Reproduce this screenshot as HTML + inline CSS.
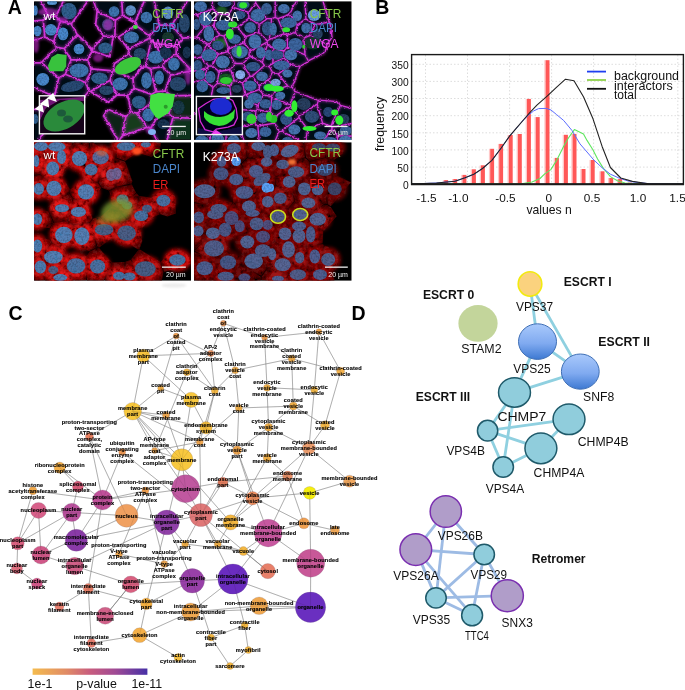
<!DOCTYPE html>
<html><head><meta charset="utf-8"><style>
html,body{margin:0;padding:0;background:#fff;}
body{width:685px;height:690px;position:relative;overflow:hidden;font-family:"Liberation Sans",sans-serif;}
.abs{position:absolute;will-change:transform;}
.lab{position:absolute;font-weight:bold;font-size:20px;line-height:1;color:#000;}
</style></head><body>
<svg class="abs" style="left:0;top:0" width="685" height="690" viewBox="0 0 685 690" font-family="Liberation Sans, sans-serif">
<defs>
<filter id="blur05" x="-20%" y="-20%" width="140%" height="140%"><feGaussianBlur stdDeviation="0.5"/></filter>
<filter id="blur1" x="-30%" y="-30%" width="160%" height="160%"><feGaussianBlur stdDeviation="1"/></filter>
<filter id="blur2" x="-30%" y="-30%" width="160%" height="160%"><feGaussianBlur stdDeviation="2"/></filter>
<filter id="blur3" x="-30%" y="-30%" width="160%" height="160%"><feGaussianBlur stdDeviation="3"/></filter>
<filter id="wig" x="-5%" y="-5%" width="110%" height="110%">
 <feTurbulence type="fractalNoise" baseFrequency="0.25" numOctaves="2" seed="3" result="t"/>
 <feDisplacementMap in="SourceGraphic" in2="t" scale="3.0" xChannelSelector="R" yChannelSelector="G" result="d"/>
 <feGaussianBlur in="d" stdDeviation="0.3"/>
</filter>
<filter id="nuctex" x="-10%" y="-10%" width="120%" height="120%">
 <feTurbulence type="fractalNoise" baseFrequency="0.55" numOctaves="2" seed="7" result="t"/>
 <feColorMatrix in="t" type="matrix" values="0 0 0 0 0  0 0 0 0 0  0 0 0 0 0  0 0 0 -1.0 0.62" result="m"/>
 <feComposite in="m" in2="SourceGraphic" operator="in" result="mm"/>
 <feGaussianBlur in="SourceGraphic" stdDeviation="0.5" result="b"/>
 <feMerge><feMergeNode in="b"/><feMergeNode in="mm"/></feMerge>
</filter>
<filter id="redtex" x="0" y="0" width="100%" height="100%">
 <feTurbulence type="fractalNoise" baseFrequency="0.22" numOctaves="3" seed="11" result="t"/>
 <feColorMatrix in="t" type="matrix" values="0 0 0 0 0  0 0 0 0 0  0 0 0 0 0  0 0 0 -2.2 1.3" result="m"/>
 <feComposite in="m" in2="SourceGraphic" operator="in" result="mm"/>
 <feMerge><feMergeNode in="SourceGraphic"/><feMergeNode in="mm"/></feMerge>
</filter>
</defs>
<clipPath id="cTL"><rect x="34" y="1.2" width="157" height="138.7"/></clipPath>
<g clip-path="url(#cTL)">
<rect x="34" y="1.2" width="157" height="138.7" fill="#000"/>
<g filter="url(#blur05)">
<path d="M85.8,2.8 L85.8,2.1 L85.3,1.8 L63.8,1.8 L56.6,16.3 L60.9,20.5 L71.0,23.0 L85.8,2.8Z" fill="#050a14"/>
<path d="M59.8,21.6 L59.6,21.0 L55.3,16.9 L48.4,16.7 L44.1,20.1 L45.5,36.7 L52.7,40.6 L53.3,40.5 L59.8,21.6Z" fill="#050a14"/>
<path d="M63.7,47.9 L64.2,47.7 L76.5,34.5 L70.8,24.4 L61.4,21.9 L60.8,22.3 L54.3,41.7 L57.2,46.7 L63.7,47.9Z" fill="#050a14"/>
<path d="M43.7,36.7 L44.1,36.1 L42.7,21.0 L42.1,20.7 L34.9,21.6 L34.6,22.1 L34.7,38.9 L35.3,39.2 L43.7,36.7Z" fill="#050a14"/>
<path d="M78.0,35.8 L77.1,35.8 L65.3,48.4 L65.2,49.0 L71.6,59.1 L86.9,59.1 L91.5,50.9 L91.5,49.5 L78.0,35.8Z" fill="#050a14"/>
<path d="M92.8,50.1 L93.2,50.6 L109.1,55.5 L112.3,37.6 L104.2,36.7 L92.9,49.2 L92.8,50.1Z" fill="#050a14"/>
<path d="M104.2,35.2 L113.0,36.3 L114.2,35.8 L114.8,20.9 L97.9,12.5 L97.5,13.0 L96.3,24.4 L104.2,35.2Z" fill="#050a14"/>
<path d="M121.7,15.4 L122.0,14.9 L121.2,2.4 L120.9,1.9 L95.2,1.8 L94.7,2.1 L97.6,10.8 L115.1,19.4 L115.7,19.4 L121.7,15.4Z" fill="#050a14"/>
<path d="M90.6,69.0 L86.8,60.4 L71.8,60.4 L71.4,60.7 L66.3,73.6 L66.6,74.1 L85.5,81.7 L85.9,81.3 L90.6,69.0Z" fill="#050a14"/>
<path d="M42.8,19.4 L47.1,16.1 L47.2,15.4 L40.8,2.0 L35.0,1.8 L34.6,2.4 L34.6,19.9 L35.2,20.3 L42.8,19.4Z" fill="#050a14"/>
<path d="M48.4,15.1 L48.9,15.4 L55.4,15.5 L61.9,2.7 L61.8,2.0 L42.6,2.0 L42.4,2.7 L48.4,15.1Z" fill="#050a14"/>
<path d="M134.2,21.0 L135.0,20.7 L143.0,2.6 L142.9,2.1 L142.4,1.8 L122.7,1.9 L122.4,2.4 L123.3,15.1 L134.2,21.0Z" fill="#050a14"/>
<path d="M149.1,34.5 L150.0,34.5 L158.7,24.7 L153.8,2.1 L153.2,1.8 L145.0,1.8 L144.5,2.2 L135.7,22.2 L136.6,25.0 L149.1,34.5Z" fill="#050a14"/>
<path d="M159.8,24.0 L160.4,24.5 L171.4,24.4 L185.4,2.7 L185.4,2.0 L155.3,1.9 L155.1,2.5 L159.8,24.0Z" fill="#050a14"/>
<path d="M172.7,24.7 L172.7,25.4 L183.1,37.5 L190.3,36.8 L190.2,1.9 L187.3,2.0 L172.7,24.7Z" fill="#050a14"/>
<path d="M149.1,36.3 L136.0,26.1 L119.8,36.8 L119.5,37.3 L129.2,48.2 L148.8,37.9 L149.1,36.3Z" fill="#050a14"/>
<path d="M141.7,66.6 L144.6,66.2 L145.0,65.8 L150.5,41.0 L149.4,39.1 L129.4,49.8 L128.9,54.0 L141.7,66.6Z" fill="#050a14"/>
<path d="M150.4,67.9 L161.9,66.0 L163.5,62.4 L154.9,43.8 L152.0,42.0 L151.4,42.5 L146.2,65.8 L146.6,66.4 L150.4,67.9Z" fill="#050a14"/>
<path d="M175.6,47.4 L175.1,46.9 L157.5,44.2 L156.8,44.7 L164.1,60.8 L164.6,61.1 L175.5,53.6 L175.6,47.4Z" fill="#050a14"/>
<path d="M176.5,55.1 L175.7,55.0 L164.8,62.7 L163.4,66.1 L163.5,66.7 L170.9,74.5 L189.7,70.6 L189.7,69.7 L176.5,55.1Z" fill="#050a14"/>
<path d="M183.4,38.8 L176.8,46.6 L176.8,53.5 L189.4,67.5 L189.9,67.7 L190.4,67.1 L190.4,38.8 L189.8,38.3 L183.4,38.8Z" fill="#050a14"/>
<path d="M41.3,63.4 L35.2,63.4 L34.6,63.9 L34.6,87.2 L53.8,95.4 L54.1,94.9 L58.0,78.2 L41.3,63.4Z" fill="#050a14"/>
<path d="M85.7,83.4 L65.5,74.9 L59.4,78.4 L55.0,96.4 L59.0,107.6 L59.5,108.2 L71.4,111.4 L72.0,111.2 L87.9,91.3 L85.7,83.4Z" fill="#050a14"/>
<path d="M109.3,79.9 L111.7,72.0 L111.5,71.3 L91.8,69.5 L86.7,82.6 L89.1,90.4 L90.5,90.7 L109.3,79.9Z" fill="#050a14"/>
<path d="M108.1,101.3 L108.8,101.3 L116.0,94.7 L110.1,81.6 L109.6,81.3 L92.5,90.9 L92.2,91.4 L92.5,92.0 L108.1,101.3Z" fill="#050a14"/>
<path d="M35.2,110.1 L34.6,110.7 L34.6,138.8 L35.1,139.3 L38.7,139.3 L58.2,109.2 L57.6,108.6 L35.2,110.1Z" fill="#050a14"/>
<path d="M113.9,71.2 L113.1,71.6 L110.7,80.2 L117.2,94.1 L117.7,94.4 L127.4,94.4 L133.5,88.0 L132.3,79.3 L113.9,71.2Z" fill="#050a14"/>
<path d="M134.7,87.5 L135.0,88.0 L151.3,93.7 L154.9,91.6 L149.9,69.0 L145.4,67.2 L142.0,68.2 L133.6,78.9 L134.7,87.5Z" fill="#050a14"/>
<path d="M151.9,69.0 L151.4,69.7 L156.2,90.8 L156.8,91.1 L164.7,90.2 L169.7,75.2 L162.3,67.3 L151.9,69.0Z" fill="#050a14"/>
<path d="M171.4,75.7 L170.9,76.1 L166.1,90.2 L166.2,90.9 L172.1,95.2 L190.2,94.6 L190.2,72.0 L189.7,71.9 L171.4,75.7Z" fill="#050a14"/>
<path d="M131.5,111.2 L132.0,111.6 L137.2,112.4 L149.7,103.4 L150.7,94.8 L134.7,89.1 L134.1,89.2 L128.3,95.4 L131.5,111.2Z" fill="#050a14"/>
<path d="M138.6,112.9 L138.5,113.7 L147.5,126.5 L149.9,127.5 L150.5,127.2 L157.8,115.1 L150.3,104.7 L138.6,112.9Z" fill="#050a14"/>
<path d="M159.3,115.5 L151.3,128.6 L157.1,139.2 L166.5,139.3 L166.9,138.8 L172.1,117.8 L168.8,114.8 L159.3,115.5Z" fill="#050a14"/>
<path d="M172.8,96.4 L172.2,97.0 L170.0,114.1 L173.3,117.0 L190.2,117.3 L190.3,96.2 L172.8,96.4Z" fill="#0e2616"/>
<path d="M42.7,62.2 L42.7,63.1 L59.0,77.2 L64.8,73.7 L70.4,59.8 L63.9,49.3 L57.1,48.0 L42.7,62.2Z" fill="#050a14"/>
<path d="M140.7,67.9 L140.6,67.1 L127.9,55.1 L115.2,63.8 L114.0,69.6 L114.4,70.1 L132.6,77.9 L140.7,67.9Z" fill="#050a14"/>
<path d="M158.8,114.0 L159.3,114.3 L168.1,113.7 L168.7,113.2 L171.1,96.3 L165.0,91.5 L156.0,92.4 L152.1,95.0 L151.1,103.5 L158.8,114.0Z" fill="#050a14"/>
<path d="M151.5,40.1 L155.6,42.7 L175.7,45.7 L181.9,38.2 L171.4,25.8 L159.9,25.7 L150.3,35.8 L150.3,37.9 L151.5,40.1Z" fill="#050a14"/>
<path d="M123.2,134.0 L123.4,134.6 L124.0,134.7 L145.8,126.9 L145.8,126.2 L136.9,113.7 L131.3,112.8 L126.5,116.9 L123.2,134.0Z" fill="#123a1e"/>
<path d="M173.8,118.2 L173.2,118.6 L168.3,139.1 L190.2,139.2 L190.3,118.9 L173.8,118.2Z" fill="#10301e"/>
<path d="M121.6,135.9 L125.0,117.0 L108.6,110.4 L104.6,115.3 L104.5,115.9 L117.7,139.1 L119.3,139.2 L121.6,135.9Z" fill="#0c2414"/>
</g>
<path d="M191.0,37.6 L182.9,38.2 M187.1,1.2 L171.7,25.1 M182.9,38.2 L171.7,25.1 M171.7,25.1 L159.4,25.1 M159.4,25.1 L154.2,1.2 M41.1,1.2 L48.1,16.0 M34.0,21.0 L43.3,20.0 M48.1,16.0 L43.3,20.0 M155.3,43.3 L164.2,62.4 M176.2,46.4 L155.3,43.3 M176.2,46.4 L176.2,53.9 M164.2,62.4 L176.2,53.9 M182.9,38.2 L176.2,46.4 M191.0,70.2 L176.2,53.9 M155.8,91.8 L165.2,90.9 M155.8,91.8 L150.5,68.6 M165.2,90.9 L170.6,75.2 M170.6,75.2 L162.6,66.5 M150.5,68.6 L162.6,66.5 M191.0,95.4 L171.8,95.9 M171.8,95.9 L165.2,90.9 M191.0,71.0 L170.6,75.2 M164.2,62.4 L162.6,66.5 M158.7,114.9 L169.1,114.2 M158.7,114.9 L150.5,128.4 M156.7,139.9 L150.5,128.4 M167.2,139.9 L172.9,117.5 M172.9,117.5 L169.1,114.2 M191.0,118.1 L172.9,117.5 M171.8,95.9 L169.1,114.2 M147.2,127.1 L150.5,128.4 M147.2,127.1 L137.3,113.1 M158.7,114.9 L150.4,103.6 M137.3,113.1 L150.4,103.6 M155.8,91.8 L151.6,94.4 M151.6,94.4 L150.4,103.6 M159.4,25.1 L149.7,35.7 M144.3,1.2 L135.0,22.1 M149.7,35.7 L136.0,25.3 M135.0,22.1 L136.0,25.3 M147.2,127.1 L122.2,136.0 M122.2,136.0 L119.6,139.9 M39.3,139.9 L59.3,108.9 M34.0,109.5 L58.5,108.0 M59.3,108.9 L58.5,108.0 M135.0,22.1 L122.6,15.5 M121.8,1.2 L122.6,15.5 M48.1,16.0 L55.7,16.3 M55.7,16.3 L63.3,1.2 M117.5,139.9 L103.6,115.5 M59.3,108.9 L72.0,112.2 M43.3,20.0 L44.8,37.0 M44.8,37.0 L34.0,40.2 M149.7,35.7 L149.7,38.1 M118.3,37.1 L128.9,49.1 M136.0,25.3 L118.3,37.1 M128.9,49.1 L149.7,38.1 M155.3,43.3 L151.2,40.7 M150.5,68.6 L145.4,66.6 M151.2,40.7 L145.4,66.6 M151.2,40.7 L149.7,38.1 M34.0,62.9 L41.3,62.7 M34.0,87.8 L54.4,96.5 M41.3,62.7 L58.8,78.0 M54.4,96.5 L58.8,78.0 M58.5,108.0 L54.4,96.5 M122.6,15.5 L115.4,20.3 M93.6,1.2 L97.1,11.2 M97.1,11.2 L115.4,20.3 M115.4,20.3 L114.9,36.3 M77.3,34.7 L71.2,23.9 M77.3,34.7 L64.2,48.6 M64.2,48.6 L56.7,47.3 M60.6,21.1 L71.2,23.9 M60.6,21.1 L53.6,41.8 M53.6,41.8 L56.7,47.3 M71.1,59.8 L64.2,48.6 M65.3,74.2 L71.1,59.8 M65.3,74.2 L58.8,78.0 M41.3,62.7 L56.7,47.3 M55.7,16.3 L60.6,21.1 M87.7,1.2 L71.2,23.9 M44.8,37.0 L53.6,41.8 M128.9,49.1 L128.1,54.1 M145.4,66.6 L141.8,67.5 M141.8,67.5 L128.1,54.1 M114.9,36.3 L113.2,36.9 M109.7,56.6 L113.2,36.9 M128.1,54.1 L114.5,63.5 M104.0,36.0 L95.7,24.6 M104.0,36.0 L92.1,49.1 M92.1,49.1 L77.8,34.8 M113.2,36.9 L104.0,36.0 M97.1,11.2 L95.7,24.6 M109.7,56.6 L92.2,51.0 M92.2,51.0 L92.1,49.1 M77.3,34.7 L77.8,34.8 M71.1,59.8 L87.4,59.8 M87.4,59.8 L92.2,51.0 M103.6,115.5 L108.5,109.5 M122.2,136.0 L125.9,116.6 M108.5,109.5 L125.9,116.6 M137.3,113.1 L131.1,112.1 M131.1,112.1 L125.9,116.6 M141.8,67.5 L132.9,78.8 M114.5,63.5 L113.2,70.3 M113.2,70.3 L132.9,78.8 M151.6,94.4 L134.2,88.3 M131.1,112.1 L127.6,95.1 M134.2,88.3 L127.6,95.1 M134.2,88.3 L132.9,78.8 M108.5,102.3 L116.9,95.0 M127.6,95.1 L116.9,95.0 M112.7,70.8 L110.1,80.2 M112.7,70.8 L91.3,68.8 M110.1,80.2 L90.5,91.4 M91.3,68.8 L86.1,82.7 M86.1,82.7 L88.7,91.3 M88.7,91.3 L90.5,91.4 M113.2,70.3 L112.7,70.8 M116.9,95.0 L110.1,80.2 M87.4,59.8 L91.3,68.8 M108.5,102.3 L90.5,91.4 M65.3,74.2 L86.1,82.7 M72.0,112.2 L88.7,91.3" fill="none" stroke="#d034d6" stroke-width="4.42" stroke-opacity="0.35" filter="url(#blur1)"/>
<path d="M191.0,37.6 L182.9,38.2 M187.1,1.2 L171.7,25.1 M182.9,38.2 L171.7,25.1 M171.7,25.1 L159.4,25.1 M159.4,25.1 L154.2,1.2 M41.1,1.2 L48.1,16.0 M34.0,21.0 L43.3,20.0 M48.1,16.0 L43.3,20.0 M155.3,43.3 L164.2,62.4 M176.2,46.4 L155.3,43.3 M176.2,46.4 L176.2,53.9 M164.2,62.4 L176.2,53.9 M182.9,38.2 L176.2,46.4 M191.0,70.2 L176.2,53.9 M155.8,91.8 L165.2,90.9 M155.8,91.8 L150.5,68.6 M165.2,90.9 L170.6,75.2 M170.6,75.2 L162.6,66.5 M150.5,68.6 L162.6,66.5 M191.0,95.4 L171.8,95.9 M171.8,95.9 L165.2,90.9 M191.0,71.0 L170.6,75.2 M164.2,62.4 L162.6,66.5 M158.7,114.9 L169.1,114.2 M158.7,114.9 L150.5,128.4 M156.7,139.9 L150.5,128.4 M167.2,139.9 L172.9,117.5 M172.9,117.5 L169.1,114.2 M191.0,118.1 L172.9,117.5 M171.8,95.9 L169.1,114.2 M147.2,127.1 L150.5,128.4 M147.2,127.1 L137.3,113.1 M158.7,114.9 L150.4,103.6 M137.3,113.1 L150.4,103.6 M155.8,91.8 L151.6,94.4 M151.6,94.4 L150.4,103.6 M159.4,25.1 L149.7,35.7 M144.3,1.2 L135.0,22.1 M149.7,35.7 L136.0,25.3 M135.0,22.1 L136.0,25.3 M147.2,127.1 L122.2,136.0 M122.2,136.0 L119.6,139.9 M39.3,139.9 L59.3,108.9 M34.0,109.5 L58.5,108.0 M59.3,108.9 L58.5,108.0 M135.0,22.1 L122.6,15.5 M121.8,1.2 L122.6,15.5 M48.1,16.0 L55.7,16.3 M55.7,16.3 L63.3,1.2 M117.5,139.9 L103.6,115.5 M59.3,108.9 L72.0,112.2 M43.3,20.0 L44.8,37.0 M44.8,37.0 L34.0,40.2 M149.7,35.7 L149.7,38.1 M118.3,37.1 L128.9,49.1 M136.0,25.3 L118.3,37.1 M128.9,49.1 L149.7,38.1 M155.3,43.3 L151.2,40.7 M150.5,68.6 L145.4,66.6 M151.2,40.7 L145.4,66.6 M151.2,40.7 L149.7,38.1 M34.0,62.9 L41.3,62.7 M34.0,87.8 L54.4,96.5 M41.3,62.7 L58.8,78.0 M54.4,96.5 L58.8,78.0 M58.5,108.0 L54.4,96.5 M122.6,15.5 L115.4,20.3 M93.6,1.2 L97.1,11.2 M97.1,11.2 L115.4,20.3 M115.4,20.3 L114.9,36.3 M77.3,34.7 L71.2,23.9 M77.3,34.7 L64.2,48.6 M64.2,48.6 L56.7,47.3 M60.6,21.1 L71.2,23.9 M60.6,21.1 L53.6,41.8 M53.6,41.8 L56.7,47.3 M71.1,59.8 L64.2,48.6 M65.3,74.2 L71.1,59.8 M65.3,74.2 L58.8,78.0 M41.3,62.7 L56.7,47.3 M55.7,16.3 L60.6,21.1 M87.7,1.2 L71.2,23.9 M44.8,37.0 L53.6,41.8 M128.9,49.1 L128.1,54.1 M145.4,66.6 L141.8,67.5 M141.8,67.5 L128.1,54.1 M114.9,36.3 L113.2,36.9 M109.7,56.6 L113.2,36.9 M128.1,54.1 L114.5,63.5 M104.0,36.0 L95.7,24.6 M104.0,36.0 L92.1,49.1 M92.1,49.1 L77.8,34.8 M113.2,36.9 L104.0,36.0 M97.1,11.2 L95.7,24.6 M109.7,56.6 L92.2,51.0 M92.2,51.0 L92.1,49.1 M77.3,34.7 L77.8,34.8 M71.1,59.8 L87.4,59.8 M87.4,59.8 L92.2,51.0 M103.6,115.5 L108.5,109.5 M122.2,136.0 L125.9,116.6 M108.5,109.5 L125.9,116.6 M137.3,113.1 L131.1,112.1 M131.1,112.1 L125.9,116.6 M141.8,67.5 L132.9,78.8 M114.5,63.5 L113.2,70.3 M113.2,70.3 L132.9,78.8 M151.6,94.4 L134.2,88.3 M131.1,112.1 L127.6,95.1 M134.2,88.3 L127.6,95.1 M134.2,88.3 L132.9,78.8 M108.5,102.3 L116.9,95.0 M127.6,95.1 L116.9,95.0 M112.7,70.8 L110.1,80.2 M112.7,70.8 L91.3,68.8 M110.1,80.2 L90.5,91.4 M91.3,68.8 L86.1,82.7 M86.1,82.7 L88.7,91.3 M88.7,91.3 L90.5,91.4 M113.2,70.3 L112.7,70.8 M116.9,95.0 L110.1,80.2 M87.4,59.8 L91.3,68.8 M108.5,102.3 L90.5,91.4 M65.3,74.2 L86.1,82.7 M72.0,112.2 L88.7,91.3" fill="none" stroke="#d034d6" stroke-width="1.7" stroke-linecap="round" filter="url(#wig)"/>
<path d="M187.1,37.8h0.01M183.3,38.4h0.01M179.6,11.9h0.01M187.7,1.4h0.01M173.5,21.0h0.01M174.4,24.9h0.01M183.9,8.1h0.01M179.0,15.0h0.01M182.3,12.2h0.01M176.4,14.7h0.01M177.2,32.0h0.01M182.4,37.9h0.01M179.8,38.6h0.01M179.8,34.8h0.01M160.0,23.8h0.01M170.3,26.0h0.01M169.6,25.7h0.01M156.6,24.0h0.01M159.1,20.7h0.01M154.5,7.9h0.01M157.1,5.4h0.01M157.1,20.9h0.01M159.0,17.4h0.01M43.1,0.5h0.01M47.4,14.5h0.01M41.2,4.6h0.01M40.5,1.6h0.01M35.4,21.8h0.01M35.0,20.9h0.01M43.4,17.4h0.01M162.6,57.9h0.01M154.8,44.2h0.01M160.5,57.5h0.01M157.1,43.6h0.01M158.4,48.4h0.01M157.6,51.4h0.01M168.5,43.4h0.01M162.6,46.2h0.01M168.2,46.1h0.01M157.5,44.0h0.01M166.0,45.8h0.01M168.5,46.1h0.01M178.2,48.3h0.01M177.0,50.0h0.01M175.1,56.2h0.01M177.6,56.3h0.01M168.1,61.9h0.01M174.3,55.1h0.01M177.1,46.2h0.01M178.4,42.8h0.01M179.7,42.5h0.01M191.0,67.0h0.01M188.5,67.1h0.01M180.8,60.0h0.01M180.4,57.8h0.01M178.9,59.0h0.01M190.9,66.7h0.01M163.1,92.9h0.01M162.1,92.7h0.01M153.9,80.9h0.01M153.1,82.3h0.01M149.2,69.0h0.01M153.8,76.0h0.01M149.9,70.1h0.01M154.9,78.9h0.01M168.7,78.3h0.01M166.0,84.8h0.01M169.9,80.4h0.01M167.1,82.3h0.01M163.1,68.4h0.01M164.4,68.4h0.01M164.0,70.7h0.01M153.1,68.6h0.01M153.0,69.2h0.01M158.9,68.0h0.01M178.7,96.0h0.01M186.9,96.5h0.01M177.3,93.7h0.01M170.8,95.5h0.01M190.7,97.4h0.01M165.4,94.1h0.01M166.6,93.4h0.01M188.2,72.4h0.01M191.9,70.3h0.01M189.8,73.3h0.01M176.6,73.9h0.01M171.9,74.0h0.01M163.7,66.0h0.01M159.8,115.7h0.01M163.5,114.6h0.01M148.7,129.7h0.01M151.3,124.8h0.01M154.7,121.3h0.01M156.9,118.8h0.01M157.7,138.2h0.01M150.7,130.1h0.01M158.5,139.9h0.01M168.3,135.8h0.01M169.1,137.6h0.01M170.3,134.1h0.01M174.0,120.4h0.01M171.0,123.3h0.01M169.7,130.8h0.01M169.5,115.1h0.01M187.1,117.4h0.01M180.7,115.8h0.01M186.9,116.2h0.01M190.7,115.9h0.01M185.4,118.2h0.01M169.7,98.8h0.01M171.4,107.4h0.01M171.3,97.7h0.01M171.3,97.7h0.01M170.8,98.8h0.01M148.9,126.8h0.01M138.3,117.4h0.01M143.8,123.5h0.01M142.4,116.5h0.01M143.1,125.6h0.01M155.4,109.0h0.01M158.3,114.6h0.01M155.1,107.3h0.01M152.7,107.8h0.01M138.6,113.0h0.01M148.6,106.9h0.01M144.5,110.6h0.01M146.6,108.5h0.01M150.2,93.8h0.01M151.7,104.9h0.01M149.9,96.3h0.01M153.9,34.9h0.01M151.2,30.7h0.01M153.8,30.6h0.01M156.8,31.2h0.01M141.0,9.3h0.01M137.7,17.5h0.01M145.6,2.1h0.01M140.7,8.3h0.01M139.0,11.1h0.01M137.9,18.5h0.01M147.7,36.6h0.01M137.8,25.7h0.01M136.3,25.4h0.01M142.1,29.5h0.01M128.5,135.9h0.01M148.2,128.1h0.01M133.6,132.7h0.01M122.7,137.5h0.01M144.0,129.1h0.01M124.0,134.4h0.01M129.0,135.6h0.01M118.8,138.1h0.01M49.5,123.0h0.01M53.9,116.2h0.01M42.1,134.0h0.01M44.3,131.1h0.01M51.7,121.5h0.01M56.9,114.1h0.01M54.8,113.1h0.01M37.8,138.4h0.01M58.9,110.6h0.01M42.7,133.9h0.01M49.8,110.0h0.01M48.1,110.3h0.01M44.3,107.7h0.01M37.3,108.3h0.01M54.0,107.5h0.01M37.5,108.0h0.01M43.7,108.6h0.01M132.3,18.2h0.01M125.1,17.0h0.01M124.0,15.6h0.01M136.3,20.0h0.01M120.9,6.6h0.01M123.9,12.3h0.01M121.5,1.5h0.01M120.9,2.8h0.01M50.3,16.1h0.01M52.7,16.7h0.01M62.4,5.5h0.01M58.3,12.4h0.01M58.4,10.5h0.01M64.8,2.1h0.01M103.9,117.1h0.01M111.0,129.4h0.01M116.0,137.3h0.01M114.5,139.0h0.01M112.2,128.5h0.01M115.4,133.7h0.01M106.6,117.3h0.01M107.0,122.9h0.01M71.3,111.0h0.01M64.0,109.5h0.01M68.5,111.7h0.01M45.9,25.8h0.01M44.8,36.4h0.01M42.8,19.6h0.01M45.0,34.3h0.01M37.1,40.9h0.01M34.8,37.8h0.01M44.0,38.1h0.01M125.2,47.0h0.01M116.9,36.5h0.01M118.6,37.4h0.01M120.4,40.5h0.01M126.0,33.6h0.01M128.7,32.6h0.01M133.9,25.8h0.01M130.8,27.8h0.01M118.6,38.6h0.01M133.2,29.1h0.01M139.2,43.1h0.01M147.0,40.5h0.01M137.6,46.1h0.01M140.7,41.8h0.01M132.1,46.5h0.01M136.4,46.1h0.01M151.6,40.8h0.01M148.9,68.0h0.01M144.7,58.8h0.01M146.3,53.9h0.01M148.8,42.7h0.01M147.4,59.0h0.01M146.6,61.5h0.01M153.2,42.2h0.01M148.6,55.0h0.01M40.7,61.1h0.01M34.6,64.9h0.01M44.0,90.6h0.01M44.4,90.2h0.01M47.2,95.8h0.01M37.6,87.4h0.01M50.6,93.1h0.01M49.5,94.9h0.01M48.0,68.7h0.01M49.8,69.1h0.01M53.5,75.3h0.01M48.3,68.0h0.01M42.8,62.0h0.01M53.9,75.2h0.01M57.4,87.6h0.01M54.7,95.3h0.01M56.9,92.4h0.01M55.1,88.9h0.01M59.2,83.4h0.01M58.8,102.0h0.01M58.1,103.5h0.01M53.8,100.9h0.01M120.2,17.8h0.01M121.8,16.1h0.01M93.1,7.6h0.01M94.2,9.8h0.01M95.1,2.8h0.01M101.0,10.3h0.01M100.4,13.6h0.01M100.7,14.5h0.01M102.2,15.0h0.01M109.6,18.7h0.01M115.9,33.9h0.01M115.1,31.4h0.01M113.3,26.7h0.01M117.0,34.9h0.01M75.9,30.6h0.01M70.3,22.1h0.01M73.6,28.9h0.01M75.9,38.2h0.01M75.9,37.1h0.01M70.2,43.4h0.01M65.9,44.5h0.01M75.0,36.6h0.01M60.1,49.5h0.01M57.0,47.9h0.01M63.0,22.9h0.01M72.5,25.2h0.01M69.8,21.4h0.01M58.9,31.5h0.01M54.9,36.0h0.01M52.5,40.2h0.01M60.1,27.5h0.01M58.6,23.7h0.01M61.0,25.2h0.01M52.9,43.6h0.01M69.3,55.4h0.01M69.3,58.3h0.01M66.0,47.1h0.01M65.6,70.1h0.01M71.1,65.2h0.01M69.9,69.1h0.01M71.6,62.7h0.01M64.5,75.5h0.01M60.0,77.9h0.01M53.8,49.5h0.01M56.6,50.2h0.01M55.7,51.2h0.01M50.2,53.9h0.01M48.2,53.0h0.01M57.1,48.4h0.01M60.5,21.6h0.01M73.9,20.8h0.01M77.3,16.3h0.01M73.8,20.7h0.01M85.5,1.4h0.01M79.2,11.7h0.01M80.2,11.0h0.01M85.5,3.3h0.01M87.3,1.3h0.01M50.6,40.7h0.01M44.0,34.9h0.01M129.2,51.3h0.01M141.6,65.5h0.01M134.5,59.6h0.01M135.7,62.2h0.01M137.8,61.7h0.01M140.0,64.4h0.01M140.7,66.3h0.01M111.6,45.5h0.01M113.7,39.1h0.01M111.7,48.4h0.01M112.5,36.3h0.01M112.1,39.8h0.01M123.6,55.7h0.01M125.2,55.7h0.01M119.4,59.1h0.01M117.0,59.5h0.01M100.7,28.9h0.01M104.6,32.6h0.01M100.4,33.6h0.01M105.1,36.3h0.01M105.7,36.6h0.01M96.0,43.3h0.01M100.6,40.6h0.01M94.3,44.0h0.01M93.8,47.1h0.01M82.1,40.8h0.01M83.5,37.1h0.01M83.3,38.3h0.01M80.2,39.6h0.01M81.0,40.8h0.01M111.5,35.3h0.01M109.0,35.7h0.01M95.5,22.4h0.01M94.4,23.4h0.01M97.3,18.0h0.01M91.4,51.2h0.01M95.6,53.2h0.01M93.9,49.4h0.01M102.2,53.3h0.01M106.2,56.8h0.01M85.3,58.7h0.01M74.0,57.7h0.01M77.7,58.1h0.01M82.0,58.3h0.01M87.6,55.3h0.01M91.3,53.2h0.01M105.8,112.8h0.01M104.9,113.1h0.01M124.4,131.3h0.01M123.7,123.5h0.01M126.2,123.4h0.01M125.4,130.1h0.01M122.4,133.2h0.01M123.0,116.2h0.01M116.6,110.1h0.01M120.7,115.4h0.01M122.7,118.0h0.01M107.5,109.9h0.01M133.5,113.4h0.01M128.7,112.9h0.01M133.5,77.1h0.01M136.3,74.1h0.01M136.1,75.1h0.01M133.4,76.3h0.01M113.0,66.2h0.01M119.3,71.8h0.01M115.6,69.9h0.01M132.4,76.3h0.01M116.6,72.6h0.01M116.6,70.9h0.01M133.2,80.1h0.01M147.7,93.6h0.01M139.7,90.7h0.01M144.4,89.7h0.01M149.8,93.4h0.01M136.3,89.2h0.01M129.4,98.4h0.01M128.4,96.9h0.01M131.5,104.8h0.01M127.3,98.6h0.01M129.1,92.0h0.01M130.1,93.7h0.01M132.2,82.0h0.01M133.4,82.3h0.01M115.2,96.8h0.01M115.6,96.3h0.01M108.8,98.8h0.01M116.0,95.4h0.01M124.3,93.8h0.01M124.3,96.3h0.01M112.2,80.1h0.01M114.0,72.1h0.01M91.4,67.3h0.01M92.9,68.2h0.01M96.1,69.7h0.01M108.8,72.2h0.01M97.6,70.7h0.01M107.4,72.0h0.01M97.5,85.4h0.01M102.0,84.7h0.01M101.3,82.8h0.01M104.0,84.2h0.01M96.4,87.0h0.01M112.0,81.5h0.01M92.1,72.2h0.01M88.4,76.3h0.01M88.2,78.9h0.01M87.5,72.8h0.01M87.8,89.5h0.01M87.5,89.4h0.01M112.2,89.5h0.01M116.5,94.7h0.01M113.5,91.0h0.01M115.0,89.9h0.01M89.5,62.5h0.01M90.5,67.0h0.01M99.8,94.9h0.01M101.2,100.9h0.01M97.9,95.6h0.01M99.1,96.7h0.01M104.5,100.3h0.01M92.1,93.5h0.01M74.9,77.3h0.01M72.4,75.5h0.01M79.8,81.6h0.01M79.1,79.0h0.01M75.8,80.9h0.01M83.7,83.2h0.01M89.5,93.5h0.01M87.9,95.1h0.01M79.8,104.9h0.01M75.4,109.6h0.01M82.1,102.6h0.01M88.7,95.2h0.01M78.8,103.1h0.01" stroke="#d034d6" stroke-width="1.1" stroke-linecap="round" stroke-opacity="0.75"/>
<g filter="url(#nuctex)">
<ellipse cx="69.0" cy="11.1" rx="7.6" ry="8.2" fill="#33608f"/>
<ellipse cx="50.9" cy="29.8" rx="5.8" ry="5.8" fill="#4a88cc"/>
<ellipse cx="63.0" cy="33.9" rx="5.3" ry="6.4" fill="#4a88cc"/>
<ellipse cx="37.5" cy="31.0" rx="4.0" ry="5.3" fill="#4a88cc"/>
<ellipse cx="79.0" cy="49.0" rx="5.3" ry="5.3" fill="#4a88cc"/>
<ellipse cx="105.2" cy="47.9" rx="7.0" ry="5.3" fill="#33608f"/>
<ellipse cx="107.6" cy="24.5" rx="5.5" ry="5.5" fill="#294a6e"/>
<ellipse cx="114.0" cy="11.5" rx="5.3" ry="5.3" fill="#3f74b0"/>
<ellipse cx="79.0" cy="70.5" rx="9.5" ry="7.0" fill="#3f74b0"/>
<ellipse cx="35.2" cy="10.5" rx="2.5" ry="5.0" fill="#4a88cc"/>
<ellipse cx="52.0" cy="2.5" rx="5.0" ry="2.5" fill="#5a9ad8"/>
<ellipse cx="130.7" cy="10.5" rx="5.3" ry="5.3" fill="#6090c8"/>
<ellipse cx="146.5" cy="17.5" rx="5.8" ry="5.8" fill="#3f74b0"/>
<ellipse cx="168.0" cy="12.8" rx="5.3" ry="6.4" fill="#6090c8"/>
<ellipse cx="184.4" cy="23.4" rx="5.3" ry="9.3" fill="#294a6e"/>
<ellipse cx="131.3" cy="37.4" rx="7.6" ry="5.8" fill="#3f74b0"/>
<ellipse cx="140.0" cy="53.7" rx="6.4" ry="5.8" fill="#294a6e"/>
<ellipse cx="155.8" cy="57.2" rx="7.6" ry="6.4" fill="#3f74b0"/>
<ellipse cx="165.7" cy="52.6" rx="5.8" ry="5.8" fill="#1e3652"/>
<ellipse cx="173.9" cy="64.2" rx="5.8" ry="6.4" fill="#3f74b0"/>
<ellipse cx="186.7" cy="52.6" rx="4.0" ry="6.0" fill="#1e3652"/>
<ellipse cx="42.8" cy="79.3" rx="6.4" ry="6.4" fill="#4a88cc"/>
<ellipse cx="72.5" cy="86.4" rx="11.7" ry="5.3" fill="#2a4c74" transform="rotate(-10 72.5 86.4)"/>
<ellipse cx="99.4" cy="78.2" rx="8.2" ry="5.8" fill="#33608f"/>
<ellipse cx="106.4" cy="90.4" rx="7.0" ry="4.7" fill="#294a6e"/>
<ellipse cx="35.2" cy="119.0" rx="3.0" ry="5.0" fill="#33608f"/>
<ellipse cx="120.2" cy="84.0" rx="7.6" ry="6.4" fill="#3f74b0"/>
<ellipse cx="146.5" cy="80.5" rx="5.3" ry="8.2" fill="#3f74b0"/>
<ellipse cx="159.3" cy="77.6" rx="4.7" ry="7.0" fill="#3f74b0"/>
<ellipse cx="178.0" cy="84.0" rx="8.2" ry="7.0" fill="#294a6e"/>
<ellipse cx="138.9" cy="102.1" rx="7.0" ry="6.4" fill="#33608f"/>
<ellipse cx="148.2" cy="115.0" rx="5.8" ry="6.4" fill="#3f74b0"/>
<ellipse cx="163.4" cy="124.3" rx="6.0" ry="5.0" fill="#1e3652"/>
<ellipse cx="178.6" cy="107.4" rx="6.0" ry="7.0" fill="#1c3a48"/>
<ellipse cx="168.0" cy="37.4" rx="6.0" ry="5.5" fill="#1e3a30"/>
</g>
<g filter="url(#blur05)">
<polygon points="51.5,57.2 57.4,53.7 66.7,54.9 66.1,66.6 63.2,71.2 49.2,71.2 48.0,65.4" fill="#38c23c"/>
<ellipse cx="128.0" cy="65.8" rx="14.0" ry="7.2" fill="#3ac63a" transform="rotate(-25 128.0 65.8)"/>
<polygon points="150.5,95.1 158.7,92.8 175.0,93.9 172.7,106.2 168.0,113.2 158.7,119.0 155.2,116.7 149.4,107.4" fill="#42e042"/>
<ellipse cx="165.7" cy="106.8" rx="2.0" ry="2.0" fill="#2a9a2a"/>
<ellipse cx="135.4" cy="26.9" rx="2.5" ry="2.0" fill="#40e040"/>
</g>
<g fill="#c028c8" opacity="0.6" filter="url(#blur1)">
<ellipse cx="48.0" cy="12.0" rx="10.0" ry="4.0" fill="#c028c8"/>
<ellipse cx="62.0" cy="20.0" rx="6.0" ry="3.0" fill="#c028c8"/>
<ellipse cx="108.0" cy="25.0" rx="5.0" ry="6.0" fill="#c028c8"/>
<ellipse cx="36.0" cy="45.0" rx="3.0" ry="8.0" fill="#c028c8"/>
<ellipse cx="98.0" cy="58.0" rx="5.0" ry="4.0" fill="#c028c8"/>
<ellipse cx="188.0" cy="75.0" rx="3.0" ry="10.0" fill="#c028c8"/>
<ellipse cx="150.0" cy="130.0" rx="4.0" ry="4.0" fill="#c028c8"/>
</g>
<ellipse cx="152.0" cy="132.0" rx="4.0" ry="3.0" fill="#80b0f0" filter="url(#blur05)"/>
<rect x="39.4" y="95.8" width="45.3" height="38" fill="#16041a"/>
<g filter="url(#blur05)">
<path d="M40,100 L84,97 L84,101 L60,100 L46,108 L40,120Z" fill="#7a1a80" opacity="0.9"/>
<ellipse cx="64.0" cy="115.5" rx="22.5" ry="13.2" fill="#2c8a3a" transform="rotate(-30 64.0 115.5)"/>
<ellipse cx="61.5" cy="113.0" rx="4.5" ry="3.5" fill="#1f5a3a"/>
<ellipse cx="68.0" cy="119.0" rx="5.0" ry="3.5" fill="#1f5a3a"/>
</g>
<rect x="39.4" y="95.8" width="45.3" height="38" fill="none" stroke="#f4f4f4" stroke-width="1.4"/>
<g fill="#fff">
<polygon points="34.6,109.1 42.2,103.3 43.9,112.6" fill="#fff"/>
<polygon points="39.8,103.9 48.0,97.4 49.2,107.4" fill="#fff"/>
<polygon points="46.8,98.6 53.3,92.8 56.8,102.1" fill="#fff"/>
</g>
<rect x="162.2" y="125.8" width="23.6" height="1.3" fill="#eee"/>
<text x="166.6" y="135.4" font-size="7" fill="#eee">20 µm</text>
<text x="43.6" y="20" font-size="11.6" fill="#fff">wt</text>
<text x="152.3" y="17.8" font-size="13" fill="#88c84a" textLength="31.6" lengthAdjust="spacingAndGlyphs">CFTR</text>
<text x="152.3" y="31.9" font-size="13" fill="#4a86cc" textLength="27.3" lengthAdjust="spacingAndGlyphs">DAPI</text>
<text x="152.3" y="47.8" font-size="13" fill="#f048f0" textLength="28.7" lengthAdjust="spacingAndGlyphs">WGA</text>
</g>
<clipPath id="cTR"><rect x="194" y="1.2" width="157.7" height="138.7"/></clipPath>
<g clip-path="url(#cTR)">
<rect x="194" y="1.2" width="157.7" height="138.7" fill="#000"/>
<g filter="url(#blur05)">
<path d="M196.9,14.5 L212.1,8.5 L212.3,8.0 L211.5,2.0 L194.8,1.9 L194.6,13.6 L195.0,14.0 L196.9,14.5Z" fill="#050a14"/>
<path d="M227.5,13.9 L233.0,7.2 L233.1,1.9 L213.0,2.0 L213.6,8.6 L217.5,13.3 L227.5,13.9Z" fill="#050a14"/>
<path d="M234.3,6.5 L234.7,7.1 L248.4,11.6 L255.0,2.3 L254.4,1.8 L235.0,1.8 L234.6,2.3 L234.3,6.5Z" fill="#050a14"/>
<path d="M258.8,23.6 L259.5,23.6 L265.8,18.9 L266.0,18.4 L256.1,4.6 L255.5,4.3 L249.4,12.5 L249.4,17.5 L258.8,23.6Z" fill="#050a14"/>
<path d="M256.3,2.5 L267.3,17.9 L271.5,17.9 L274.5,16.8 L274.4,1.9 L256.9,1.8 L256.3,2.5Z" fill="#050a14"/>
<path d="M196.0,36.5 L203.4,27.0 L196.8,15.8 L195.2,15.3 L194.6,15.9 L194.6,35.9 L195.0,36.5 L196.0,36.5Z" fill="#050a14"/>
<path d="M204.8,27.6 L197.8,36.9 L207.4,43.7 L218.2,35.1 L218.4,34.6 L213.2,26.0 L204.8,27.6Z" fill="#050a14"/>
<path d="M219.6,34.2 L223.9,35.3 L234.6,26.8 L234.5,26.2 L227.7,15.1 L218.1,14.6 L217.6,15.0 L214.2,25.1 L219.6,34.2Z" fill="#050a14"/>
<path d="M248.2,13.2 L247.7,12.7 L234.0,8.2 L229.0,14.6 L235.9,26.1 L237.7,26.6 L248.0,17.9 L248.2,13.2Z" fill="#050a14"/>
<path d="M239.2,27.1 L239.1,27.9 L245.4,36.1 L257.7,32.1 L258.1,31.7 L258.4,24.8 L249.0,18.9 L248.5,19.1 L239.2,27.1Z" fill="#050a14"/>
<path d="M267.5,19.3 L259.8,24.9 L259.3,32.0 L267.4,40.0 L268.8,38.9 L270.9,19.7 L270.4,19.1 L267.5,19.3Z" fill="#050a14"/>
<path d="M244.4,37.3 L237.7,28.0 L235.9,27.5 L224.7,36.5 L229.0,47.5 L229.5,47.9 L243.6,42.3 L244.4,37.3Z" fill="#050a14"/>
<path d="M258.7,33.4 L258.1,33.2 L245.7,37.5 L245.1,42.5 L250.3,50.0 L250.9,50.0 L266.5,41.7 L266.4,41.0 L258.7,33.4Z" fill="#050a14"/>
<path d="M196.6,37.8 L195.1,37.8 L194.6,38.3 L194.6,56.4 L195.1,56.9 L200.2,56.9 L206.2,44.8 L196.6,37.8Z" fill="#050a14"/>
<path d="M228.2,49.1 L223.5,36.8 L219.8,35.7 L208.7,44.5 L208.9,45.0 L218.1,53.7 L227.3,51.1 L228.2,49.1Z" fill="#050a14"/>
<path d="M229.6,49.2 L228.8,51.6 L235.6,62.8 L241.8,62.7 L249.5,55.6 L249.6,51.1 L244.2,43.5 L229.6,49.2Z" fill="#050a14"/>
<path d="M251.1,51.2 L250.8,51.7 L250.9,55.6 L261.8,61.3 L266.9,43.7 L266.0,43.4 L251.1,51.2Z" fill="#050a14"/>
<path d="M268.7,45.3 L268.1,45.1 L267.7,45.5 L263.0,62.3 L264.8,64.8 L269.1,66.2 L272.2,62.7 L272.3,49.0 L268.7,45.3Z" fill="#050a14"/>
<path d="M230.1,69.0 L234.2,63.3 L227.9,52.5 L227.3,52.4 L218.4,55.0 L213.2,65.3 L213.3,65.9 L219.3,70.8 L230.1,69.0Z" fill="#050a14"/>
<path d="M195.2,58.1 L194.6,58.7 L194.6,69.7 L194.9,70.2 L206.5,67.5 L207.6,66.5 L207.5,65.7 L200.7,58.2 L195.2,58.1Z" fill="#050a14"/>
<path d="M250.6,56.8 L249.9,56.9 L243.0,63.5 L250.3,75.2 L251.9,75.6 L263.4,65.1 L261.9,63.0 L250.6,56.8Z" fill="#050a14"/>
<path d="M275.8,16.5 L276.1,17.0 L278.0,17.9 L288.8,14.3 L294.9,2.7 L294.8,2.0 L276.0,1.9 L275.8,16.5Z" fill="#050a14"/>
<path d="M305.0,18.8 L305.2,18.3 L304.6,2.2 L304.1,1.8 L296.7,1.9 L290.2,14.3 L290.2,14.9 L297.4,23.9 L305.0,18.8Z" fill="#050a14"/>
<path d="M327.8,21.7 L328.3,21.0 L322.4,1.9 L306.1,2.0 L306.6,18.7 L315.2,24.1 L327.8,21.7Z" fill="#050a14"/>
<path d="M284.5,33.1 L287.5,34.4 L294.5,32.1 L296.6,25.4 L296.5,24.8 L289.0,15.6 L279.2,18.8 L278.8,19.2 L284.5,33.1Z" fill="#050a14"/>
<path d="M270.2,37.6 L270.4,38.1 L271.0,38.2 L283.1,33.2 L277.4,19.2 L275.3,18.0 L272.2,19.2 L270.2,37.6Z" fill="#050a14"/>
<path d="M303.6,37.3 L304.2,37.4 L309.1,35.1 L314.0,25.3 L313.8,24.7 L306.0,19.7 L297.9,25.3 L295.9,32.0 L296.2,32.6 L303.6,37.3Z" fill="#050a14"/>
<path d="M326.4,43.5 L327.1,43.3 L331.5,37.2 L329.4,23.0 L328.8,22.8 L315.5,25.3 L310.6,34.8 L310.6,35.4 L326.4,43.5Z" fill="#050a14"/>
<path d="M288.4,35.4 L287.9,36.0 L288.1,46.7 L303.4,53.5 L304.1,53.4 L303.2,38.5 L295.0,33.3 L288.4,35.4Z" fill="#050a14"/>
<path d="M268.1,41.2 L267.8,42.0 L268.2,43.1 L273.3,47.9 L283.5,50.3 L286.7,46.8 L286.7,35.8 L284.3,34.5 L269.7,40.0 L268.1,41.2Z" fill="#050a14"/>
<path d="M308.2,59.5 L309.0,59.8 L324.3,52.4 L326.2,45.2 L326.1,44.7 L309.6,36.4 L304.7,38.5 L305.6,54.6 L308.2,59.5Z" fill="#050a14"/>
<path d="M274.2,49.4 L273.4,50.0 L273.5,61.2 L274.1,61.7 L282.9,57.8 L283.3,57.3 L283.0,51.5 L274.2,49.4Z" fill="#050a14"/>
<path d="M284.4,57.5 L291.4,64.0 L299.8,65.6 L307.1,61.6 L307.5,61.0 L304.5,55.3 L287.7,47.9 L284.5,51.3 L284.4,57.5Z" fill="#050a14"/>
<path d="M273.3,63.4 L270.5,66.8 L270.4,67.3 L272.8,71.5 L278.0,73.2 L289.8,64.5 L283.7,58.9 L273.3,63.4Z" fill="#050a14"/>
<path d="M203.5,79.5 L203.9,79.0 L206.0,69.8 L205.8,69.2 L205.2,69.1 L194.8,71.8 L194.8,81.0 L203.5,79.5Z" fill="#050a14"/>
<path d="M218.4,72.0 L218.2,71.5 L212.0,66.5 L209.1,66.7 L207.5,68.4 L205.1,79.6 L212.7,86.4 L213.4,86.3 L216.8,83.0 L218.4,72.0Z" fill="#050a14"/>
<path d="M229.1,85.2 L229.6,85.0 L233.4,80.4 L230.3,70.6 L229.7,70.3 L219.8,72.0 L218.2,82.8 L229.1,85.2Z" fill="#050a14"/>
<path d="M242.0,82.0 L248.9,76.2 L249.1,75.5 L241.8,64.1 L235.5,64.1 L231.4,69.7 L234.5,79.8 L234.9,80.2 L242.0,82.0Z" fill="#050a14"/>
<path d="M245.4,93.3 L246.2,93.7 L258.7,88.7 L258.9,85.6 L251.8,76.8 L250.1,76.7 L243.3,82.9 L245.4,93.3Z" fill="#050a14"/>
<path d="M253.5,76.0 L253.4,76.8 L259.5,84.3 L260.1,84.6 L268.2,79.5 L271.6,71.9 L269.1,67.5 L264.5,66.1 L253.5,76.0Z" fill="#050a14"/>
<path d="M270.4,95.8 L271.0,95.5 L274.8,90.0 L268.9,81.2 L268.3,81.0 L260.4,85.8 L260.0,89.0 L263.9,94.3 L270.4,95.8Z" fill="#050a14"/>
<path d="M206.5,113.2 L207.7,112.6 L212.3,87.7 L204.2,80.6 L195.0,82.4 L194.6,82.9 L194.6,112.9 L195.2,113.2 L206.5,113.2Z" fill="#050a14"/>
<path d="M231.4,105.1 L229.0,86.6 L217.4,84.1 L213.6,87.9 L209.0,112.7 L223.0,114.4 L229.6,108.4 L231.4,105.1Z" fill="#050a14"/>
<path d="M242.1,83.5 L241.6,83.1 L234.5,81.3 L230.4,86.0 L232.4,102.8 L232.7,103.3 L233.4,103.2 L244.3,94.4 L242.1,83.5Z" fill="#050a14"/>
<path d="M262.6,95.3 L262.6,94.7 L258.9,90.1 L247.5,94.5 L247.1,95.0 L256.9,104.8 L257.5,104.5 L262.6,95.3Z" fill="#050a14"/>
<path d="M269.2,111.1 L269.9,110.6 L271.1,97.9 L270.4,97.0 L263.9,95.7 L257.8,106.3 L257.8,108.9 L258.3,109.3 L269.2,111.1Z" fill="#050a14"/>
<path d="M245.7,95.5 L244.9,95.5 L232.6,105.3 L231.4,107.5 L231.5,108.1 L255.9,110.2 L256.6,109.3 L256.5,106.4 L245.7,95.5Z" fill="#050a14"/>
<path d="M230.6,109.4 L224.4,114.8 L224.3,115.5 L228.6,121.2 L237.8,126.6 L254.3,123.0 L255.3,112.1 L254.9,111.5 L230.6,109.4Z" fill="#050a14"/>
<path d="M255.6,123.1 L255.8,123.6 L258.2,125.3 L273.4,122.7 L273.8,122.2 L274.0,116.8 L270.0,112.5 L257.4,110.4 L256.5,111.4 L255.6,123.1Z" fill="#050a14"/>
<path d="M257.3,126.6 L254.6,124.4 L239.5,127.6 L239.0,128.3 L244.2,139.2 L257.7,139.3 L258.3,138.7 L257.3,126.6Z" fill="#050a14"/>
<path d="M278.6,131.7 L278.6,131.1 L273.9,123.9 L259.1,126.4 L258.6,126.8 L259.5,138.7 L260.0,139.3 L274.9,139.3 L278.6,131.7Z" fill="#050a14"/>
<path d="M291.5,65.3 L279.4,74.2 L287.9,85.2 L291.6,86.4 L292.1,86.0 L299.1,67.2 L298.6,66.6 L291.5,65.3Z" fill="#050a14"/>
<path d="M278.0,74.6 L272.7,73.0 L269.5,79.7 L276.1,89.2 L285.9,85.8 L286.3,85.3 L278.0,74.6Z" fill="#050a14"/>
<path d="M272.1,97.1 L289.7,103.8 L290.1,103.4 L294.2,91.4 L291.9,87.8 L287.5,86.5 L276.1,90.6 L271.9,96.3 L272.1,97.1Z" fill="#050a14"/>
<path d="M271.0,111.5 L274.4,115.4 L275.0,115.6 L289.3,106.0 L289.5,105.4 L272.6,98.9 L272.2,99.4 L271.0,111.5Z" fill="#050a14"/>
<path d="M290.9,104.7 L291.0,106.0 L299.2,115.0 L316.5,104.0 L317.5,101.2 L317.1,100.7 L295.6,92.2 L295.1,92.6 L290.9,104.7Z" fill="#050a14"/>
<path d="M299.8,116.1 L299.7,117.4 L308.1,128.6 L321.7,122.7 L317.0,106.0 L316.6,105.6 L299.8,116.1Z" fill="#050a14"/>
<path d="M275.5,116.7 L275.0,123.0 L279.6,130.4 L280.1,130.7 L281.3,130.5 L298.4,117.0 L298.2,116.1 L290.1,107.1 L275.5,116.7Z" fill="#050a14"/>
<path d="M299.3,118.9 L298.4,118.8 L283.3,130.5 L283.1,131.1 L298.8,139.3 L304.7,139.3 L305.2,138.8 L307.2,129.7 L299.3,118.9Z" fill="#050a14"/>
<path d="M319.4,100.8 L318.8,101.2 L317.8,104.4 L323.0,122.5 L330.6,125.1 L339.6,105.2 L337.2,102.3 L319.4,100.8Z" fill="#050a14"/>
<path d="M341.3,106.1 L340.6,106.5 L331.8,125.7 L332.1,126.6 L350.6,123.0 L351.1,122.7 L351.0,109.0 L341.3,106.1Z" fill="#050a14"/>
<path d="M322.8,123.9 L308.5,130.0 L306.4,138.6 L306.6,139.1 L324.0,139.1 L331.4,128.3 L330.4,126.6 L322.8,123.9Z" fill="#050a14"/>
<path d="M333.2,127.7 L332.7,128.1 L332.8,128.6 L337.7,135.1 L350.5,135.4 L351.1,135.1 L351.1,124.9 L350.7,124.3 L333.2,127.7Z" fill="#050a14"/>
<path d="M216.5,14.4 L216.4,13.8 L212.6,9.7 L198.7,15.2 L198.3,15.8 L204.3,26.1 L204.9,26.4 L213.0,24.6 L216.5,14.4Z" fill="#050a14"/>
<path d="M208.0,45.8 L207.1,46.0 L201.7,57.4 L208.9,65.3 L211.6,65.3 L217.0,54.6 L208.0,45.8Z" fill="#050a14"/>
<path d="M206.3,115.0 L205.7,114.4 L195.2,114.4 L194.6,114.8 L194.6,138.7 L195.0,139.3 L208.6,139.3 L209.2,139.0 L206.3,115.0Z" fill="#050a14"/>
<path d="M222.8,115.7 L207.7,114.2 L207.4,114.8 L210.6,139.0 L211.1,139.3 L225.1,139.2 L227.4,121.7 L222.8,115.7Z" fill="#050a14"/>
<path d="M237.5,128.0 L229.4,123.1 L228.7,123.2 L226.7,139.1 L242.3,139.1 L242.4,138.4 L237.5,128.0Z" fill="#050a14"/>
<path d="M281.4,131.9 L279.7,132.2 L276.7,138.5 L276.9,139.2 L293.7,139.3 L294.2,139.0 L294.0,138.2 L281.4,131.9Z" fill="#050a14"/>
<path d="M336.7,136.1 L332.6,130.3 L331.9,130.1 L326.0,138.9 L326.5,139.3 L336.5,139.3 L336.9,138.8 L336.7,136.1Z" fill="#050a14"/>
<path d="M338.1,138.7 L338.7,139.3 L350.6,139.3 L351.1,138.9 L351.1,137.2 L350.5,136.6 L338.5,136.4 L338.0,136.8 L338.1,138.7Z" fill="#050a14"/>
</g>
<g filter="url(#blur1)">
<ellipse cx="219.9" cy="43.2" rx="7.0" ry="5.0" fill="#1c6a22"/>
<ellipse cx="221.6" cy="11.1" rx="5.5" ry="5.0" fill="#1c5a22"/>
<ellipse cx="225.7" cy="80.0" rx="8.0" ry="6.0" fill="#1e7a24"/>
<ellipse cx="313.0" cy="43.2" rx="9.0" ry="6.0" fill="#12301c"/>
</g>
<path d="M323.0,1.2 L329.3,22.1 M330.0,22.7 L329.3,22.1 M305.2,1.2 L305.9,18.9 M329.3,22.1 L315.0,24.7 M305.9,18.9 L315.0,24.7 M332.1,37.4 L327.0,44.5 M332.1,37.4 L330.0,22.7 M315.0,24.7 L309.5,35.6 M327.0,44.5 L309.5,35.6 M337.6,139.9 L337.3,135.7 M351.7,136.1 L337.3,135.7 M337.3,135.7 L332.0,128.6 M324.2,139.9 L332.0,128.6 M327.0,44.5 L325.0,52.7 M278.2,74.0 L287.6,85.8 M272.4,72.0 L278.2,74.0 M272.4,72.0 L268.7,79.9 M268.7,79.9 L275.7,90.1 M275.7,90.1 L287.6,85.8 M204.4,79.9 L207.0,68.0 M204.4,79.9 L194.0,82.0 M207.0,68.0 L194.0,71.2 M206.7,113.8 L210.0,139.9 M206.7,113.8 L194.0,113.8 M325.0,52.7 L308.2,60.8 M308.2,60.8 L305.0,54.8 M309.5,35.6 L303.9,38.2 M303.9,38.2 L305.0,54.8 M281.4,131.2 L299.0,117.6 M281.4,131.2 L298.7,139.9 M299.0,117.6 L307.9,129.6 M305.5,139.9 L307.9,129.6 M279.4,131.3 L275.4,139.9 M279.4,131.3 L281.4,131.2 M318.9,100.2 L337.7,101.7 M351.7,123.4 L331.8,127.4 M351.7,108.4 L340.5,105.3 M340.5,105.3 L330.9,126.1 M331.8,127.4 L330.9,126.1 M332.0,128.6 L331.8,127.4 M337.7,101.7 L340.5,105.3 M322.6,123.2 L307.9,129.6 M322.6,123.2 L330.9,126.1 M207.0,68.0 L208.7,66.1 M194.0,57.5 L200.9,57.5 M208.7,66.1 L200.9,57.5 M196.6,37.1 L207.1,44.5 M194.0,37.2 L196.6,37.1 M200.9,57.5 L207.1,44.5 M279.4,131.3 L274.4,123.2 M259.0,139.9 L257.9,126.0 M257.9,126.0 L274.4,123.2 M204.4,79.9 L213.0,87.5 M206.7,113.8 L208.1,113.4 M213.0,87.5 L208.1,113.4 M259.6,85.6 L252.3,76.3 M268.7,79.9 L259.6,85.6 M252.3,76.3 L264.4,65.3 M272.4,72.0 L269.5,67.0 M269.5,67.0 L264.4,65.3 M242.0,63.3 L250.1,55.9 M250.1,55.9 L262.3,62.5 M250.1,76.0 L252.3,76.3 M250.1,76.0 L242.0,63.3 M264.4,65.3 L262.3,62.5 M278.2,74.0 L291.1,64.6 M287.6,85.8 L292.3,87.3 M291.1,64.6 L300.1,66.3 M292.3,87.3 L300.1,66.3 M308.2,60.8 L307.8,61.9 M298.9,116.0 L290.3,106.1 M298.9,116.0 L317.2,104.3 M290.3,106.1 L290.3,104.8 M290.3,104.8 L294.9,91.4 M318.4,100.5 L317.2,104.3 M318.4,100.5 L295.5,91.5 M295.5,91.5 L294.9,91.4 M299.0,117.6 L298.9,116.0 M274.7,116.6 L274.4,123.2 M274.7,116.6 L290.3,106.1 M322.6,123.2 L317.2,104.3 M318.9,100.2 L318.4,100.5 M307.8,61.9 L300.1,66.3 M292.3,87.3 L294.9,91.4 M207.5,44.5 L217.9,54.4 M207.5,44.5 L219.4,34.9 M223.9,36.1 L219.4,34.9 M223.9,36.1 L228.9,48.9 M217.9,54.4 L228.1,51.5 M228.9,48.9 L228.1,51.5 M208.7,66.1 L212.2,65.9 M212.2,65.9 L217.9,54.4 M207.1,44.5 L207.5,44.5 M235.1,63.5 L228.1,51.5 M235.1,63.5 L242.0,63.3 M250.1,55.9 L250.2,51.0 M228.9,48.9 L244.4,42.6 M250.2,51.0 L244.4,42.6 M235.6,26.8 L223.9,36.1 M237.9,27.3 L235.6,26.8 M237.9,27.3 L245.1,36.9 M245.1,36.9 L244.4,42.6 M213.0,8.8 L217.3,14.0 M213.0,8.8 L197.1,15.1 M217.3,14.0 L213.5,25.2 M197.1,15.1 L204.2,27.1 M204.2,27.1 L213.5,25.2 M212.1,1.2 L213.0,8.8 M233.6,7.3 L234.0,1.2 M233.6,7.3 L228.1,14.5 M228.1,14.5 L217.3,14.0 M194.0,14.4 L197.1,15.1 M219.4,34.9 L213.5,25.2 M228.1,14.5 L235.6,26.8 M196.6,37.1 L204.2,27.1 M290.3,104.8 L271.7,97.8 M274.7,116.6 L270.4,112.0 M270.4,112.0 L271.7,97.8 M275.7,90.1 L271.1,96.5 M271.7,97.8 L271.1,96.5 M230.6,69.5 L219.1,71.5 M230.6,69.5 L234.1,80.6 M234.1,80.6 L229.6,85.9 M229.6,85.9 L217.3,83.4 M219.1,71.5 L217.3,83.4 M212.2,65.9 L219.1,71.5 M235.1,63.5 L230.6,69.5 M242.5,82.7 L234.1,80.6 M250.1,76.0 L242.5,82.7 M213.0,87.5 L217.3,83.4 M225.8,139.9 L228.1,121.7 M208.1,113.4 L223.2,115.1 M228.1,121.7 L223.2,115.1 M243.8,139.9 L237.9,127.4 M228.1,121.7 L237.9,127.4 M257.9,126.0 L254.9,123.7 M237.9,127.4 L254.9,123.7 M262.3,62.5 L267.7,43.4 M250.2,51.0 L267.1,42.2 M267.7,43.4 L267.1,42.2 M259.6,85.6 L259.3,89.3 M271.1,96.5 L263.5,94.9 M259.3,89.3 L263.5,94.9 M272.9,63.0 L272.9,48.5 M272.9,63.0 L283.9,58.0 M272.9,48.5 L283.9,51.0 M283.9,58.0 L283.9,51.0 M269.5,67.0 L272.9,63.0 M267.7,43.4 L272.9,48.5 M291.1,64.6 L283.9,58.0 M305.0,54.8 L287.4,47.1 M287.4,47.1 L283.9,51.0 M305.9,18.9 L297.4,24.9 M296.3,1.2 L289.3,14.7 M289.3,14.7 L297.4,24.9 M303.9,38.2 L295.1,32.6 M287.4,47.1 L287.4,35.1 M287.4,35.1 L295.1,32.6 M297.4,24.9 L295.1,32.6 M245.1,36.9 L258.6,32.4 M267.1,42.2 L267.3,41.0 M258.6,32.4 L267.3,41.0 M232.1,105.0 L245.1,94.6 M232.1,105.0 L230.1,108.7 M230.1,108.7 L256.0,110.9 M245.1,94.6 L245.6,94.6 M245.6,94.6 L257.2,106.2 M257.2,106.2 L257.2,109.7 M257.2,109.7 L256.0,110.9 M242.5,82.7 L245.1,94.6 M229.6,85.9 L232.1,105.0 M223.2,115.1 L230.1,108.7 M254.9,123.7 L256.0,110.9 M259.3,89.3 L245.6,94.6 M263.5,94.9 L257.2,106.2 M270.4,112.0 L257.2,109.7 M259.2,24.5 L267.1,18.7 M259.2,24.5 L248.8,18.0 M267.1,18.7 L255.6,2.9 M255.6,2.9 L248.8,12.4 M248.8,12.4 L248.8,18.0 M237.9,27.3 L248.8,18.0 M258.6,32.4 L259.2,24.5 M233.6,7.3 L248.8,12.4 M255.9,1.2 L255.6,2.9 M284.2,33.7 L277.8,18.6 M284.2,33.7 L269.4,39.5 M269.4,39.5 L271.6,18.5 M277.8,18.6 L275.2,17.3 M275.2,17.3 L271.6,18.5 M289.3,14.7 L277.8,18.6 M287.4,35.1 L284.2,33.7 M267.3,41.0 L269.4,39.5 M267.1,18.7 L271.6,18.5 M275.2,1.2 L275.2,17.3" fill="none" stroke="#d034d6" stroke-width="3.38" stroke-opacity="0.35" filter="url(#blur1)"/>
<path d="M323.0,1.2 L329.3,22.1 M330.0,22.7 L329.3,22.1 M305.2,1.2 L305.9,18.9 M329.3,22.1 L315.0,24.7 M305.9,18.9 L315.0,24.7 M332.1,37.4 L327.0,44.5 M332.1,37.4 L330.0,22.7 M315.0,24.7 L309.5,35.6 M327.0,44.5 L309.5,35.6 M337.6,139.9 L337.3,135.7 M351.7,136.1 L337.3,135.7 M337.3,135.7 L332.0,128.6 M324.2,139.9 L332.0,128.6 M327.0,44.5 L325.0,52.7 M278.2,74.0 L287.6,85.8 M272.4,72.0 L278.2,74.0 M272.4,72.0 L268.7,79.9 M268.7,79.9 L275.7,90.1 M275.7,90.1 L287.6,85.8 M204.4,79.9 L207.0,68.0 M204.4,79.9 L194.0,82.0 M207.0,68.0 L194.0,71.2 M206.7,113.8 L210.0,139.9 M206.7,113.8 L194.0,113.8 M325.0,52.7 L308.2,60.8 M308.2,60.8 L305.0,54.8 M309.5,35.6 L303.9,38.2 M303.9,38.2 L305.0,54.8 M281.4,131.2 L299.0,117.6 M281.4,131.2 L298.7,139.9 M299.0,117.6 L307.9,129.6 M305.5,139.9 L307.9,129.6 M279.4,131.3 L275.4,139.9 M279.4,131.3 L281.4,131.2 M318.9,100.2 L337.7,101.7 M351.7,123.4 L331.8,127.4 M351.7,108.4 L340.5,105.3 M340.5,105.3 L330.9,126.1 M331.8,127.4 L330.9,126.1 M332.0,128.6 L331.8,127.4 M337.7,101.7 L340.5,105.3 M322.6,123.2 L307.9,129.6 M322.6,123.2 L330.9,126.1 M207.0,68.0 L208.7,66.1 M194.0,57.5 L200.9,57.5 M208.7,66.1 L200.9,57.5 M196.6,37.1 L207.1,44.5 M194.0,37.2 L196.6,37.1 M200.9,57.5 L207.1,44.5 M279.4,131.3 L274.4,123.2 M259.0,139.9 L257.9,126.0 M257.9,126.0 L274.4,123.2 M204.4,79.9 L213.0,87.5 M206.7,113.8 L208.1,113.4 M213.0,87.5 L208.1,113.4 M259.6,85.6 L252.3,76.3 M268.7,79.9 L259.6,85.6 M252.3,76.3 L264.4,65.3 M272.4,72.0 L269.5,67.0 M269.5,67.0 L264.4,65.3 M242.0,63.3 L250.1,55.9 M250.1,55.9 L262.3,62.5 M250.1,76.0 L252.3,76.3 M250.1,76.0 L242.0,63.3 M264.4,65.3 L262.3,62.5 M278.2,74.0 L291.1,64.6 M287.6,85.8 L292.3,87.3 M291.1,64.6 L300.1,66.3 M292.3,87.3 L300.1,66.3 M308.2,60.8 L307.8,61.9 M298.9,116.0 L290.3,106.1 M298.9,116.0 L317.2,104.3 M290.3,106.1 L290.3,104.8 M290.3,104.8 L294.9,91.4 M318.4,100.5 L317.2,104.3 M318.4,100.5 L295.5,91.5 M295.5,91.5 L294.9,91.4 M299.0,117.6 L298.9,116.0 M274.7,116.6 L274.4,123.2 M274.7,116.6 L290.3,106.1 M322.6,123.2 L317.2,104.3 M318.9,100.2 L318.4,100.5 M307.8,61.9 L300.1,66.3 M292.3,87.3 L294.9,91.4 M207.5,44.5 L217.9,54.4 M207.5,44.5 L219.4,34.9 M223.9,36.1 L219.4,34.9 M223.9,36.1 L228.9,48.9 M217.9,54.4 L228.1,51.5 M228.9,48.9 L228.1,51.5 M208.7,66.1 L212.2,65.9 M212.2,65.9 L217.9,54.4 M207.1,44.5 L207.5,44.5 M235.1,63.5 L228.1,51.5 M235.1,63.5 L242.0,63.3 M250.1,55.9 L250.2,51.0 M228.9,48.9 L244.4,42.6 M250.2,51.0 L244.4,42.6 M235.6,26.8 L223.9,36.1 M237.9,27.3 L235.6,26.8 M237.9,27.3 L245.1,36.9 M245.1,36.9 L244.4,42.6 M213.0,8.8 L217.3,14.0 M213.0,8.8 L197.1,15.1 M217.3,14.0 L213.5,25.2 M197.1,15.1 L204.2,27.1 M204.2,27.1 L213.5,25.2 M212.1,1.2 L213.0,8.8 M233.6,7.3 L234.0,1.2 M233.6,7.3 L228.1,14.5 M228.1,14.5 L217.3,14.0 M194.0,14.4 L197.1,15.1 M219.4,34.9 L213.5,25.2 M228.1,14.5 L235.6,26.8 M196.6,37.1 L204.2,27.1 M290.3,104.8 L271.7,97.8 M274.7,116.6 L270.4,112.0 M270.4,112.0 L271.7,97.8 M275.7,90.1 L271.1,96.5 M271.7,97.8 L271.1,96.5 M230.6,69.5 L219.1,71.5 M230.6,69.5 L234.1,80.6 M234.1,80.6 L229.6,85.9 M229.6,85.9 L217.3,83.4 M219.1,71.5 L217.3,83.4 M212.2,65.9 L219.1,71.5 M235.1,63.5 L230.6,69.5 M242.5,82.7 L234.1,80.6 M250.1,76.0 L242.5,82.7 M213.0,87.5 L217.3,83.4 M225.8,139.9 L228.1,121.7 M208.1,113.4 L223.2,115.1 M228.1,121.7 L223.2,115.1 M243.8,139.9 L237.9,127.4 M228.1,121.7 L237.9,127.4 M257.9,126.0 L254.9,123.7 M237.9,127.4 L254.9,123.7 M262.3,62.5 L267.7,43.4 M250.2,51.0 L267.1,42.2 M267.7,43.4 L267.1,42.2 M259.6,85.6 L259.3,89.3 M271.1,96.5 L263.5,94.9 M259.3,89.3 L263.5,94.9 M272.9,63.0 L272.9,48.5 M272.9,63.0 L283.9,58.0 M272.9,48.5 L283.9,51.0 M283.9,58.0 L283.9,51.0 M269.5,67.0 L272.9,63.0 M267.7,43.4 L272.9,48.5 M291.1,64.6 L283.9,58.0 M305.0,54.8 L287.4,47.1 M287.4,47.1 L283.9,51.0 M305.9,18.9 L297.4,24.9 M296.3,1.2 L289.3,14.7 M289.3,14.7 L297.4,24.9 M303.9,38.2 L295.1,32.6 M287.4,47.1 L287.4,35.1 M287.4,35.1 L295.1,32.6 M297.4,24.9 L295.1,32.6 M245.1,36.9 L258.6,32.4 M267.1,42.2 L267.3,41.0 M258.6,32.4 L267.3,41.0 M232.1,105.0 L245.1,94.6 M232.1,105.0 L230.1,108.7 M230.1,108.7 L256.0,110.9 M245.1,94.6 L245.6,94.6 M245.6,94.6 L257.2,106.2 M257.2,106.2 L257.2,109.7 M257.2,109.7 L256.0,110.9 M242.5,82.7 L245.1,94.6 M229.6,85.9 L232.1,105.0 M223.2,115.1 L230.1,108.7 M254.9,123.7 L256.0,110.9 M259.3,89.3 L245.6,94.6 M263.5,94.9 L257.2,106.2 M270.4,112.0 L257.2,109.7 M259.2,24.5 L267.1,18.7 M259.2,24.5 L248.8,18.0 M267.1,18.7 L255.6,2.9 M255.6,2.9 L248.8,12.4 M248.8,12.4 L248.8,18.0 M237.9,27.3 L248.8,18.0 M258.6,32.4 L259.2,24.5 M233.6,7.3 L248.8,12.4 M255.9,1.2 L255.6,2.9 M284.2,33.7 L277.8,18.6 M284.2,33.7 L269.4,39.5 M269.4,39.5 L271.6,18.5 M277.8,18.6 L275.2,17.3 M275.2,17.3 L271.6,18.5 M289.3,14.7 L277.8,18.6 M287.4,35.1 L284.2,33.7 M267.3,41.0 L269.4,39.5 M267.1,18.7 L271.6,18.5 M275.2,1.2 L275.2,17.3" fill="none" stroke="#d034d6" stroke-width="1.3" stroke-linecap="round" filter="url(#wig)"/>
<path d="M324.9,12.2h0.01M327.9,11.8h0.01M327.9,19.5h0.01M326.5,21.7h0.01M325.6,8.5h0.01M325.7,6.1h0.01M307.0,10.1h0.01M305.3,10.0h0.01M305.7,14.8h0.01M305.1,9.0h0.01M304.7,6.6h0.01M317.1,23.9h0.01M319.9,24.8h0.01M314.8,26.1h0.01M324.1,21.8h0.01M308.8,21.1h0.01M309.2,21.3h0.01M314.1,22.2h0.01M329.4,40.6h0.01M329.6,42.1h0.01M330.3,31.6h0.01M332.4,32.7h0.01M328.8,29.0h0.01M332.1,24.9h0.01M312.3,32.6h0.01M311.1,34.2h0.01M314.4,28.7h0.01M318.3,42.3h0.01M316.0,38.0h0.01M311.1,36.1h0.01M314.2,40.1h0.01M322.0,43.4h0.01M336.2,137.4h0.01M351.4,135.9h0.01M349.0,136.2h0.01M350.3,136.1h0.01M350.0,136.8h0.01M334.1,129.2h0.01M334.6,129.5h0.01M328.3,137.9h0.01M326.9,136.8h0.01M325.7,137.2h0.01M327.2,49.5h0.01M324.7,46.5h0.01M280.8,78.3h0.01M287.1,84.7h0.01M280.5,79.5h0.01M280.8,79.1h0.01M274.5,73.7h0.01M272.4,72.8h0.01M270.0,76.4h0.01M272.9,87.0h0.01M271.5,84.3h0.01M270.4,83.2h0.01M283.0,88.5h0.01M287.2,88.1h0.01M280.6,89.0h0.01M204.6,75.5h0.01M203.3,77.4h0.01M206.7,76.9h0.01M205.4,81.4h0.01M196.8,81.0h0.01M200.4,82.2h0.01M206.2,68.4h0.01M201.4,69.7h0.01M196.4,68.6h0.01M206.7,123.5h0.01M208.5,112.7h0.01M207.8,116.0h0.01M208.7,126.2h0.01M207.6,126.7h0.01M205.1,116.4h0.01M207.8,136.9h0.01M207.7,112.0h0.01M201.6,112.3h0.01M198.4,114.8h0.01M322.5,53.3h0.01M316.9,57.2h0.01M312.4,58.5h0.01M319.4,53.2h0.01M321.5,54.9h0.01M307.7,59.4h0.01M306.7,35.4h0.01M304.8,52.2h0.01M304.5,51.6h0.01M302.8,42.7h0.01M305.4,51.7h0.01M285.8,125.5h0.01M296.0,119.7h0.01M283.7,130.9h0.01M294.6,118.6h0.01M294.0,121.0h0.01M290.5,123.9h0.01M294.7,136.2h0.01M292.5,136.5h0.01M282.1,130.7h0.01M285.5,134.4h0.01M294.2,135.9h0.01M304.8,125.1h0.01M307.1,126.7h0.01M304.1,124.6h0.01M299.3,121.3h0.01M306.1,133.1h0.01M304.4,137.5h0.01M308.3,135.3h0.01M278.1,130.1h0.01M278.3,138.6h0.01M326.3,101.8h0.01M335.7,102.0h0.01M326.2,98.9h0.01M320.3,98.8h0.01M333.3,101.7h0.01M338.2,125.0h0.01M338.2,125.7h0.01M345.5,125.8h0.01M348.5,125.2h0.01M345.3,123.2h0.01M349.5,106.1h0.01M345.2,106.6h0.01M344.7,108.3h0.01M336.0,119.7h0.01M338.7,110.3h0.01M331.8,122.8h0.01M335.5,119.2h0.01M337.1,116.2h0.01M338.6,114.1h0.01M339.2,102.3h0.01M318.6,124.7h0.01M310.8,127.7h0.01M322.3,124.6h0.01M311.1,129.0h0.01M326.2,124.9h0.01M322.9,124.5h0.01M195.1,56.3h0.01M210.1,65.1h0.01M207.0,63.1h0.01M205.1,60.1h0.01M203.0,43.2h0.01M202.4,39.4h0.01M196.6,39.1h0.01M207.4,48.8h0.01M201.7,57.1h0.01M204.4,47.2h0.01M207.6,43.1h0.01M277.6,126.4h0.01M276.0,124.7h0.01M260.0,135.1h0.01M260.3,137.6h0.01M257.9,137.9h0.01M267.5,126.4h0.01M262.5,123.3h0.01M260.4,126.3h0.01M266.1,125.8h0.01M206.0,82.0h0.01M204.9,81.2h0.01M204.0,78.7h0.01M210.7,111.7h0.01M209.3,100.4h0.01M211.1,102.1h0.01M210.7,111.7h0.01M210.9,100.2h0.01M211.3,95.3h0.01M209.7,99.5h0.01M258.4,85.4h0.01M258.4,87.1h0.01M257.5,81.8h0.01M270.4,78.2h0.01M266.4,80.6h0.01M267.7,79.4h0.01M261.7,70.7h0.01M253.5,74.1h0.01M263.0,68.5h0.01M252.8,74.3h0.01M270.7,71.0h0.01M271.5,67.4h0.01M247.6,58.9h0.01M244.3,64.3h0.01M247.9,58.8h0.01M256.7,57.7h0.01M260.1,60.2h0.01M249.0,54.4h0.01M244.0,68.0h0.01M243.1,67.7h0.01M249.3,73.6h0.01M249.7,76.3h0.01M284.2,69.2h0.01M279.7,70.7h0.01M281.6,71.6h0.01M288.4,65.9h0.01M289.7,86.8h0.01M296.9,66.5h0.01M298.9,66.6h0.01M295.2,79.6h0.01M292.3,84.1h0.01M295.3,81.7h0.01M294.3,82.2h0.01M296.5,79.0h0.01M296.1,71.4h0.01M292.2,108.9h0.01M290.8,106.5h0.01M297.4,111.5h0.01M316.9,107.2h0.01M316.7,104.5h0.01M313.5,105.0h0.01M311.5,110.3h0.01M303.2,114.4h0.01M301.0,113.9h0.01M291.2,99.2h0.01M292.5,102.1h0.01M291.1,103.3h0.01M293.8,94.4h0.01M315.7,104.8h0.01M309.4,97.2h0.01M295.0,94.0h0.01M307.7,96.0h0.01M313.3,97.2h0.01M307.9,95.5h0.01M311.0,96.1h0.01M302.6,96.8h0.01M273.0,117.3h0.01M276.2,116.3h0.01M281.1,111.4h0.01M276.7,115.9h0.01M278.0,115.0h0.01M277.4,117.0h0.01M317.8,110.2h0.01M320.9,109.4h0.01M319.7,113.2h0.01M322.4,124.2h0.01M315.5,104.7h0.01M308.7,61.8h0.01M308.3,61.3h0.01M295.4,88.0h0.01M214.8,52.7h0.01M209.4,48.2h0.01M217.8,55.5h0.01M214.2,50.0h0.01M217.0,38.9h0.01M216.2,37.4h0.01M218.6,33.3h0.01M214.4,37.5h0.01M224.1,38.0h0.01M225.7,39.7h0.01M224.8,39.9h0.01M227.1,47.1h0.01M227.0,54.2h0.01M218.3,53.7h0.01M225.4,50.6h0.01M208.5,66.9h0.01M212.5,61.9h0.01M216.1,57.2h0.01M216.7,56.4h0.01M233.6,64.0h0.01M232.4,62.4h0.01M229.6,57.4h0.01M235.0,61.6h0.01M249.0,51.2h0.01M243.7,44.0h0.01M240.8,42.8h0.01M235.5,46.6h0.01M231.7,46.9h0.01M248.8,48.4h0.01M247.0,49.7h0.01M231.1,29.8h0.01M224.6,35.4h0.01M232.9,27.3h0.01M232.9,29.3h0.01M243.9,33.8h0.01M239.5,28.1h0.01M242.7,34.0h0.01M243.5,44.0h0.01M214.7,12.0h0.01M202.6,12.7h0.01M202.1,12.6h0.01M198.4,16.0h0.01M197.8,16.1h0.01M215.9,23.8h0.01M216.9,13.0h0.01M215.1,19.5h0.01M205.2,27.5h0.01M204.6,26.0h0.01M205.3,28.0h0.01M210.4,27.5h0.01M204.8,25.8h0.01M210.7,9.0h0.01M213.1,0.3h0.01M231.6,7.7h0.01M234.4,7.3h0.01M230.3,11.8h0.01M227.4,14.1h0.01M218.4,14.6h0.01M226.9,14.3h0.01M214.5,26.4h0.01M219.5,33.4h0.01M213.2,25.4h0.01M234.0,25.0h0.01M233.0,22.1h0.01M229.5,18.2h0.01M236.5,25.1h0.01M200.3,32.4h0.01M199.2,33.6h0.01M201.7,32.6h0.01M282.2,99.3h0.01M283.6,103.5h0.01M277.3,99.3h0.01M286.4,104.7h0.01M284.8,101.0h0.01M272.8,113.6h0.01M271.2,98.0h0.01M270.0,100.9h0.01M271.9,98.4h0.01M269.3,103.1h0.01M272.7,97.6h0.01M275.5,91.5h0.01M228.9,67.8h0.01M221.4,73.4h0.01M219.3,70.6h0.01M233.8,72.4h0.01M233.5,75.4h0.01M234.2,77.1h0.01M234.6,79.9h0.01M218.9,84.0h0.01M221.1,86.1h0.01M221.1,82.3h0.01M218.3,71.7h0.01M219.8,78.3h0.01M217.6,82.5h0.01M217.4,71.8h0.01M211.0,65.4h0.01M234.2,69.3h0.01M229.5,68.2h0.01M242.2,83.9h0.01M237.0,79.5h0.01M248.4,78.4h0.01M249.7,75.2h0.01M216.3,87.0h0.01M226.8,131.3h0.01M225.7,129.8h0.01M226.7,136.9h0.01M225.4,136.3h0.01M227.2,137.2h0.01M221.9,114.9h0.01M218.9,114.2h0.01M209.6,113.1h0.01M219.9,113.5h0.01M224.5,118.1h0.01M222.4,119.1h0.01M241.3,132.6h0.01M242.1,132.1h0.01M241.8,134.3h0.01M228.7,124.7h0.01M230.0,124.1h0.01M227.5,124.0h0.01M255.3,122.5h0.01M248.5,125.3h0.01M248.1,126.2h0.01M244.3,125.4h0.01M244.7,124.6h0.01M264.4,47.9h0.01M264.3,49.0h0.01M261.4,60.8h0.01M264.8,56.9h0.01M264.9,51.2h0.01M261.1,46.5h0.01M253.6,50.6h0.01M261.9,44.7h0.01M256.0,46.7h0.01M257.1,47.4h0.01M258.4,85.2h0.01M269.2,94.6h0.01M269.1,97.5h0.01M263.1,91.4h0.01M260.7,91.5h0.01M272.3,62.8h0.01M272.5,52.2h0.01M273.3,56.6h0.01M274.8,63.4h0.01M278.1,58.9h0.01M276.0,63.6h0.01M278.0,62.6h0.01M278.4,50.5h0.01M274.5,48.9h0.01M275.3,46.7h0.01M282.1,53.2h0.01M285.3,52.1h0.01M269.0,65.0h0.01M272.9,47.7h0.01M270.6,47.3h0.01M287.0,61.6h0.01M288.4,62.1h0.01M294.3,50.6h0.01M290.3,46.6h0.01M287.6,47.7h0.01M285.2,47.2h0.01M291.0,49.4h0.01M287.2,47.6h0.01M302.6,21.8h0.01M301.1,22.8h0.01M291.5,8.3h0.01M292.0,14.2h0.01M292.0,5.5h0.01M288.1,14.2h0.01M295.2,23.4h0.01M292.0,17.1h0.01M293.3,19.0h0.01M304.1,37.6h0.01M299.6,34.8h0.01M286.5,39.9h0.01M288.9,39.1h0.01M285.6,40.6h0.01M286.2,33.9h0.01M290.6,32.6h0.01M296.9,25.0h0.01M297.3,30.4h0.01M244.4,35.8h0.01M253.4,34.4h0.01M258.0,32.9h0.01M245.7,35.6h0.01M261.3,33.7h0.01M258.4,33.1h0.01M264.0,37.2h0.01M232.6,101.8h0.01M233.6,106.0h0.01M234.0,103.5h0.01M239.6,97.2h0.01M232.2,108.6h0.01M251.5,111.3h0.01M237.6,110.7h0.01M252.5,111.4h0.01M242.5,112.0h0.01M237.3,109.4h0.01M233.5,107.2h0.01M246.7,109.7h0.01M252.4,99.9h0.01M252.1,102.6h0.01M247.0,98.7h0.01M251.9,100.2h0.01M258.9,108.9h0.01M244.1,93.6h0.01M244.2,95.0h0.01M247.2,95.7h0.01M231.9,103.3h0.01M228.9,88.8h0.01M229.5,96.8h0.01M231.7,99.6h0.01M230.8,95.6h0.01M223.7,113.2h0.01M226.6,112.0h0.01M256.1,120.4h0.01M253.5,119.2h0.01M254.3,117.9h0.01M260.3,90.7h0.01M251.4,91.1h0.01M256.3,90.6h0.01M250.7,91.6h0.01M256.3,106.6h0.01M260.4,103.7h0.01M258.3,105.9h0.01M258.5,110.8h0.01M268.9,110.7h0.01M262.4,112.0h0.01M262.9,23.9h0.01M262.2,21.9h0.01M256.1,23.1h0.01M253.8,19.1h0.01M250.6,20.1h0.01M257.7,8.6h0.01M264.7,14.2h0.01M256.5,3.6h0.01M263.4,16.1h0.01M255.2,1.6h0.01M250.3,8.7h0.01M254.0,4.4h0.01M251.3,7.0h0.01M250.0,16.2h0.01M240.4,24.8h0.01M249.9,17.7h0.01M246.6,21.2h0.01M244.8,22.5h0.01M260.0,25.4h0.01M259.0,31.9h0.01M247.5,13.2h0.01M244.2,12.5h0.01M240.5,8.3h0.01M239.4,10.2h0.01M283.6,34.7h0.01M280.1,31.2h0.01M282.5,30.1h0.01M283.1,26.7h0.01M272.3,39.8h0.01M275.4,35.2h0.01M274.9,38.5h0.01M275.6,37.7h0.01M271.8,34.4h0.01M272.6,24.8h0.01M273.1,21.5h0.01M269.0,24.9h0.01M271.8,31.8h0.01M271.2,24.3h0.01M276.9,16.0h0.01M279.1,18.6h0.01M289.3,17.0h0.01M281.9,17.8h0.01M265.8,18.8h0.01M275.7,1.3h0.01M274.1,11.8h0.01M277.2,4.9h0.01M274.6,6.5h0.01" stroke="#d034d6" stroke-width="1.1" stroke-linecap="round" stroke-opacity="0.75"/>
<g filter="url(#nuctex)">
<ellipse cx="200.6" cy="6.4" rx="6.4" ry="5.3" fill="#4270aa"/>
<ellipse cx="224.5" cy="3.5" rx="7.0" ry="3.5" fill="#36598c"/>
<ellipse cx="243.2" cy="4.7" rx="6.4" ry="4.7" fill="#36598c"/>
<ellipse cx="257.8" cy="15.2" rx="7.0" ry="6.4" fill="#4270aa"/>
<ellipse cx="266.6" cy="8.8" rx="5.3" ry="5.8" fill="#3a6298"/>
<ellipse cx="196.5" cy="24.5" rx="3.5" ry="5.8" fill="#36598c"/>
<ellipse cx="208.8" cy="33.9" rx="5.3" ry="7.6" fill="#4674b0"/>
<ellipse cx="223.4" cy="25.1" rx="7.6" ry="5.3" fill="#3c66a0"/>
<ellipse cx="239.7" cy="15.2" rx="5.8" ry="4.1" fill="#36598c"/>
<ellipse cx="250.2" cy="27.4" rx="5.8" ry="5.3" fill="#3e6aa4"/>
<ellipse cx="267.7" cy="28.6" rx="5.8" ry="7.0" fill="#36598c"/>
<ellipse cx="234.5" cy="39.1" rx="6.4" ry="4.7" fill="#3e6aa4"/>
<ellipse cx="254.9" cy="41.5" rx="6.4" ry="7.0" fill="#4674b0"/>
<ellipse cx="197.7" cy="49.6" rx="4.7" ry="5.3" fill="#3a6298"/>
<ellipse cx="218.1" cy="45.5" rx="5.8" ry="4.7" fill="#36598c"/>
<ellipse cx="239.7" cy="52.0" rx="8.2" ry="6.4" fill="#4270aa"/>
<ellipse cx="260.7" cy="52.6" rx="4.7" ry="5.8" fill="#4270aa"/>
<ellipse cx="268.9" cy="54.9" rx="4.1" ry="5.3" fill="#3c66a0"/>
<ellipse cx="222.8" cy="61.9" rx="7.0" ry="6.4" fill="#4674b0"/>
<ellipse cx="197.7" cy="65.4" rx="4.7" ry="5.3" fill="#36598c"/>
<ellipse cx="253.1" cy="66.6" rx="7.0" ry="4.7" fill="#36598c"/>
<ellipse cx="283.8" cy="8.8" rx="5.8" ry="4.7" fill="#4674b0"/>
<ellipse cx="297.3" cy="15.8" rx="4.7" ry="5.3" fill="#4674b0"/>
<ellipse cx="314.2" cy="15.2" rx="6.4" ry="5.8" fill="#6a9ee0"/>
<ellipse cx="288.5" cy="22.8" rx="8.2" ry="5.3" fill="#3c66a0"/>
<ellipse cx="273.3" cy="29.2" rx="3.5" ry="6.4" fill="#4270aa"/>
<ellipse cx="306.0" cy="28.0" rx="4.7" ry="5.3" fill="#4270aa"/>
<ellipse cx="317.7" cy="33.9" rx="5.0" ry="5.0" fill="#2a4466"/>
<ellipse cx="295.5" cy="44.4" rx="7.0" ry="6.4" fill="#3c66a0"/>
<ellipse cx="279.2" cy="44.4" rx="7.0" ry="5.8" fill="#4270aa"/>
<ellipse cx="313.0" cy="43.2" rx="8.0" ry="6.0" fill="#1a3a30"/>
<ellipse cx="276.8" cy="54.9" rx="6.4" ry="4.7" fill="#36598c"/>
<ellipse cx="290.9" cy="54.9" rx="6.4" ry="5.3" fill="#4674b0"/>
<ellipse cx="281.5" cy="65.4" rx="8.2" ry="4.7" fill="#3c66a0"/>
<ellipse cx="200.0" cy="74.7" rx="5.0" ry="5.0" fill="#3e6aa4"/>
<ellipse cx="210.5" cy="77.0" rx="5.0" ry="6.0" fill="#3c66a0"/>
<ellipse cx="225.7" cy="79.3" rx="7.0" ry="5.0" fill="#1c5a2a"/>
<ellipse cx="240.3" cy="74.7" rx="5.0" ry="4.5" fill="#8ab0f0"/>
<ellipse cx="250.2" cy="85.8" rx="6.4" ry="5.3" fill="#3e6aa4"/>
<ellipse cx="262.0" cy="76.4" rx="5.8" ry="4.7" fill="#4270aa"/>
<ellipse cx="268.9" cy="87.5" rx="6.0" ry="4.0" fill="#36598c"/>
<ellipse cx="202.3" cy="86.4" rx="5.8" ry="5.8" fill="#3e6aa4"/>
<ellipse cx="223.4" cy="90.4" rx="7.0" ry="3.5" fill="#3a6298"/>
<ellipse cx="236.8" cy="88.7" rx="5.0" ry="4.0" fill="#2a4060"/>
<ellipse cx="254.9" cy="98.0" rx="7.0" ry="5.3" fill="#3e6aa4"/>
<ellipse cx="265.4" cy="103.9" rx="5.8" ry="4.7" fill="#3a6298"/>
<ellipse cx="249.0" cy="103.9" rx="4.7" ry="4.7" fill="#4674b0"/>
<ellipse cx="247.9" cy="116.7" rx="6.0" ry="5.0" fill="#36598c"/>
<ellipse cx="263.0" cy="117.9" rx="6.0" ry="5.0" fill="#3c66a0"/>
<ellipse cx="251.4" cy="133.0" rx="6.0" ry="5.0" fill="#4674b0"/>
<ellipse cx="265.4" cy="131.9" rx="6.0" ry="5.0" fill="#3c66a0"/>
<ellipse cx="287.4" cy="73.5" rx="5.0" ry="4.0" fill="#4674b0"/>
<ellipse cx="275.7" cy="82.8" rx="5.0" ry="4.0" fill="#7aa0e0"/>
<ellipse cx="280.3" cy="95.7" rx="5.0" ry="4.0" fill="#4674b0"/>
<ellipse cx="276.8" cy="105.0" rx="5.0" ry="5.0" fill="#3c66a0"/>
<ellipse cx="303.7" cy="103.9" rx="7.0" ry="6.0" fill="#2a4060"/>
<ellipse cx="311.9" cy="116.7" rx="7.0" ry="6.0" fill="#30507a"/>
<ellipse cx="286.2" cy="119.0" rx="6.0" ry="6.0" fill="#36598c"/>
<ellipse cx="294.4" cy="129.6" rx="6.0" ry="5.0" fill="#4674b0"/>
<ellipse cx="328.2" cy="112.0" rx="5.0" ry="5.0" fill="#2c4a78"/>
<ellipse cx="343.4" cy="119.0" rx="6.0" ry="5.0" fill="#2a4060"/>
<ellipse cx="320.0" cy="135.4" rx="6.0" ry="4.0" fill="#4270aa"/>
<ellipse cx="345.7" cy="130.7" rx="6.0" ry="5.0" fill="#3a6298"/>
<ellipse cx="205.6" cy="19.1" rx="6.7" ry="6.5" fill="#3e6aa4" transform="rotate(3 205.6 19.1)"/>
<ellipse cx="209.0" cy="55.1" rx="7.5" ry="5.8" fill="#3e6aa4" transform="rotate(-5 209.0 55.1)"/>
<ellipse cx="202.2" cy="141.3" rx="6.9" ry="5.7" fill="#4270aa" transform="rotate(17 202.2 141.3)"/>
<ellipse cx="217.9" cy="139.3" rx="6.6" ry="5.8" fill="#4674b0" transform="rotate(29 217.9 139.3)"/>
<ellipse cx="233.6" cy="141.3" rx="6.2" ry="6.3" fill="#4270aa" transform="rotate(-5 233.6 141.3)"/>
<ellipse cx="287.9" cy="142.6" rx="6.5" ry="5.6" fill="#3a6298" transform="rotate(23 287.9 142.6)"/>
<ellipse cx="330.0" cy="142.3" rx="7.7" ry="5.4" fill="#3c66a0" transform="rotate(-2 330.0 142.3)"/>
<ellipse cx="345.5" cy="141.1" rx="6.7" ry="5.4" fill="#4674b0" transform="rotate(6 345.5 141.1)"/>
</g>
<g filter="url(#blur05)">
<ellipse cx="243.2" cy="5.3" rx="4.0" ry="3.0" fill="#30e030"/>
<ellipse cx="232.7" cy="24.5" rx="4.7" ry="3.0" fill="#30e030"/>
<ellipse cx="229.8" cy="33.9" rx="4.0" ry="5.5" fill="#30e830"/>
<ellipse cx="239.1" cy="51.4" rx="2.6" ry="5.3" fill="#40e040"/>
<ellipse cx="226.0" cy="80.5" rx="6.0" ry="3.5" fill="#30c830"/>
<ellipse cx="268.9" cy="87.5" rx="5.0" ry="3.5" fill="#30e830"/>
<ellipse cx="286.2" cy="29.8" rx="4.0" ry="2.5" fill="#30e030"/>
<ellipse cx="234.0" cy="23.4" rx="2.0" ry="2.0" fill="#30d030"/>
<ellipse cx="276.8" cy="88.7" rx="7.0" ry="3.0" fill="#30f030"/>
<ellipse cx="294.4" cy="106.2" rx="3.0" ry="6.0" fill="#30f030"/>
<ellipse cx="289.1" cy="113.2" rx="4.7" ry="3.5" fill="#30f030"/>
<ellipse cx="273.3" cy="119.0" rx="4.0" ry="4.0" fill="#28c028"/>
<ellipse cx="309.5" cy="128.4" rx="7.0" ry="2.5" fill="#30f030"/>
<ellipse cx="334.7" cy="112.6" rx="3.5" ry="3.0" fill="#30f030"/>
<ellipse cx="339.3" cy="120.2" rx="4.0" ry="4.7" fill="#30f030"/>
<ellipse cx="251.4" cy="119.0" rx="5.0" ry="5.0" fill="#30d030"/>
<ellipse cx="269.0" cy="116.7" rx="3.0" ry="5.0" fill="#30d030"/>
<ellipse cx="303.7" cy="46.7" rx="1.5" ry="2.0" fill="#30d030"/>
</g>
<rect x="196.5" y="95.6" width="46.5" height="38.6" fill="#03030e"/>
<g filter="url(#blur05)">
<path d="M198,128 L220,131 L243,126 L243,134 L198,134Z" fill="#0a0a40"/>
<path d="M198.5,108.5 L205.5,103.8 L213.3,99.3 L227,97.6 L232.7,100.4 L236.2,108.5 L237.4,117.9 L233.9,124.9 L228,127.2 L216.4,129 L213,131.9 L205,129.6 L200.3,121.4 Z" fill="#06061a" stroke="#d22ad8" stroke-width="1.3"/>
<ellipse cx="221.0" cy="106.5" rx="11.0" ry="8.5" fill="#1c2cd0"/>
<path d="M204,111 Q210,117 220,117 Q230,116 235,109 L234,118 Q229,125 219,126 Q207,124 204,117Z" fill="#34e034"/>
<path d="M211,134 L216,130 L222,134Z" fill="#f040f0"/>
<ellipse cx="228.0" cy="98.0" rx="2.0" ry="1.2" fill="#a0f0a0"/>
</g>
<rect x="196.4" y="96.4" width="46" height="38.2" fill="none" stroke="#f4f4f4" stroke-width="1.4"/>
<rect x="324.5" y="125.8" width="23" height="1.3" fill="#eee"/>
<text x="328.3" y="135.4" font-size="7" fill="#eee">20 µm</text>
<text x="202.7" y="21" font-size="12" fill="#fff">K273A</text>
<text x="309.8" y="17.8" font-size="13" fill="#88c84a" textLength="31.6" lengthAdjust="spacingAndGlyphs">CFTR</text>
<text x="309.8" y="31.9" font-size="13" fill="#4a86cc" textLength="27.3" lengthAdjust="spacingAndGlyphs">DAPI</text>
<text x="309.8" y="47.8" font-size="13" fill="#f048f0" textLength="28.7" lengthAdjust="spacingAndGlyphs">WGA</text>
</g>
<clipPath id="cBL"><rect x="34" y="142.2" width="157" height="138.6"/></clipPath>
<g clip-path="url(#cBL)">
<rect x="34" y="142.2" width="157" height="138.6" fill="#000"/>
<g filter="url(#redtex)">
<path d="M47.9,156.3 L48.3,156.0 L48.6,142.6 L34.4,142.6 L34.4,151.9 L47.9,156.3Z" fill="#5a0808"/>
<path d="M48.9,155.8 L49.3,156.1 L71.2,146.0 L72.8,142.7 L49.5,142.5 L48.9,155.8Z" fill="#5a0808"/>
<path d="M71.1,147.2 L70.7,146.9 L50.1,156.4 L50.0,156.8 L65.0,168.3 L69.6,164.3 L71.1,147.2Z" fill="#5a0808"/>
<path d="M62.3,177.5 L64.5,168.8 L49.0,156.9 L48.5,156.8 L40.4,174.6 L46.0,178.5 L62.3,177.5Z" fill="#5a0808"/>
<path d="M71.8,146.3 L70.3,164.2 L82.2,166.9 L89.8,158.9 L88.9,142.7 L73.8,142.5 L71.8,146.3Z" fill="#5a0808"/>
<path d="M93.2,142.6 L89.6,142.8 L90.4,158.8 L102.0,167.8 L111.2,162.6 L115.4,158.5 L115.3,158.1 L93.2,142.6Z" fill="#5a0808"/>
<path d="M90.4,159.6 L90.0,159.6 L82.7,167.4 L86.2,179.7 L97.9,182.5 L101.8,168.5 L90.4,159.6Z" fill="#5a0808"/>
<path d="M102.5,168.5 L98.6,182.8 L101.8,187.7 L109.0,190.4 L116.1,187.1 L111.3,163.6 L110.9,163.5 L102.5,168.5Z" fill="#5a0808"/>
<path d="M47.6,157.1 L47.4,156.7 L34.4,152.8 L34.4,174.8 L39.8,174.3 L47.6,157.1Z" fill="#5a0808"/>
<path d="M39.9,175.1 L34.3,175.7 L34.3,194.7 L46.1,195.5 L45.6,179.0 L39.9,175.1Z" fill="#5a0808"/>
<path d="M69.1,193.4 L69.7,189.1 L62.6,178.1 L46.3,179.2 L46.9,195.7 L51.1,200.6 L69.1,193.4Z" fill="#5a0808"/>
<path d="M73.1,198.1 L87.6,203.5 L101.2,187.8 L98.0,183.2 L86.0,180.4 L70.4,189.2 L69.9,193.5 L73.1,198.1Z" fill="#5a0808"/>
<path d="M67.1,221.0 L72.6,198.6 L69.4,194.0 L51.4,201.3 L48.8,210.8 L53.8,221.9 L67.1,221.0Z" fill="#5a0808"/>
<path d="M73.5,224.6 L89.7,222.3 L92.6,218.2 L87.4,204.2 L73.3,198.9 L68.0,221.0 L73.5,224.6Z" fill="#5a0808"/>
<path d="M116.5,157.8 L125.3,161.0 L136.2,152.9 L135.3,142.6 L118.8,142.6 L116.5,157.8Z" fill="#5a0808"/>
<path d="M136.9,152.5 L151.4,156.8 L159.2,152.1 L161.0,142.7 L136.2,142.5 L136.9,152.5Z" fill="#5a0808"/>
<path d="M111.9,162.8 L116.8,186.7 L131.6,183.5 L132.4,181.1 L125.1,161.6 L116.2,158.6 L111.9,162.8Z" fill="#5a0808"/>
<path d="M117.0,208.0 L136.1,192.8 L131.7,184.2 L116.7,187.5 L109.4,191.0 L112.3,205.5 L117.0,208.0Z" fill="#5a0808"/>
<path d="M136.9,206.4 L138.8,195.8 L136.5,193.3 L117.8,208.5 L127.4,218.9 L136.9,206.4Z" fill="#5a0808"/>
<path d="M151.4,197.7 L139.4,196.1 L137.5,206.2 L151.5,217.8 L159.6,214.3 L151.4,197.7Z" fill="#5a0808"/>
<path d="M167.5,216.5 L175.7,213.5 L175.3,197.2 L164.9,186.2 L152.0,197.4 L160.3,214.3 L167.5,216.5Z" fill="#5a0808"/>
<path d="M49.6,228.0 L53.2,222.2 L48.3,211.3 L34.4,210.9 L34.4,226.5 L49.6,228.0Z" fill="#5a0808"/>
<path d="M50.2,228.4 L50.2,238.6 L51.9,242.6 L60.6,246.7 L72.2,241.0 L73.2,225.3 L67.6,221.6 L53.8,222.5 L50.2,228.4Z" fill="#5a0808"/>
<path d="M89.0,251.2 L96.8,247.2 L89.8,223.1 L73.9,225.3 L72.9,241.1 L89.0,251.2Z" fill="#5a0808"/>
<path d="M115.3,229.6 L99.8,217.5 L93.2,218.5 L90.3,222.6 L97.6,247.2 L99.3,247.5 L114.2,236.0 L115.3,229.6Z" fill="#5a0808"/>
<path d="M41.9,255.8 L51.2,242.8 L49.7,239.1 L34.3,241.3 L34.3,256.6 L41.9,255.8Z" fill="#5a0808"/>
<path d="M60.4,247.4 L51.5,243.3 L42.7,256.0 L48.1,263.2 L63.7,263.1 L64.3,261.6 L60.4,247.4Z" fill="#5a0808"/>
<path d="M86.8,256.0 L86.4,255.7 L64.8,262.0 L64.2,263.6 L64.7,266.7 L75.1,280.5 L86.1,280.3 L86.8,256.0Z" fill="#5a0808"/>
<path d="M111.8,262.4 L99.1,248.1 L97.2,247.8 L89.4,251.8 L87.4,255.3 L86.8,280.4 L103.9,280.5 L111.8,262.4Z" fill="#5a0808"/>
<path d="M42.2,256.5 L34.3,257.6 L34.5,280.5 L43.8,280.3 L47.7,263.7 L42.2,256.5Z" fill="#5a0808"/>
<path d="M48.5,263.9 L44.5,280.1 L44.7,280.5 L49.1,280.4 L64.1,266.6 L63.4,263.9 L48.5,263.9Z" fill="#5a0808"/>
<path d="M50.5,280.0 L50.7,280.5 L73.7,280.5 L74.0,280.2 L64.4,267.4 L50.5,280.0Z" fill="#5a0808"/>
<path d="M140.5,229.5 L140.9,229.5 L150.8,218.2 L137.3,207.0 L128.2,219.2 L140.5,229.5Z" fill="#5a0808"/>
<path d="M142.3,240.9 L140.4,230.3 L127.5,219.5 L127.0,219.6 L115.9,229.5 L115.0,236.0 L138.1,249.4 L139.6,248.7 L142.3,240.9Z" fill="#5a0808"/>
<path d="M163.2,272.5 L160.3,262.0 L139.9,249.4 L138.4,250.1 L131.4,259.2 L141.6,280.5 L161.8,280.5 L163.2,272.5Z" fill="#5a0808"/>
<path d="M161.1,261.8 L164.0,272.0 L190.5,263.9 L190.7,257.8 L172.6,248.5 L161.1,261.8Z" fill="#5a0808"/>
<path d="M124.7,262.3 L124.4,262.0 L112.4,262.5 L104.8,280.4 L123.6,280.4 L124.7,262.3Z" fill="#5a0808"/>
<path d="M125.5,261.8 L124.4,280.4 L140.6,280.4 L130.9,259.9 L125.5,261.8Z" fill="#5a0808"/>
<path d="M117.1,208.7 L112.1,206.3 L100.5,217.1 L115.6,228.9 L126.4,219.2 L117.1,208.7Z" fill="#5a0808"/>
<g filter="url(#blur2)">
<ellipse cx="41.0" cy="146.3" rx="12.0" ry="9.7" fill="#c81212"/>
<ellipse cx="56.8" cy="146.8" rx="13.8" ry="9.7" fill="#dc1616"/>
<ellipse cx="61.5" cy="157.0" rx="9.5" ry="12.0" fill="#ea1c1c"/>
<ellipse cx="52.7" cy="168.4" rx="11.4" ry="12.0" fill="#ea1c1c"/>
<ellipse cx="79.5" cy="158.5" rx="12.6" ry="12.6" fill="#d41414"/>
<ellipse cx="100.6" cy="157.4" rx="13.2" ry="12.0" fill="#d41414"/>
<ellipse cx="91.2" cy="169.6" rx="11.4" ry="10.8" fill="#e01818"/>
<ellipse cx="111.0" cy="174.9" rx="10.0" ry="11.0" fill="#ea1c1c"/>
<ellipse cx="36.3" cy="160.9" rx="8.0" ry="11.0" fill="#dc1616"/>
<ellipse cx="38.7" cy="188.9" rx="10.3" ry="10.8" fill="#c81212"/>
<ellipse cx="53.9" cy="188.3" rx="12.6" ry="12.6" fill="#dc1616"/>
<ellipse cx="86.0" cy="191.8" rx="13.2" ry="12.6" fill="#e01818"/>
<ellipse cx="62.0" cy="208.2" rx="12.0" ry="9.0" fill="#ea1c1c"/>
<ellipse cx="78.4" cy="212.0" rx="12.6" ry="10.0" fill="#dc1616"/>
<ellipse cx="126.0" cy="146.3" rx="14.3" ry="9.5" fill="#dc1616"/>
<ellipse cx="145.9" cy="144.5" rx="10.0" ry="8.0" fill="#e01818"/>
<ellipse cx="116.7" cy="173.7" rx="10.0" ry="11.0" fill="#c81212"/>
<ellipse cx="122.5" cy="199.4" rx="11.0" ry="10.0" fill="#d41414"/>
<ellipse cx="127.2" cy="205.2" rx="10.0" ry="9.0" fill="#c81212"/>
<ellipse cx="147.0" cy="208.7" rx="10.0" ry="9.0" fill="#c81212"/>
<ellipse cx="163.4" cy="200.6" rx="12.0" ry="10.8" fill="#d41414"/>
<ellipse cx="37.5" cy="219.2" rx="9.7" ry="10.8" fill="#d41414"/>
<ellipse cx="63.8" cy="235.0" rx="13.8" ry="13.2" fill="#d41414"/>
<ellipse cx="81.9" cy="236.1" rx="12.6" ry="13.8" fill="#e01818"/>
<ellipse cx="104.0" cy="229.7" rx="14.3" ry="10.8" fill="#e01818"/>
<ellipse cx="37.5" cy="246.0" rx="9.7" ry="11.4" fill="#d41414"/>
<ellipse cx="53.3" cy="257.1" rx="14.3" ry="11.4" fill="#dc1616"/>
<ellipse cx="76.0" cy="265.9" rx="14.3" ry="12.6" fill="#dc1616"/>
<ellipse cx="97.6" cy="266.5" rx="12.6" ry="12.0" fill="#e01818"/>
<ellipse cx="40.4" cy="267.0" rx="10.8" ry="11.4" fill="#c81212"/>
<ellipse cx="53.3" cy="270.0" rx="10.0" ry="9.0" fill="#e01818"/>
<ellipse cx="60.3" cy="277.6" rx="12.0" ry="8.5" fill="#ea1c1c"/>
<ellipse cx="141.2" cy="215.7" rx="12.0" ry="10.3" fill="#d41414"/>
<ellipse cx="126.6" cy="233.2" rx="14.3" ry="12.6" fill="#d41414"/>
<ellipse cx="145.3" cy="268.8" rx="15.5" ry="12.6" fill="#c81212"/>
<ellipse cx="177.4" cy="260.0" rx="13.2" ry="10.8" fill="#e01818"/>
<ellipse cx="119.0" cy="275.8" rx="11.0" ry="9.0" fill="#ea1c1c"/>
<ellipse cx="129.5" cy="276.4" rx="11.0" ry="9.0" fill="#d41414"/>
<ellipse cx="113.0" cy="218.0" rx="6.0" ry="6.0" fill="#c83010"/>
</g>
</g>
<path d="M34.0,152.1 L48.2,156.7 M49.0,142.2 L48.6,156.4 M48.2,156.7 L48.6,156.4 M124.0,280.8 L125.1,261.7 M112.2,262.1 L104.1,280.8 M34.0,257.2 L42.2,256.0 M42.2,256.0 L48.0,263.6 M44.0,280.8 L48.0,263.6 M48.2,156.7 L39.9,174.7 M34.0,175.2 L39.9,174.7 M141.3,280.8 L131.0,259.3 M90.0,222.6 L97.2,247.5 M73.5,225.0 L90.0,222.6 M97.2,247.5 L89.1,251.6 M73.5,225.0 L72.5,241.3 M42.2,256.0 L51.6,242.7 M51.6,242.7 L49.9,238.7 M125.4,161.4 L116.1,158.2 M136.6,152.9 L135.7,142.2 M49.1,156.5 L64.9,168.8 M49.1,156.5 L71.5,146.2 M71.5,146.2 L69.9,164.5 M48.6,156.4 L49.1,156.5 M73.5,142.2 L71.5,146.2 M39.9,174.7 L45.9,178.8 M46.6,195.9 L45.9,178.8 M62.8,177.8 L45.9,178.8 M116.6,187.2 L131.8,183.8 M116.6,187.2 L109.0,190.8 M136.6,192.8 L117.3,208.5 M117.3,208.5 L112.1,205.8 M163.6,272.5 L160.6,261.8 M151.5,197.2 L160.1,214.6 M139.1,195.7 L137.2,206.5 M137.2,206.5 L151.3,218.2 M86.4,280.8 L87.1,255.2 M74.9,280.8 L64.4,266.8 M64.4,266.8 L63.9,263.6 M63.9,263.6 L64.6,261.7 M97.2,247.5 L99.3,247.8 M49.2,280.8 L64.4,266.8 M48.0,263.6 L63.9,263.6 M51.6,242.7 L60.6,247.0 M89.2,142.2 L90.1,159.0 M90.1,159.0 L102.2,168.3 M102.2,168.3 L111.4,162.8 M111.4,162.8 L116.0,158.2 M82.3,167.3 L90.1,159.0 M86.0,180.1 L98.2,183.0 M98.2,183.0 L102.2,168.3 M116.6,187.2 L111.4,162.8 M98.2,183.0 L101.6,188.0 M72.9,198.4 L69.6,193.5 M72.9,198.4 L67.6,221.3 M69.6,193.5 L51.0,201.1 M48.5,210.9 L53.6,222.2 M67.6,221.3 L53.6,222.2 M70.1,189.0 L69.6,193.5 M87.7,204.0 L72.9,198.4 M90.0,222.6 L93.0,218.3 M73.5,225.0 L67.6,221.3 M49.9,228.3 L53.6,222.2 M140.7,230.1 L127.6,219.2 M115.6,229.3 L114.6,236.1 M115.6,229.3 L127.0,219.2 M127.0,219.2 L127.6,219.2 M138.2,249.8 L139.8,249.0 M137.2,206.5 L127.6,219.2 M99.8,217.2 L115.6,229.3 M117.3,208.5 L127.0,219.2" fill="none" stroke="#140000" stroke-width="1.4" stroke-opacity="0.35" filter="url(#blur1)"/>
<g filter="url(#nuctex)" opacity="0.88">
<ellipse cx="41.0" cy="146.3" rx="7.0" ry="4.7" fill="#3f8cc8"/>
<ellipse cx="56.8" cy="146.8" rx="8.8" ry="4.7" fill="#3f8cc8"/>
<ellipse cx="61.5" cy="157.0" rx="4.5" ry="7.0" fill="#3f8cc8"/>
<ellipse cx="52.7" cy="168.4" rx="6.4" ry="7.0" fill="#3f8cc8"/>
<ellipse cx="79.5" cy="158.5" rx="7.6" ry="7.6" fill="#4490cc"/>
<ellipse cx="100.6" cy="157.4" rx="8.2" ry="7.0" fill="#4a78b0"/>
<ellipse cx="91.2" cy="169.6" rx="6.4" ry="5.8" fill="#3a80b8"/>
<ellipse cx="111.0" cy="174.9" rx="5.0" ry="6.0" fill="#6a6aa0"/>
<ellipse cx="36.3" cy="160.9" rx="3.0" ry="6.0" fill="#3f8cc8"/>
<ellipse cx="38.7" cy="188.9" rx="5.3" ry="5.8" fill="#3f8cc8"/>
<ellipse cx="53.9" cy="188.3" rx="7.6" ry="7.6" fill="#4490cc"/>
<ellipse cx="86.0" cy="191.8" rx="8.2" ry="7.6" fill="#4490cc"/>
<ellipse cx="62.0" cy="208.2" rx="7.0" ry="4.0" fill="#3f8cc8"/>
<ellipse cx="78.4" cy="212.0" rx="7.6" ry="5.0" fill="#4490cc"/>
<ellipse cx="126.0" cy="146.3" rx="9.3" ry="4.5" fill="#3a80b8"/>
<ellipse cx="145.9" cy="144.5" rx="5.0" ry="3.0" fill="#3a80b8"/>
<ellipse cx="116.7" cy="173.7" rx="5.0" ry="6.0" fill="#6a70a8"/>
<ellipse cx="122.5" cy="199.4" rx="6.0" ry="5.0" fill="#5a8a90"/>
<ellipse cx="127.2" cy="205.2" rx="5.0" ry="4.0" fill="#5a8a90"/>
<ellipse cx="147.0" cy="208.7" rx="5.0" ry="4.0" fill="#3a6a98"/>
<ellipse cx="163.4" cy="200.6" rx="7.0" ry="5.8" fill="#3a80b8"/>
<ellipse cx="37.5" cy="219.2" rx="4.7" ry="5.8" fill="#3f8cc8"/>
<ellipse cx="63.8" cy="235.0" rx="8.8" ry="8.2" fill="#4490cc"/>
<ellipse cx="81.9" cy="236.1" rx="7.6" ry="8.8" fill="#4490cc"/>
<ellipse cx="104.0" cy="229.7" rx="9.3" ry="5.8" fill="#3a6a98"/>
<ellipse cx="37.5" cy="246.0" rx="4.7" ry="6.4" fill="#3f8cc8"/>
<ellipse cx="53.3" cy="257.1" rx="9.3" ry="6.4" fill="#4490cc"/>
<ellipse cx="76.0" cy="265.9" rx="9.3" ry="7.6" fill="#3a80b8"/>
<ellipse cx="97.6" cy="266.5" rx="7.6" ry="7.0" fill="#3a80b8"/>
<ellipse cx="40.4" cy="267.0" rx="5.8" ry="6.4" fill="#3f8cc8"/>
<ellipse cx="53.3" cy="270.0" rx="5.0" ry="4.0" fill="#3a6a98"/>
<ellipse cx="60.3" cy="277.6" rx="7.0" ry="3.5" fill="#3f8cc8"/>
<ellipse cx="141.2" cy="215.7" rx="7.0" ry="5.3" fill="#3a80b8"/>
<ellipse cx="126.6" cy="233.2" rx="9.3" ry="7.6" fill="#3a6a98"/>
<ellipse cx="145.3" cy="268.8" rx="10.5" ry="7.6" fill="#3a6a98"/>
<ellipse cx="177.4" cy="260.0" rx="8.2" ry="5.8" fill="#3a80b8"/>
<ellipse cx="119.0" cy="275.8" rx="6.0" ry="4.0" fill="#3a80b8"/>
<ellipse cx="129.5" cy="276.4" rx="6.0" ry="4.0" fill="#3a80b8"/>
</g>
<g filter="url(#blur2)">
<ellipse cx="117.0" cy="211.0" rx="16.0" ry="11.0" fill="#7a9a30" transform="rotate(-15 117.0 211.0)" opacity="0.8"/>
<ellipse cx="104.0" cy="220.0" rx="8.0" ry="5.0" fill="#8a8a30" transform="rotate(-20 104.0 220.0)" opacity="0.55"/>
</g>
<ellipse cx="137.0" cy="151.0" rx="5.0" ry="4.0" fill="#ff5020" filter="url(#blur1)"/>
<ellipse cx="102.0" cy="152.0" rx="6.0" ry="4.0" fill="#ff6020" opacity="0.5" filter="url(#blur1)"/>
<rect x="162" y="266.5" width="23.8" height="1.3" fill="#eee"/>
<text x="166" y="277.4" font-size="7" fill="#eee">20 µm</text>
<text x="43.6" y="159" font-size="11.6" fill="#fff">wt</text>
<text x="152.8" y="158.4" font-size="13" fill="#88c84a" textLength="31.6" lengthAdjust="spacingAndGlyphs">CFTR</text>
<text x="152.8" y="172.9" font-size="13" fill="#4a86cc" textLength="27.3" lengthAdjust="spacingAndGlyphs">DAPI</text>
<text x="152.8" y="188.5" font-size="13" fill="#ee1c1c" textLength="15.6" lengthAdjust="spacingAndGlyphs">ER</text>
</g>
<clipPath id="cBR"><rect x="194" y="142.2" width="157.7" height="138.6"/></clipPath>
<g clip-path="url(#cBR)">
<rect x="194" y="142.2" width="157.7" height="138.6" fill="#000"/>
<g filter="url(#redtex)">
<path d="M245.4,142.8 L245.1,142.5 L223.1,142.5 L222.0,148.9 L237.1,163.5 L241.1,163.3 L246.8,157.7 L245.4,142.8Z" fill="#5a0808"/>
<path d="M231.6,167.8 L236.4,163.7 L221.7,149.6 L210.2,157.5 L209.8,158.2 L214.3,166.9 L231.6,167.8Z" fill="#5a0808"/>
<path d="M226.1,181.8 L231.2,168.4 L214.4,167.6 L212.6,175.3 L219.0,182.2 L226.1,181.8Z" fill="#5a0808"/>
<path d="M226.9,181.8 L233.4,189.9 L247.8,180.8 L241.1,164.0 L237.1,164.2 L232.1,168.2 L226.9,181.8Z" fill="#5a0808"/>
<path d="M254.0,158.9 L247.2,158.2 L241.7,163.7 L248.5,180.6 L250.2,181.5 L264.5,170.9 L254.0,158.9Z" fill="#5a0808"/>
<path d="M247.4,157.4 L254.0,158.2 L258.5,155.9 L266.6,142.6 L246.1,142.6 L247.4,157.4Z" fill="#5a0808"/>
<path d="M259.5,155.5 L259.7,155.9 L272.1,157.1 L268.0,142.6 L267.5,142.6 L259.5,155.5Z" fill="#5a0808"/>
<path d="M272.6,172.6 L273.0,172.4 L274.8,159.3 L272.6,158.0 L258.9,156.4 L254.8,158.5 L265.2,170.7 L272.6,172.6Z" fill="#5a0808"/>
<path d="M250.9,181.8 L250.8,182.2 L258.2,192.0 L270.8,188.7 L274.9,184.7 L275.6,176.9 L272.9,173.3 L265.1,171.3 L250.9,181.8Z" fill="#5a0808"/>
<path d="M204.9,204.7 L213.1,198.4 L213.1,192.3 L203.2,185.1 L194.3,192.5 L194.3,202.1 L204.9,204.7Z" fill="#5a0808"/>
<path d="M233.0,202.3 L234.6,203.1 L256.0,196.0 L257.5,192.3 L250.1,182.2 L248.2,181.3 L233.6,190.6 L233.0,202.3Z" fill="#5a0808"/>
<path d="M256.2,196.9 L255.9,196.7 L235.1,203.6 L241.8,214.0 L258.3,205.6 L256.2,196.9Z" fill="#5a0808"/>
<path d="M213.7,198.9 L206.5,204.5 L206.4,204.9 L223.3,215.0 L232.4,202.7 L232.2,202.4 L213.7,198.9Z" fill="#5a0808"/>
<path d="M264.7,212.9 L266.8,213.0 L275.6,206.9 L270.6,189.5 L258.2,192.6 L256.7,196.2 L259.0,205.6 L264.7,212.9Z" fill="#5a0808"/>
<path d="M281.2,155.2 L281.8,142.6 L268.9,142.6 L273.0,157.5 L275.3,158.9 L281.2,155.2Z" fill="#5a0808"/>
<path d="M282.0,155.0 L293.3,161.0 L305.0,157.5 L303.1,142.6 L282.6,142.5 L282.0,155.0Z" fill="#5a0808"/>
<path d="M275.9,176.3 L286.6,172.6 L292.7,161.4 L281.7,155.7 L275.6,159.4 L273.5,172.9 L275.9,176.3Z" fill="#5a0808"/>
<path d="M287.3,172.5 L287.4,172.9 L298.6,180.8 L310.2,175.3 L309.5,161.6 L305.4,158.0 L293.5,161.6 L287.3,172.5Z" fill="#5a0808"/>
<path d="M305.8,157.4 L310.0,161.1 L325.0,157.4 L325.7,142.6 L303.9,142.6 L305.8,157.4Z" fill="#5a0808"/>
<path d="M342.9,153.3 L341.6,142.5 L326.4,142.6 L325.9,157.4 L333.6,160.2 L342.9,153.3Z" fill="#5a0808"/>
<path d="M312.2,176.5 L325.7,181.3 L336.8,175.4 L333.4,160.8 L325.4,157.9 L310.2,161.7 L311.0,175.2 L312.2,176.5Z" fill="#5a0808"/>
<path d="M276.4,177.0 L275.6,184.8 L292.5,193.7 L298.1,181.2 L286.8,173.2 L276.4,177.0Z" fill="#5a0808"/>
<path d="M310.1,194.5 L311.7,177.1 L310.5,175.8 L298.9,181.5 L292.9,194.3 L294.9,198.9 L310.1,194.5Z" fill="#5a0808"/>
<path d="M326.5,204.3 L326.8,204.0 L325.4,182.0 L312.4,177.4 L310.9,194.5 L324.4,204.3 L326.5,204.3Z" fill="#5a0808"/>
<path d="M330.8,206.3 L350.8,182.6 L350.8,182.2 L337.3,175.9 L326.1,181.8 L327.5,204.3 L330.8,206.3Z" fill="#5a0808"/>
<path d="M288.1,208.3 L293.9,201.4 L294.2,199.3 L292.4,194.6 L275.1,185.4 L271.3,189.2 L276.2,206.7 L288.1,208.3Z" fill="#5a0808"/>
<path d="M323.4,204.8 L323.4,204.3 L310.5,195.0 L295.0,199.5 L294.5,201.2 L310.0,212.3 L323.4,204.8Z" fill="#5a0808"/>
<path d="M206.6,224.1 L207.9,222.9 L204.8,205.4 L194.5,203.0 L194.3,223.5 L206.6,224.1Z" fill="#5a0808"/>
<path d="M205.9,205.3 L205.5,205.6 L208.6,222.8 L216.8,223.9 L222.1,220.5 L223.0,215.6 L205.9,205.3Z" fill="#5a0808"/>
<path d="M223.8,215.6 L222.9,220.5 L231.8,225.4 L241.7,215.5 L241.5,214.6 L234.3,203.7 L233.1,203.1 L223.8,215.6Z" fill="#5a0808"/>
<path d="M242.4,214.6 L242.4,215.5 L247.8,220.8 L262.9,215.1 L264.2,213.3 L258.6,206.2 L242.4,214.6Z" fill="#5a0808"/>
<path d="M203.8,241.4 L206.4,224.9 L194.5,224.3 L194.4,249.4 L194.8,249.4 L203.8,241.4Z" fill="#5a0808"/>
<path d="M216.7,224.7 L208.5,223.5 L207.1,224.6 L204.6,241.1 L221.0,239.8 L216.7,224.7Z" fill="#5a0808"/>
<path d="M217.5,224.2 L221.9,240.1 L222.4,240.2 L233.5,234.0 L231.5,226.0 L222.5,221.0 L217.5,224.2Z" fill="#5a0808"/>
<path d="M247.3,221.5 L242.3,216.3 L241.8,216.3 L232.3,225.9 L234.2,233.9 L239.2,235.8 L248.6,231.3 L247.3,221.5Z" fill="#5a0808"/>
<path d="M248.2,221.3 L249.3,231.2 L253.3,233.1 L261.3,229.1 L262.7,216.1 L262.3,215.9 L248.2,221.3Z" fill="#5a0808"/>
<path d="M263.5,215.3 L262.0,229.1 L273.7,233.8 L277.2,226.8 L266.7,213.7 L264.8,213.7 L263.5,215.3Z" fill="#5a0808"/>
<path d="M194.5,250.5 L194.6,251.0 L215.2,260.7 L224.4,251.5 L222.0,240.9 L221.4,240.5 L204.3,241.8 L194.5,250.5Z" fill="#5a0808"/>
<path d="M256.2,243.8 L253.0,233.8 L249.2,231.8 L239.6,236.4 L242.1,254.0 L252.4,250.6 L256.2,243.8Z" fill="#5a0808"/>
<path d="M270.8,243.4 L274.5,241.4 L273.5,234.4 L261.6,229.7 L253.7,233.7 L256.9,243.4 L270.8,243.4Z" fill="#5a0808"/>
<path d="M225.0,252.0 L215.7,261.1 L217.2,267.4 L235.4,270.4 L240.7,264.7 L240.3,256.3 L225.0,252.0Z" fill="#5a0808"/>
<path d="M242.0,254.7 L240.9,256.1 L241.4,264.7 L261.3,275.8 L266.6,268.3 L264.0,261.3 L252.6,251.3 L242.0,254.7Z" fill="#5a0808"/>
<path d="M263.8,260.4 L264.3,260.3 L270.3,244.2 L256.9,244.0 L253.1,250.9 L263.8,260.4Z" fill="#5a0808"/>
<path d="M194.7,251.8 L194.3,252.0 L194.3,280.3 L211.6,280.5 L216.6,267.8 L215.0,261.4 L194.7,251.8Z" fill="#5a0808"/>
<path d="M212.5,280.1 L212.8,280.5 L234.4,280.5 L235.1,271.2 L217.2,268.2 L212.5,280.1Z" fill="#5a0808"/>
<path d="M260.9,276.7 L241.1,265.3 L235.8,271.0 L235.1,280.2 L235.4,280.5 L260.6,280.5 L260.9,276.7Z" fill="#5a0808"/>
<path d="M277.6,226.4 L287.8,222.3 L289.2,219.2 L288.0,208.9 L276.1,207.4 L267.5,213.3 L277.6,226.4Z" fill="#5a0808"/>
<path d="M309.6,213.1 L294.4,202.1 L288.7,208.8 L290.0,219.1 L307.4,220.8 L309.6,213.1Z" fill="#5a0808"/>
<path d="M309.2,224.1 L323.5,230.7 L336.7,216.2 L330.8,207.0 L327.1,204.9 L324.4,204.9 L310.3,213.0 L308.1,221.1 L309.2,224.1Z" fill="#5a0808"/>
<path d="M303.9,230.8 L308.6,224.4 L307.5,221.5 L289.6,219.8 L288.4,222.7 L292.8,230.8 L303.9,230.8Z" fill="#5a0808"/>
<path d="M290.6,240.5 L292.3,231.2 L287.9,223.2 L277.8,227.2 L274.2,234.3 L275.2,241.5 L278.1,243.3 L290.6,240.5Z" fill="#5a0808"/>
<path d="M305.8,246.4 L306.1,246.1 L304.0,231.6 L292.9,231.5 L291.5,240.6 L299.1,246.6 L305.8,246.4Z" fill="#5a0808"/>
<path d="M304.6,231.1 L306.8,246.1 L322.5,243.2 L323.2,231.3 L309.2,224.9 L304.6,231.1Z" fill="#5a0808"/>
<path d="M281.6,255.1 L290.1,258.4 L298.4,246.9 L291.0,241.0 L278.6,243.8 L278.4,244.1 L281.6,255.1Z" fill="#5a0808"/>
<path d="M306.1,247.3 L305.8,247.0 L299.1,247.3 L290.6,258.8 L293.2,265.3 L307.6,266.6 L306.1,247.3Z" fill="#5a0808"/>
<path d="M307.0,246.8 L306.7,247.1 L308.3,267.0 L309.2,267.6 L319.7,264.6 L323.9,245.2 L322.6,243.9 L307.0,246.8Z" fill="#5a0808"/>
<path d="M328.1,246.8 L324.9,245.7 L324.5,245.8 L320.4,264.6 L332.4,271.1 L337.4,261.5 L328.1,246.8Z" fill="#5a0808"/>
<path d="M267.1,267.8 L268.9,267.6 L281.0,255.4 L277.7,243.9 L274.9,242.0 L271.1,244.0 L264.6,261.1 L267.1,267.8Z" fill="#5a0808"/>
<path d="M290.0,259.2 L281.4,255.9 L269.8,267.7 L287.3,273.6 L292.6,265.6 L290.0,259.2Z" fill="#5a0808"/>
<path d="M293.3,265.9 L287.8,274.1 L289.1,280.4 L308.6,280.4 L308.6,268.0 L307.8,267.4 L293.3,265.9Z" fill="#5a0808"/>
<path d="M332.4,272.0 L320.0,265.2 L309.4,268.2 L309.3,280.3 L334.3,280.5 L334.5,280.1 L332.4,272.0Z" fill="#5a0808"/>
<path d="M287.2,274.5 L268.9,268.2 L267.1,268.7 L261.6,276.4 L261.4,280.3 L288.1,280.5 L288.4,280.2 L287.2,274.5Z" fill="#5a0808"/>
<g filter="url(#blur2)">
<ellipse cx="233.9" cy="148.6" rx="12.0" ry="10.3" fill="#980f0f"/>
<ellipse cx="221.6" cy="161.4" rx="9.7" ry="10.3" fill="#a01212"/>
<ellipse cx="221.0" cy="173.7" rx="12.6" ry="11.4" fill="#7a0c0c"/>
<ellipse cx="236.2" cy="179.5" rx="12.0" ry="10.8" fill="#8a0e0e"/>
<ellipse cx="256.0" cy="171.4" rx="12.0" ry="11.4" fill="#a01212"/>
<ellipse cx="258.4" cy="146.3" rx="12.0" ry="9.7" fill="#8a0e0e"/>
<ellipse cx="267.7" cy="152.1" rx="9.7" ry="12.0" fill="#6c0a0a"/>
<ellipse cx="266.6" cy="162.0" rx="10.8" ry="9.7" fill="#980f0f"/>
<ellipse cx="262.0" cy="179.5" rx="14.3" ry="10.3" fill="#8a0e0e" transform="rotate(-30 262.0 179.5)"/>
<ellipse cx="204.7" cy="191.2" rx="15.5" ry="12.0" fill="#7a0c0c"/>
<ellipse cx="244.4" cy="192.4" rx="13.8" ry="11.4" fill="#980f0f"/>
<ellipse cx="249.0" cy="206.4" rx="12.0" ry="10.8" fill="#7a0c0c"/>
<ellipse cx="218.7" cy="208.7" rx="13.2" ry="9.7" fill="#980f0f"/>
<ellipse cx="267.7" cy="201.7" rx="10.8" ry="10.8" fill="#980f0f"/>
<ellipse cx="274.0" cy="150.3" rx="10.0" ry="11.0" fill="#6c0a0a"/>
<ellipse cx="289.7" cy="151.0" rx="14.3" ry="10.8" fill="#a01212" transform="rotate(-20 289.7 151.0)"/>
<ellipse cx="282.7" cy="164.4" rx="11.4" ry="9.7" fill="#7a0c0c"/>
<ellipse cx="296.1" cy="172.0" rx="13.2" ry="10.8" fill="#a01212"/>
<ellipse cx="318.9" cy="146.8" rx="12.0" ry="8.5" fill="#980f0f"/>
<ellipse cx="332.9" cy="147.4" rx="12.0" ry="9.0" fill="#8a0e0e"/>
<ellipse cx="324.7" cy="170.2" rx="13.2" ry="10.8" fill="#6c0a0a"/>
<ellipse cx="289.1" cy="181.9" rx="11.4" ry="10.8" fill="#8a0e0e"/>
<ellipse cx="304.3" cy="188.9" rx="11.4" ry="11.4" fill="#6c0a0a"/>
<ellipse cx="317.7" cy="190.0" rx="10.8" ry="10.3" fill="#6c0a0a"/>
<ellipse cx="334.7" cy="188.9" rx="12.0" ry="11.4" fill="#7a0c0c"/>
<ellipse cx="280.3" cy="198.2" rx="11.4" ry="10.8" fill="#a01212"/>
<ellipse cx="308.4" cy="202.9" rx="12.0" ry="10.3" fill="#a01212"/>
<ellipse cx="198.8" cy="217.4" rx="10.3" ry="10.8" fill="#7a0c0c"/>
<ellipse cx="215.2" cy="214.5" rx="13.2" ry="9.7" fill="#980f0f"/>
<ellipse cx="231.5" cy="218.0" rx="12.0" ry="12.0" fill="#980f0f"/>
<ellipse cx="252.6" cy="213.3" rx="12.0" ry="8.5" fill="#8a0e0e"/>
<ellipse cx="198.3" cy="230.9" rx="10.3" ry="10.3" fill="#a01212"/>
<ellipse cx="212.9" cy="233.2" rx="12.0" ry="10.8" fill="#6c0a0a"/>
<ellipse cx="225.1" cy="229.7" rx="11.4" ry="12.0" fill="#980f0f"/>
<ellipse cx="239.7" cy="226.2" rx="10.0" ry="11.0" fill="#7a0c0c"/>
<ellipse cx="256.6" cy="223.8" rx="12.0" ry="11.4" fill="#8a0e0e"/>
<ellipse cx="267.7" cy="225.0" rx="10.0" ry="10.0" fill="#a01212"/>
<ellipse cx="214.0" cy="248.4" rx="15.0" ry="13.2" fill="#a01212"/>
<ellipse cx="247.3" cy="242.0" rx="12.0" ry="11.4" fill="#7a0c0c"/>
<ellipse cx="263.0" cy="236.7" rx="12.0" ry="11.0" fill="#980f0f"/>
<ellipse cx="228.0" cy="262.4" rx="13.2" ry="12.0" fill="#6c0a0a"/>
<ellipse cx="253.7" cy="261.2" rx="14.3" ry="12.6" fill="#6c0a0a"/>
<ellipse cx="263.0" cy="250.7" rx="13.2" ry="11.4" fill="#980f0f"/>
<ellipse cx="204.7" cy="268.2" rx="13.2" ry="12.0" fill="#8a0e0e"/>
<ellipse cx="225.7" cy="276.4" rx="13.2" ry="9.7" fill="#980f0f"/>
<ellipse cx="244.4" cy="277.6" rx="11.0" ry="9.0" fill="#6c0a0a"/>
<ellipse cx="278.0" cy="216.8" rx="12.0" ry="10.8" fill="#8a0e0e"/>
<ellipse cx="300.2" cy="214.5" rx="12.0" ry="10.3" fill="#7a0c0c"/>
<ellipse cx="317.7" cy="219.2" rx="13.2" ry="11.4" fill="#a01212"/>
<ellipse cx="299.0" cy="226.2" rx="12.0" ry="9.7" fill="#8a0e0e"/>
<ellipse cx="285.0" cy="233.8" rx="11.4" ry="11.4" fill="#8a0e0e"/>
<ellipse cx="299.0" cy="236.1" rx="11.4" ry="12.0" fill="#980f0f"/>
<ellipse cx="310.7" cy="234.4" rx="9.7" ry="13.2" fill="#980f0f"/>
<ellipse cx="288.5" cy="249.5" rx="11.4" ry="13.2" fill="#980f0f"/>
<ellipse cx="299.6" cy="257.7" rx="9.7" ry="10.8" fill="#a01212"/>
<ellipse cx="314.8" cy="256.5" rx="10.3" ry="12.0" fill="#980f0f"/>
<ellipse cx="328.2" cy="259.5" rx="12.0" ry="11.4" fill="#a01212"/>
<ellipse cx="272.2" cy="254.2" rx="9.0" ry="11.0" fill="#7a0c0c"/>
<ellipse cx="282.7" cy="264.7" rx="13.2" ry="11.4" fill="#a01212"/>
<ellipse cx="297.9" cy="274.6" rx="13.2" ry="10.3" fill="#980f0f"/>
<ellipse cx="320.0" cy="274.6" rx="12.0" ry="10.3" fill="#980f0f"/>
<ellipse cx="278.0" cy="278.7" rx="11.0" ry="8.0" fill="#a01212"/>
</g>
</g>
<path d="M325.5,157.6 L333.6,160.5 M325.5,157.6 L309.8,161.5 M309.8,161.5 L310.7,175.4 M337.3,175.5 L325.7,181.7 M325.7,181.7 L312.0,176.9 M312.0,176.9 L310.7,175.4 M326.1,142.2 L325.5,157.6 M204.1,241.5 L194.0,250.6 M204.1,241.5 L206.8,224.5 M194.0,224.0 L206.8,224.5 M298.6,181.2 L310.7,175.4 M312.0,176.9 L310.6,194.7 M298.6,181.2 L292.6,194.3 M310.6,194.7 L294.5,199.4 M292.6,194.3 L294.5,199.4 M204.1,241.5 L221.5,240.2 M206.8,224.5 L208.3,223.1 M208.3,223.1 L216.9,224.2 M216.9,224.2 L221.5,240.2 M216.9,224.2 L222.4,220.6 M221.5,240.2 L222.2,240.6 M233.9,234.2 L231.9,225.8 M231.9,225.8 L222.4,220.6 M247.6,221.2 L263.1,215.3 M247.6,221.2 L249.1,231.4 M253.2,233.5 L249.1,231.4 M253.2,233.5 L261.6,229.3 M261.6,229.3 L263.1,215.3 M239.2,236.2 L249.1,231.4 M242.0,215.7 L231.9,225.8 M242.0,215.7 L247.6,221.2 M331.1,206.8 L327.2,204.6 M323.6,231.1 L309.0,224.4 M327.2,204.6 L324.4,204.6 M324.4,204.6 L310.0,212.8 M310.0,212.8 L307.8,221.2 M309.0,224.4 L307.8,221.2 M325.7,181.7 L327.2,204.6 M304.3,231.1 L306.5,246.6 M304.3,231.1 L309.0,224.4 M306.5,246.6 L322.8,243.6 M310.6,194.7 L324.4,204.6 M294.5,199.4 L294.2,201.5 M294.2,201.5 L310.0,212.8 M288.4,208.6 L294.2,201.5 M289.5,219.3 L288.4,208.6 M289.5,219.3 L307.8,221.2 M234.8,280.8 L235.4,270.8 M211.9,280.8 L217.0,267.8 M235.4,270.8 L217.0,267.8 M194.0,251.1 L215.3,261.1 M224.8,251.6 L215.3,261.1 M217.0,267.8 L215.3,261.1 M304.3,231.1 L292.6,231.2 M289.5,219.3 L288.0,222.6 M288.0,222.6 L292.6,231.2 M324.4,245.2 L320.0,264.8 M320.0,264.8 L332.6,271.7 M305.6,157.6 L309.8,161.5 M305.6,157.6 L303.3,142.2 M275.2,184.9 L292.6,194.3 M275.2,184.9 L275.9,176.8 M298.6,181.2 L286.8,172.8 M275.9,176.8 L286.8,172.8 M305.6,157.6 L293.3,161.4 M286.8,172.8 L293.3,161.4 M275.2,184.9 L271.0,189.0 M288.4,208.6 L276.0,207.1 M271.0,189.0 L276.0,207.1 M277.6,226.9 L288.0,222.6 M277.6,226.9 L266.8,213.3 M276.0,207.1 L266.8,213.3 M263.1,215.3 L264.6,213.3 M261.6,229.3 L273.9,234.3 M273.9,234.3 L277.6,226.9 M266.8,213.3 L264.6,213.3 M234.4,203.4 L241.8,214.5 M234.4,203.4 L256.4,196.2 M241.8,214.5 L258.8,205.7 M256.4,196.2 L258.8,205.7 M242.0,215.7 L241.8,214.5 M264.6,213.3 L258.8,205.7 M271.0,189.0 L257.9,192.4 M257.9,192.4 L256.4,196.2 M235.4,270.8 L241.0,264.8 M241.0,264.8 L240.6,255.9 M261.1,280.8 L261.3,276.3 M241.0,264.8 L261.3,276.3 M291.1,240.7 L292.6,231.2 M306.5,246.6 L306.4,246.7 M291.1,240.7 L299.0,246.9 M306.4,246.7 L299.0,246.9 M245.7,142.2 L247.1,157.9 M237.0,163.9 L221.6,149.1 M237.0,163.9 L241.2,163.6 M241.2,163.6 L247.1,157.9 M293.3,161.4 L281.6,155.3 M281.6,155.3 L282.2,142.2 M208.3,223.1 L205.1,205.0 M194.0,202.6 L205.1,205.0 M241.2,163.6 L248.3,180.9 M233.3,190.4 L248.3,180.9 M237.0,163.9 L231.9,168.1 M226.5,182.1 L231.9,168.1 M231.9,168.1 L214.1,167.2 M291.1,240.7 L278.0,243.6 M290.2,258.8 L299.0,246.9 M290.2,258.8 L281.4,255.5 M281.4,255.5 L278.0,243.6 M273.9,234.3 L274.8,241.6 M274.8,241.6 L278.0,243.6 M287.4,274.1 L293.0,265.6 M287.4,274.1 L288.8,280.8 M293.0,265.6 L308.0,267.1 M308.9,280.8 L308.9,268.0 M308.9,268.0 L308.0,267.1 M269.0,267.9 L281.4,255.5 M290.2,258.8 L293.0,265.6 M269.0,267.9 L287.4,274.1 M269.0,267.9 L267.0,268.4 M261.3,276.3 L267.0,268.4 M306.4,246.7 L308.0,267.1 M320.0,264.8 L308.9,268.0 M272.7,157.7 L275.2,159.3 M272.7,157.7 L258.7,156.1 M275.2,159.3 L273.2,173.1 M258.7,156.1 L254.1,158.6 M254.1,158.6 L265.1,171.0 M273.2,173.1 L265.1,171.0 M281.6,155.3 L275.2,159.3 M268.3,142.2 L272.7,157.7 M267.4,142.2 L258.7,156.1 M275.9,176.8 L273.2,173.1 M247.1,157.9 L254.1,158.6 M250.3,181.9 L265.1,171.0 M250.3,181.9 L248.3,180.9 M257.9,192.4 L250.3,181.9 M205.7,204.8 L213.4,198.6 M205.7,204.8 L223.5,215.6 M223.5,215.6 L232.9,202.6 M232.9,202.6 L232.5,202.1 M222.4,220.6 L223.5,215.6 M205.1,205.0 L205.7,204.8 M234.4,203.4 L232.9,202.6 M270.9,243.7 L264.3,261.2 M270.9,243.7 L256.6,243.7 M264.3,261.2 L252.6,250.9 M256.6,243.7 L252.6,250.9 M267.0,268.4 L264.3,261.2 M274.8,241.6 L270.9,243.7 M253.2,233.5 L256.6,243.7 M241.8,254.5 L252.6,250.9" fill="none" stroke="#140000" stroke-width="1.4" stroke-opacity="0.35" filter="url(#blur1)"/>
<g filter="url(#nuctex)" opacity="0.88">
<ellipse cx="233.9" cy="148.6" rx="7.0" ry="5.3" fill="#4a6a9e"/>
<ellipse cx="221.6" cy="161.4" rx="4.7" ry="5.3" fill="#4a6ca4"/>
<ellipse cx="221.0" cy="173.7" rx="7.6" ry="6.4" fill="#44649a"/>
<ellipse cx="236.2" cy="179.5" rx="7.0" ry="5.8" fill="#4a6ca4"/>
<ellipse cx="256.0" cy="171.4" rx="7.0" ry="6.4" fill="#4a6ca4"/>
<ellipse cx="258.4" cy="146.3" rx="7.0" ry="4.7" fill="#5072a8"/>
<ellipse cx="267.7" cy="152.1" rx="4.7" ry="7.0" fill="#4a6a9e"/>
<ellipse cx="266.6" cy="162.0" rx="5.8" ry="4.7" fill="#5072a8"/>
<ellipse cx="262.0" cy="179.5" rx="9.3" ry="5.3" fill="#4a6a9e" transform="rotate(-30 262.0 179.5)"/>
<ellipse cx="204.7" cy="191.2" rx="10.5" ry="7.0" fill="#5072a8"/>
<ellipse cx="244.4" cy="192.4" rx="8.8" ry="6.4" fill="#4a6ca4"/>
<ellipse cx="249.0" cy="206.4" rx="7.0" ry="5.8" fill="#5072a8"/>
<ellipse cx="218.7" cy="208.7" rx="8.2" ry="4.7" fill="#4a6a9e"/>
<ellipse cx="267.7" cy="201.7" rx="5.8" ry="5.8" fill="#5072a8"/>
<ellipse cx="274.0" cy="150.3" rx="5.0" ry="6.0" fill="#4a6ca4"/>
<ellipse cx="289.7" cy="151.0" rx="9.3" ry="5.8" fill="#5072a8" transform="rotate(-20 289.7 151.0)"/>
<ellipse cx="282.7" cy="164.4" rx="6.4" ry="4.7" fill="#4a6a9e"/>
<ellipse cx="296.1" cy="172.0" rx="8.2" ry="5.8" fill="#4a6a9e"/>
<ellipse cx="318.9" cy="146.8" rx="7.0" ry="3.5" fill="#3a5078"/>
<ellipse cx="332.9" cy="147.4" rx="7.0" ry="4.0" fill="#3a5078"/>
<ellipse cx="324.7" cy="170.2" rx="8.2" ry="5.8" fill="#3a5482"/>
<ellipse cx="289.1" cy="181.9" rx="6.4" ry="5.8" fill="#5072a8"/>
<ellipse cx="304.3" cy="188.9" rx="6.4" ry="6.4" fill="#5072a8"/>
<ellipse cx="317.7" cy="190.0" rx="5.8" ry="5.3" fill="#5072a8"/>
<ellipse cx="334.7" cy="188.9" rx="7.0" ry="6.4" fill="#3a5078"/>
<ellipse cx="280.3" cy="198.2" rx="6.4" ry="5.8" fill="#44649a"/>
<ellipse cx="308.4" cy="202.9" rx="7.0" ry="5.3" fill="#5072a8"/>
<ellipse cx="198.8" cy="217.4" rx="5.3" ry="5.8" fill="#44649a"/>
<ellipse cx="215.2" cy="214.5" rx="8.2" ry="4.7" fill="#4a6a9e"/>
<ellipse cx="231.5" cy="218.0" rx="7.0" ry="7.0" fill="#4a5a90"/>
<ellipse cx="252.6" cy="213.3" rx="7.0" ry="3.5" fill="#4a6ca4"/>
<ellipse cx="198.3" cy="230.9" rx="5.3" ry="5.3" fill="#4a6ca4"/>
<ellipse cx="212.9" cy="233.2" rx="7.0" ry="5.8" fill="#5072a8"/>
<ellipse cx="225.1" cy="229.7" rx="6.4" ry="7.0" fill="#44649a"/>
<ellipse cx="239.7" cy="226.2" rx="5.0" ry="6.0" fill="#4a5a90"/>
<ellipse cx="256.6" cy="223.8" rx="7.0" ry="6.4" fill="#4a6a9e"/>
<ellipse cx="267.7" cy="225.0" rx="5.0" ry="5.0" fill="#4a5a90"/>
<ellipse cx="214.0" cy="248.4" rx="10.0" ry="8.2" fill="#4a6a9e"/>
<ellipse cx="247.3" cy="242.0" rx="7.0" ry="6.4" fill="#5072a8"/>
<ellipse cx="263.0" cy="236.7" rx="7.0" ry="6.0" fill="#4a5a90"/>
<ellipse cx="228.0" cy="262.4" rx="8.2" ry="7.0" fill="#44649a"/>
<ellipse cx="253.7" cy="261.2" rx="9.3" ry="7.6" fill="#5072a8"/>
<ellipse cx="263.0" cy="250.7" rx="8.2" ry="6.4" fill="#4a6a9e"/>
<ellipse cx="204.7" cy="268.2" rx="8.2" ry="7.0" fill="#4a6ca4"/>
<ellipse cx="225.7" cy="276.4" rx="8.2" ry="4.7" fill="#4a6a9e"/>
<ellipse cx="244.4" cy="277.6" rx="6.0" ry="4.0" fill="#4a5a90"/>
<ellipse cx="278.0" cy="216.8" rx="7.0" ry="5.8" fill="#4a6a9e"/>
<ellipse cx="300.2" cy="214.5" rx="7.0" ry="5.3" fill="#5072a8"/>
<ellipse cx="317.7" cy="219.2" rx="8.2" ry="6.4" fill="#5072a8"/>
<ellipse cx="299.0" cy="226.2" rx="7.0" ry="4.7" fill="#4a6ca4"/>
<ellipse cx="285.0" cy="233.8" rx="6.4" ry="6.4" fill="#5072a8"/>
<ellipse cx="299.0" cy="236.1" rx="6.4" ry="7.0" fill="#5072a8"/>
<ellipse cx="310.7" cy="234.4" rx="4.7" ry="8.2" fill="#4a6ca4"/>
<ellipse cx="288.5" cy="249.5" rx="6.4" ry="8.2" fill="#5072a8"/>
<ellipse cx="299.6" cy="257.7" rx="4.7" ry="5.8" fill="#4a6a9e"/>
<ellipse cx="314.8" cy="256.5" rx="5.3" ry="7.0" fill="#4a6ca4"/>
<ellipse cx="328.2" cy="259.5" rx="7.0" ry="6.4" fill="#4a6a9e"/>
<ellipse cx="272.2" cy="254.2" rx="4.0" ry="6.0" fill="#5072a8"/>
<ellipse cx="282.7" cy="264.7" rx="8.2" ry="6.4" fill="#5072a8"/>
<ellipse cx="297.9" cy="274.6" rx="8.2" ry="5.3" fill="#4a6a9e"/>
<ellipse cx="320.0" cy="274.6" rx="7.0" ry="5.3" fill="#4a6ca4"/>
<ellipse cx="278.0" cy="278.7" rx="6.0" ry="3.0" fill="#4a6ca4"/>
</g>
<g filter="url(#nuctex)">
<ellipse cx="236.2" cy="161.4" rx="4.7" ry="4.7" fill="#5aa0f4"/>
<ellipse cx="266.6" cy="187.7" rx="5.0" ry="5.0" fill="#5aa0f4"/>
<ellipse cx="271.0" cy="187.7" rx="3.0" ry="4.0" fill="#5aa0f4"/>
</g>
<g filter="url(#blur05)" fill="none" stroke="#c8e020" stroke-width="1.6">
<ellipse cx="278.0" cy="216.8" rx="7.5" ry="6.5" fill="none"/>
<ellipse cx="300.2" cy="214.5" rx="7.5" ry="6.0" fill="none"/>
</g>
<ellipse cx="292.0" cy="162.0" rx="4.0" ry="3.0" fill="#f07030" filter="url(#blur1)"/>
<rect x="325" y="266.5" width="22.8" height="1.3" fill="#eee"/>
<text x="328.3" y="277.4" font-size="7" fill="#eee">20 µm</text>
<text x="202.7" y="161.4" font-size="12" fill="#fff">K273A</text>
<text x="309.5" y="157.4" font-size="13" fill="#88c84a" textLength="31.6" lengthAdjust="spacingAndGlyphs">CFTR</text>
<text x="309.5" y="172.5" font-size="13" fill="#4a86cc" textLength="27.3" lengthAdjust="spacingAndGlyphs">DAPI</text>
<text x="309.5" y="188.3" font-size="13" fill="#ee1c1c" textLength="15.6" lengthAdjust="spacingAndGlyphs">ER</text>
</g>
</svg>
<svg class="abs" style="left:0;top:0" width="685" height="690" viewBox="0 0 685 690">
<line x1="412" y1="167.1" x2="683" y2="167.1" stroke="#d4d4d4" stroke-width="0.8" stroke-dasharray="1.5 2"/>
<line x1="412" y1="149.9" x2="683" y2="149.9" stroke="#d4d4d4" stroke-width="0.8" stroke-dasharray="1.5 2"/>
<line x1="412" y1="132.8" x2="683" y2="132.8" stroke="#d4d4d4" stroke-width="0.8" stroke-dasharray="1.5 2"/>
<line x1="412" y1="115.7" x2="683" y2="115.7" stroke="#d4d4d4" stroke-width="0.8" stroke-dasharray="1.5 2"/>
<line x1="412" y1="98.5" x2="683" y2="98.5" stroke="#d4d4d4" stroke-width="0.8" stroke-dasharray="1.5 2"/>
<line x1="412" y1="81.4" x2="683" y2="81.4" stroke="#d4d4d4" stroke-width="0.8" stroke-dasharray="1.5 2"/>
<line x1="412" y1="64.3" x2="683" y2="64.3" stroke="#d4d4d4" stroke-width="0.8" stroke-dasharray="1.5 2"/>
<line x1="425.5" y1="55" x2="425.5" y2="184" stroke="#d4d4d4" stroke-width="0.8" stroke-dasharray="1.5 2"/>
<line x1="467.5" y1="55" x2="467.5" y2="184" stroke="#d4d4d4" stroke-width="0.8" stroke-dasharray="1.5 2"/>
<line x1="509.6" y1="55" x2="509.6" y2="184" stroke="#d4d4d4" stroke-width="0.8" stroke-dasharray="1.5 2"/>
<line x1="551.6" y1="55" x2="551.6" y2="184" stroke="#d4d4d4" stroke-width="0.8" stroke-dasharray="1.5 2"/>
<line x1="593.6" y1="55" x2="593.6" y2="184" stroke="#d4d4d4" stroke-width="0.8" stroke-dasharray="1.5 2"/>
<line x1="635.7" y1="55" x2="635.7" y2="184" stroke="#d4d4d4" stroke-width="0.8" stroke-dasharray="1.5 2"/>
<line x1="677.8" y1="55" x2="677.8" y2="184" stroke="#d4d4d4" stroke-width="0.8" stroke-dasharray="1.5 2"/>
<rect x="433.9" y="183.2" width="1.3" height="1.0" fill="#ffc8c8"/>
<rect x="435.2" y="183.2" width="3.9" height="1.0" fill="#ff5757"/>
<rect x="442.9" y="180.1" width="1.3" height="4.1" fill="#ffc8c8"/>
<rect x="444.2" y="180.1" width="3.9" height="4.1" fill="#ff5757"/>
<rect x="452.0" y="179.0" width="1.3" height="5.2" fill="#ffc8c8"/>
<rect x="453.3" y="179.0" width="3.9" height="5.2" fill="#ff5757"/>
<rect x="461.2" y="174.9" width="1.3" height="9.3" fill="#ffc8c8"/>
<rect x="462.5" y="174.9" width="3.9" height="9.3" fill="#ff5757"/>
<rect x="470.7" y="169.3" width="1.3" height="14.9" fill="#ffc8c8"/>
<rect x="472.0" y="169.3" width="3.9" height="14.9" fill="#ff5757"/>
<rect x="479.7" y="165.3" width="1.3" height="18.9" fill="#ffc8c8"/>
<rect x="481.0" y="165.3" width="3.9" height="18.9" fill="#ff5757"/>
<rect x="488.9" y="148.8" width="1.3" height="35.4" fill="#ffc8c8"/>
<rect x="490.2" y="148.8" width="3.9" height="35.4" fill="#ff5757"/>
<rect x="497.9" y="143.9" width="1.3" height="40.3" fill="#ffc8c8"/>
<rect x="499.2" y="143.9" width="3.9" height="40.3" fill="#ff5757"/>
<rect x="507.5" y="135.0" width="1.3" height="49.2" fill="#ffc8c8"/>
<rect x="508.8" y="135.0" width="3.9" height="49.2" fill="#ff5757"/>
<rect x="516.6" y="134.0" width="1.3" height="50.2" fill="#ffc8c8"/>
<rect x="517.9" y="134.0" width="3.9" height="50.2" fill="#ff5757"/>
<rect x="525.7" y="98.9" width="1.3" height="85.3" fill="#ffc8c8"/>
<rect x="527.0" y="98.9" width="3.9" height="85.3" fill="#ff5757"/>
<rect x="534.5" y="117.1" width="1.3" height="67.1" fill="#ffc8c8"/>
<rect x="535.8" y="117.1" width="3.9" height="67.1" fill="#ff5757"/>
<rect x="544.3" y="60.2" width="1.3" height="124.0" fill="#ffc8c8"/>
<rect x="545.6" y="60.2" width="3.9" height="124.0" fill="#ff5757"/>
<rect x="553.7" y="157.9" width="1.3" height="26.3" fill="#ffc8c8"/>
<rect x="555.0" y="157.9" width="3.9" height="26.3" fill="#ff5757"/>
<rect x="562.7" y="134.8" width="1.3" height="49.4" fill="#ffc8c8"/>
<rect x="564.0" y="134.8" width="3.9" height="49.4" fill="#ff5757"/>
<rect x="571.3" y="133.9" width="1.3" height="50.3" fill="#ffc8c8"/>
<rect x="572.6" y="133.9" width="3.9" height="50.3" fill="#ff5757"/>
<rect x="580.3" y="169.0" width="1.3" height="15.2" fill="#ffc8c8"/>
<rect x="581.6" y="169.0" width="3.9" height="15.2" fill="#ff5757"/>
<rect x="589.5" y="160.0" width="1.3" height="24.2" fill="#ffc8c8"/>
<rect x="590.8" y="160.0" width="3.9" height="24.2" fill="#ff5757"/>
<rect x="599.3" y="171.3" width="1.3" height="12.9" fill="#ffc8c8"/>
<rect x="600.6" y="171.3" width="3.9" height="12.9" fill="#ff5757"/>
<rect x="608.0" y="178.0" width="1.3" height="6.2" fill="#ffc8c8"/>
<rect x="609.3" y="178.0" width="3.9" height="6.2" fill="#ff5757"/>
<rect x="616.9" y="178.9" width="1.3" height="5.3" fill="#ffc8c8"/>
<rect x="618.2" y="178.9" width="3.9" height="5.3" fill="#ff5757"/>
<rect x="626.7" y="182.6" width="1.3" height="1.6" fill="#ffc8c8"/>
<rect x="628.0" y="182.6" width="3.9" height="1.6" fill="#ff5757"/>
<rect x="636.2" y="183.4" width="1.3" height="0.8" fill="#ffc8c8"/>
<rect x="637.5" y="183.4" width="3.9" height="0.8" fill="#ff5757"/>
<rect x="646.0" y="183.4" width="1.3" height="0.8" fill="#ffc8c8"/>
<rect x="647.3" y="183.4" width="3.9" height="0.8" fill="#ff5757"/>
<polyline points="411.0,184.0 520.0,184.0 532.0,182.0 540.0,178.5 545.0,173.6 550.8,169.6 556.7,160.2 563.7,146.2 568.4,138.0 574.4,129.6 583.5,134.0 587.0,140.4 592.9,149.7 597.6,159.0 603.4,168.4 610.4,176.6 617.4,180.7 625.0,183.0 640.0,184.0 683.0,184.0" fill="none" stroke="#5ee65e" stroke-width="1.1" stroke-linejoin="round"/>
<polyline points="411.0,184.0 436.4,183.0 455.0,181.2 465.0,177.8 473.8,174.3 482.5,168.5 491.9,160.3 501.2,148.0 509.4,136.4 516.4,128.2 523.4,120.0 528.7,115.0 533.5,111.0 538.6,108.6 546.2,108.4 551.0,110.0 556.7,114.7 563.7,120.5 571.9,130.4 580.0,143.9 587.0,152.0 594.0,160.2 602.2,167.8 610.4,174.2 619.7,178.3 629.5,181.5 648.2,183.6 683.0,184.0" fill="none" stroke="#5b6cff" stroke-width="1.0" stroke-linejoin="round"/>
<polyline points="411.0,184.0 436.4,183.0 455.0,181.2 465.0,177.8 473.8,174.3 482.5,168.5 491.9,160.3 501.2,148.0 509.4,136.4 516.4,128.2 523.4,120.0 530.0,112.3 536.9,105.2 547.4,95.9 556.7,87.1 565.5,79.2 574.0,80.7 583.6,97.0 593.0,118.8 602.2,146.7 610.4,167.5 620.8,178.0 632.4,181.4 648.6,183.7 683.0,184.0" fill="none" stroke="#222" stroke-width="1.1" stroke-linejoin="round"/>
<rect x="411.6" y="54.6" width="271.8" height="129.6" fill="none" stroke="#1a1a1a" stroke-width="1.4"/>
<line x1="411" y1="184.3" x2="684" y2="184.3" stroke="#1a1a1a" stroke-width="2"/>
<line x1="587" y1="71.6" x2="606" y2="71.6" stroke="#1f3ff0" stroke-width="1.8"/>
<line x1="587" y1="80" x2="606" y2="80" stroke="#8fd24a" stroke-width="1.8"/>
<line x1="587" y1="88.8" x2="606" y2="88.8" stroke="#111" stroke-width="1.8"/>
<g font-family="Liberation Sans, sans-serif" font-size="12" fill="#111">
<text x="614" y="80" textLength="65" lengthAdjust="spacingAndGlyphs">background</text>
<text x="614" y="89.5" textLength="58.7" lengthAdjust="spacingAndGlyphs">interactors</text>
<text x="614" y="99.3">total</text>
</g>
<g font-family="Liberation Sans, sans-serif" font-size="11" fill="#111" text-anchor="end">
<text x="408.6" y="188.9" textLength="5.7" lengthAdjust="spacingAndGlyphs">0</text>
<text x="408.6" y="171.8" textLength="11.4" lengthAdjust="spacingAndGlyphs">50</text>
<text x="408.6" y="154.6" textLength="17.1" lengthAdjust="spacingAndGlyphs">100</text>
<text x="408.6" y="137.5" textLength="17.1" lengthAdjust="spacingAndGlyphs">150</text>
<text x="408.6" y="120.4" textLength="17.1" lengthAdjust="spacingAndGlyphs">200</text>
<text x="408.6" y="103.2" textLength="17.1" lengthAdjust="spacingAndGlyphs">250</text>
<text x="408.6" y="86.1" textLength="17.1" lengthAdjust="spacingAndGlyphs">300</text>
<text x="408.6" y="69.0" textLength="17.1" lengthAdjust="spacingAndGlyphs">350</text>
</g>
<g font-family="Liberation Sans, sans-serif" font-size="11" fill="#111" text-anchor="middle">
<text x="426.5" y="201.8" font-size="11.8">-1.5</text>
<text x="458.3" y="201.8" font-size="11.8">-1.0</text>
<text x="505.5" y="201.8" font-size="11.8">-0.5</text>
<text x="548.8" y="201.8" font-size="11.8">0</text>
<text x="592" y="201.8" font-size="11.8">0.5</text>
<text x="638" y="201.8" font-size="11.8">1.0</text>
<text x="677.5" y="201.8" font-size="11.8">1.5</text>
<text x="549.2" y="214.3" font-size="12.2">values n</text>
<text transform="translate(384,124.1) rotate(-90)" font-size="12.4">frequency</text>
</g>
</svg>
<svg class="abs" style="left:0;top:0" width="685" height="690" viewBox="0 0 685 690">
<g stroke="#8a8a8a" stroke-width="0.55" fill="none">
<line x1="176.2" y1="336" x2="143.4" y2="355.8"/>
<line x1="176.2" y1="336" x2="210.7" y2="353.4"/>
<line x1="176.2" y1="336" x2="214.8" y2="390.8"/>
<line x1="176.2" y1="336" x2="160.7" y2="388.3"/>
<line x1="143.4" y1="355.8" x2="210.7" y2="353.4"/>
<line x1="143.4" y1="355.8" x2="191.2" y2="399.8"/>
<line x1="143.4" y1="355.8" x2="132.7" y2="411.2"/>
<line x1="223.4" y1="323.3" x2="264.6" y2="337.5"/>
<line x1="223.4" y1="323.3" x2="210.7" y2="353.4"/>
<line x1="223.4" y1="323.3" x2="235.2" y2="370.3"/>
<line x1="210.7" y1="353.4" x2="214.8" y2="390.8"/>
<line x1="210.7" y1="353.4" x2="186.8" y2="372.2"/>
<line x1="186.8" y1="372.2" x2="214.8" y2="390.8"/>
<line x1="186.8" y1="372.2" x2="154.6" y2="450.6"/>
<line x1="235.2" y1="370.3" x2="214.8" y2="390.8"/>
<line x1="235.2" y1="370.3" x2="291.7" y2="358.6"/>
<line x1="235.2" y1="370.3" x2="238.8" y2="408"/>
<line x1="291.7" y1="358.6" x2="340.6" y2="371.2"/>
<line x1="264.6" y1="337.5" x2="318.9" y2="331.8"/>
<line x1="264.6" y1="337.5" x2="267" y2="387.7"/>
<line x1="264.6" y1="337.5" x2="291.7" y2="358.6"/>
<line x1="318.9" y1="331.8" x2="314.3" y2="389.9"/>
<line x1="318.9" y1="331.8" x2="340.6" y2="371.2"/>
<line x1="267" y1="387.7" x2="314.3" y2="389.9"/>
<line x1="267" y1="387.7" x2="268.6" y2="427.3"/>
<line x1="291.7" y1="358.6" x2="293.3" y2="406.1"/>
<line x1="238.8" y1="408" x2="293.3" y2="406.1"/>
<line x1="238.8" y1="408" x2="237.1" y2="450.2"/>
<line x1="238.8" y1="408" x2="199.8" y2="441.9"/>
<line x1="293.3" y1="406.1" x2="325" y2="425.3"/>
<line x1="293.3" y1="406.1" x2="268.6" y2="427.3"/>
<line x1="314.3" y1="389.9" x2="308.9" y2="448.1"/>
<line x1="340.6" y1="371.2" x2="325" y2="425.3"/>
<line x1="325" y1="425.3" x2="308.9" y2="448.1"/>
<line x1="268.6" y1="427.3" x2="308.9" y2="448.1"/>
<line x1="268.6" y1="427.3" x2="267.2" y2="457.8"/>
<line x1="268.6" y1="427.3" x2="237.1" y2="450.2"/>
<line x1="160.7" y1="388.3" x2="132.7" y2="411.2"/>
<line x1="160.7" y1="388.3" x2="191.2" y2="399.8"/>
<line x1="214.8" y1="390.8" x2="199.8" y2="441.9"/>
<line x1="214.8" y1="390.8" x2="206" y2="427.8"/>
<line x1="191.2" y1="399.8" x2="181.9" y2="459.8"/>
<line x1="191.2" y1="399.8" x2="206" y2="427.8"/>
<line x1="166" y1="415.2" x2="132.7" y2="411.2"/>
<line x1="166" y1="415.2" x2="181.9" y2="459.8"/>
<line x1="132.7" y1="411.2" x2="89.4" y2="436.4"/>
<line x1="132.7" y1="411.2" x2="154.6" y2="450.6"/>
<line x1="132.7" y1="411.2" x2="181.9" y2="459.8"/>
<line x1="132.7" y1="411.2" x2="185.6" y2="488.7"/>
<line x1="132.7" y1="411.2" x2="206" y2="427.8"/>
<line x1="132.7" y1="411.2" x2="199.8" y2="441.9"/>
<line x1="132.7" y1="411.2" x2="230.6" y2="522.4"/>
<line x1="154.6" y1="450.6" x2="199.8" y2="441.9"/>
<line x1="154.6" y1="450.6" x2="181.9" y2="459.8"/>
<line x1="122.2" y1="452.1" x2="102.5" y2="500"/>
<line x1="122.2" y1="452.1" x2="200.9" y2="515"/>
<line x1="89.4" y1="436.4" x2="102.5" y2="500"/>
<line x1="89.4" y1="436.4" x2="126.6" y2="515.7"/>
<line x1="206" y1="427.8" x2="181.9" y2="459.8"/>
<line x1="206" y1="427.8" x2="237.1" y2="450.2"/>
<line x1="199.8" y1="441.9" x2="200.9" y2="515"/>
<line x1="181.9" y1="459.8" x2="185.6" y2="488.7"/>
<line x1="181.9" y1="459.8" x2="166.8" y2="522.4"/>
<line x1="237.1" y1="450.2" x2="252.6" y2="498.2"/>
<line x1="237.1" y1="450.2" x2="200.9" y2="515"/>
<line x1="237.1" y1="450.2" x2="268.2" y2="533.1"/>
<line x1="267.2" y1="457.8" x2="287.6" y2="476.1"/>
<line x1="267.2" y1="457.8" x2="230.6" y2="522.4"/>
<line x1="308.9" y1="448.1" x2="252.6" y2="498.2"/>
<line x1="308.9" y1="448.1" x2="349.5" y2="481.2"/>
<line x1="308.9" y1="448.1" x2="268.2" y2="533.1"/>
<line x1="59.7" y1="467.7" x2="77.9" y2="486.6"/>
<line x1="59.7" y1="467.7" x2="102.5" y2="500"/>
<line x1="77.9" y1="486.6" x2="71.8" y2="512.4"/>
<line x1="32.9" y1="490.7" x2="102.5" y2="500"/>
<line x1="32.9" y1="490.7" x2="17.7" y2="543.3"/>
<line x1="38.5" y1="510.4" x2="71.8" y2="512.4"/>
<line x1="38.5" y1="510.4" x2="17.7" y2="543.3"/>
<line x1="71.8" y1="512.4" x2="17.7" y2="543.3"/>
<line x1="71.8" y1="512.4" x2="41" y2="555"/>
<line x1="71.8" y1="512.4" x2="126.6" y2="515.7"/>
<line x1="71.8" y1="512.4" x2="76.3" y2="540.3"/>
<line x1="102.5" y1="500" x2="76.3" y2="540.3"/>
<line x1="102.5" y1="500" x2="145.4" y2="490.6"/>
<line x1="102.5" y1="500" x2="88.3" y2="588.6"/>
<line x1="102.5" y1="500" x2="185.6" y2="488.7"/>
<line x1="126.6" y1="515.7" x2="166.8" y2="522.4"/>
<line x1="126.6" y1="515.7" x2="41" y2="555"/>
<line x1="166.8" y1="522.4" x2="74.7" y2="566"/>
<line x1="166.8" y1="522.4" x2="200.9" y2="515"/>
<line x1="166.8" y1="522.4" x2="192.3" y2="580.8"/>
<line x1="166.8" y1="522.4" x2="185.1" y2="544"/>
<line x1="166.8" y1="522.4" x2="146.4" y2="603.9"/>
<line x1="41" y1="555" x2="38.5" y2="510.4"/>
<line x1="41" y1="555" x2="74.7" y2="566"/>
<line x1="17.7" y1="543.3" x2="16.9" y2="568.4"/>
<line x1="16.9" y1="568.4" x2="36.9" y2="583.6"/>
<line x1="74.7" y1="566" x2="130.8" y2="584.4"/>
<line x1="130.8" y1="584.4" x2="105.2" y2="615.8"/>
<line x1="130.8" y1="584.4" x2="192.3" y2="580.8"/>
<line x1="88.3" y1="588.6" x2="59.4" y2="606.6"/>
<line x1="88.3" y1="588.6" x2="146.4" y2="603.9"/>
<line x1="88.3" y1="588.6" x2="91.4" y2="643.1"/>
<line x1="119" y1="553.9" x2="145.4" y2="490.6"/>
<line x1="119" y1="553.9" x2="164.2" y2="564.1"/>
<line x1="164.2" y1="564.1" x2="185.1" y2="544"/>
<line x1="164.2" y1="564.1" x2="145.4" y2="490.6"/>
<line x1="185.6" y1="488.7" x2="200.9" y2="515"/>
<line x1="185.6" y1="488.7" x2="222.9" y2="482.3"/>
<line x1="200.9" y1="515" x2="185.1" y2="544"/>
<line x1="200.9" y1="515" x2="217.7" y2="544"/>
<line x1="200.9" y1="515" x2="222.9" y2="482.3"/>
<line x1="200.9" y1="515" x2="232.9" y2="579"/>
<line x1="200.9" y1="515" x2="267.8" y2="571.1"/>
<line x1="200.9" y1="515" x2="252.6" y2="498.2"/>
<line x1="222.9" y1="482.3" x2="287.6" y2="476.1"/>
<line x1="222.9" y1="482.3" x2="303.9" y2="523.3"/>
<line x1="252.6" y1="498.2" x2="309.7" y2="492.9"/>
<line x1="252.6" y1="498.2" x2="230.6" y2="522.4"/>
<line x1="230.6" y1="522.4" x2="217.7" y2="544"/>
<line x1="230.6" y1="522.4" x2="287.6" y2="476.1"/>
<line x1="230.6" y1="522.4" x2="268.2" y2="533.1"/>
<line x1="309.7" y1="492.9" x2="349.5" y2="481.2"/>
<line x1="309.7" y1="492.9" x2="310.7" y2="563.2"/>
<line x1="303.9" y1="523.3" x2="335" y2="530.4"/>
<line x1="303.9" y1="523.3" x2="268.2" y2="533.1"/>
<line x1="287.6" y1="476.1" x2="303.9" y2="523.3"/>
<line x1="310.7" y1="563.2" x2="268.2" y2="533.1"/>
<line x1="310.7" y1="563.2" x2="310.5" y2="607.3"/>
<line x1="310.5" y1="607.3" x2="232.9" y2="579"/>
<line x1="310.5" y1="607.3" x2="259.1" y2="605.8"/>
<line x1="310.5" y1="607.3" x2="190.7" y2="612"/>
<line x1="259.1" y1="605.8" x2="190.7" y2="612"/>
<line x1="232.9" y1="579" x2="268.2" y2="533.1"/>
<line x1="232.9" y1="579" x2="190.7" y2="612"/>
<line x1="232.9" y1="579" x2="244.7" y2="625.3"/>
<line x1="232.9" y1="579" x2="192.3" y2="580.8"/>
<line x1="185.1" y1="544" x2="243.4" y2="551.1"/>
<line x1="217.7" y1="544" x2="243.4" y2="551.1"/>
<line x1="243.4" y1="551.1" x2="268.2" y2="533.1"/>
<line x1="243.4" y1="551.1" x2="267.8" y2="571.1"/>
<line x1="244.7" y1="625.3" x2="211" y2="637.5"/>
<line x1="244.7" y1="625.3" x2="248.3" y2="650.1"/>
<line x1="248.3" y1="650.1" x2="230" y2="666"/>
<line x1="211" y1="637.5" x2="230" y2="666"/>
<line x1="211" y1="637.5" x2="192.3" y2="580.8"/>
<line x1="190.7" y1="612" x2="139.6" y2="635.2"/>
<line x1="139.6" y1="635.2" x2="178.1" y2="657.5"/>
<line x1="139.6" y1="635.2" x2="146.4" y2="603.9"/>
<line x1="139.6" y1="635.2" x2="91.4" y2="643.1"/>
<line x1="146.4" y1="603.9" x2="192.3" y2="580.8"/>
<line x1="105.2" y1="615.8" x2="130.8" y2="584.4"/>
<line x1="76.3" y1="540.3" x2="166.8" y2="522.4"/>
</g>
<g stroke="#7a6a7a" stroke-width="0.35" stroke-opacity="0.6">
<circle cx="176.2" cy="336" r="3" fill="#f0a050"/>
<circle cx="143.4" cy="355.8" r="6.6" fill="#f6c23e"/>
<circle cx="223.4" cy="323.3" r="3" fill="#f0a060"/>
<circle cx="210.7" cy="353.4" r="3.2" fill="#ee9560"/>
<circle cx="264.6" cy="337.5" r="3" fill="#f0a055"/>
<circle cx="235.2" cy="370.3" r="3.5" fill="#f0b050"/>
<circle cx="291.7" cy="358.6" r="3.5" fill="#f2b050"/>
<circle cx="318.9" cy="331.8" r="3" fill="#f0a850"/>
<circle cx="340.6" cy="371.2" r="4" fill="#f3b24d"/>
<circle cx="267" cy="387.7" r="3.5" fill="#f2b24a"/>
<circle cx="214.8" cy="390.8" r="3.5" fill="#f4b845"/>
<circle cx="186.8" cy="372.2" r="3.5" fill="#f4b845"/>
<circle cx="191.2" cy="399.8" r="7.6" fill="#f8c83e"/>
<circle cx="160.7" cy="388.3" r="3" fill="#f2b048"/>
<circle cx="132.7" cy="411.2" r="8.8" fill="#f8c83e"/>
<circle cx="166" cy="415.2" r="3.5" fill="#f0a850"/>
<circle cx="89.4" cy="436.4" r="4" fill="#e88060"/>
<circle cx="122.2" cy="452.1" r="3.5" fill="#ee9a55"/>
<circle cx="154.6" cy="450.6" r="3" fill="#f2a850"/>
<circle cx="181.9" cy="459.8" r="11" fill="#f8c83e"/>
<circle cx="238.8" cy="408" r="3.5" fill="#f2b04a"/>
<circle cx="206" cy="427.8" r="6.2" fill="#f6bf40"/>
<circle cx="199.8" cy="441.9" r="3.5" fill="#f2a850"/>
<circle cx="237.1" cy="450.2" r="4.5" fill="#f2a850"/>
<circle cx="268.6" cy="427.3" r="4" fill="#f2b048"/>
<circle cx="267.2" cy="457.8" r="4" fill="#f2b048"/>
<circle cx="314.3" cy="389.9" r="3.5" fill="#f2b848"/>
<circle cx="293.3" cy="406.1" r="4" fill="#f2b048"/>
<circle cx="325" cy="425.3" r="4.5" fill="#f4b848"/>
<circle cx="308.9" cy="448.1" r="6.5" fill="#f0a070"/>
<circle cx="59.7" cy="467.7" r="5.6" fill="#f4b04a"/>
<circle cx="77.9" cy="486.6" r="5.5" fill="#d65a78"/>
<circle cx="32.9" cy="490.7" r="4" fill="#f0a848"/>
<circle cx="102.5" cy="500" r="10" fill="#c0509a"/>
<circle cx="38.5" cy="510.4" r="8" fill="#d8608a"/>
<circle cx="71.8" cy="512.4" r="9.2" fill="#b8509c"/>
<circle cx="76.3" cy="540.3" r="11" fill="#8a3aa8"/>
<circle cx="145.4" cy="490.6" r="3.5" fill="#f0a050"/>
<circle cx="185.6" cy="488.7" r="14" fill="#c058a0"/>
<circle cx="126.6" cy="515.7" r="11.5" fill="#f0a060"/>
<circle cx="166.8" cy="522.4" r="12.4" fill="#9040a8"/>
<circle cx="200.9" cy="515" r="11.5" fill="#e07878"/>
<circle cx="222.9" cy="482.3" r="5" fill="#e88060"/>
<circle cx="252.6" cy="498.2" r="6.7" fill="#f09060"/>
<circle cx="230.6" cy="522.4" r="7.6" fill="#f5b840"/>
<circle cx="268.2" cy="533.1" r="13.8" fill="#c858a0"/>
<circle cx="287.6" cy="476.1" r="5" fill="#e89068"/>
<circle cx="309.7" cy="492.9" r="6.4" fill="#f5ee10"/>
<circle cx="349.5" cy="481.2" r="6" fill="#f0a860"/>
<circle cx="303.9" cy="523.3" r="5.5" fill="#f0a050"/>
<circle cx="335" cy="530.4" r="4.5" fill="#f0a858"/>
<circle cx="17.7" cy="543.3" r="6.5" fill="#d86080"/>
<circle cx="41" cy="555" r="9" fill="#d05888"/>
<circle cx="16.9" cy="568.4" r="5.5" fill="#e07080"/>
<circle cx="36.9" cy="583.6" r="5.5" fill="#d05888"/>
<circle cx="74.7" cy="566" r="8.7" fill="#d06088"/>
<circle cx="88.3" cy="588.6" r="5" fill="#e88068"/>
<circle cx="59.4" cy="606.6" r="4.5" fill="#e88070"/>
<circle cx="105.2" cy="615.8" r="8.5" fill="#d06088"/>
<circle cx="119" cy="553.9" r="3.5" fill="#f0a850"/>
<circle cx="164.2" cy="564.1" r="3.5" fill="#f0a850"/>
<circle cx="185.1" cy="544" r="3.5" fill="#f2b048"/>
<circle cx="130.8" cy="584.4" r="8.4" fill="#d86080"/>
<circle cx="192.3" cy="580.8" r="12.2" fill="#9840a8"/>
<circle cx="146.4" cy="603.9" r="5.8" fill="#f5b040"/>
<circle cx="190.7" cy="612" r="9" fill="#f0a850"/>
<circle cx="217.7" cy="544" r="3.5" fill="#f2b048"/>
<circle cx="243.4" cy="551.1" r="4.5" fill="#f5b840"/>
<circle cx="232.9" cy="579" r="15.1" fill="#6a2cc0"/>
<circle cx="267.8" cy="571.1" r="7.6" fill="#e8806a"/>
<circle cx="259.1" cy="605.8" r="8.8" fill="#f0a850"/>
<circle cx="310.7" cy="563.2" r="14" fill="#c85898"/>
<circle cx="310.5" cy="607.3" r="15.2" fill="#6a2fc0"/>
<circle cx="139.6" cy="635.2" r="7.4" fill="#f5b048"/>
<circle cx="91.4" cy="643.1" r="4.5" fill="#e88070"/>
<circle cx="178.1" cy="657.5" r="4" fill="#f5c040"/>
<circle cx="244.7" cy="625.3" r="3.5" fill="#f5b840"/>
<circle cx="211" cy="637.5" r="3.5" fill="#f5b840"/>
<circle cx="248.3" cy="650.1" r="3.5" fill="#f5b840"/>
<circle cx="230" cy="666" r="3.5" fill="#f5b840"/>
</g>
<g stroke="#8a8a8a" stroke-width="0.55" fill="none" style="mix-blend-mode:multiply" opacity="0.35">
<line x1="176.2" y1="336" x2="143.4" y2="355.8"/>
<line x1="176.2" y1="336" x2="210.7" y2="353.4"/>
<line x1="176.2" y1="336" x2="214.8" y2="390.8"/>
<line x1="176.2" y1="336" x2="160.7" y2="388.3"/>
<line x1="143.4" y1="355.8" x2="210.7" y2="353.4"/>
<line x1="143.4" y1="355.8" x2="191.2" y2="399.8"/>
<line x1="143.4" y1="355.8" x2="132.7" y2="411.2"/>
<line x1="223.4" y1="323.3" x2="264.6" y2="337.5"/>
<line x1="223.4" y1="323.3" x2="210.7" y2="353.4"/>
<line x1="223.4" y1="323.3" x2="235.2" y2="370.3"/>
<line x1="210.7" y1="353.4" x2="214.8" y2="390.8"/>
<line x1="210.7" y1="353.4" x2="186.8" y2="372.2"/>
<line x1="186.8" y1="372.2" x2="214.8" y2="390.8"/>
<line x1="186.8" y1="372.2" x2="154.6" y2="450.6"/>
<line x1="235.2" y1="370.3" x2="214.8" y2="390.8"/>
<line x1="235.2" y1="370.3" x2="291.7" y2="358.6"/>
<line x1="235.2" y1="370.3" x2="238.8" y2="408"/>
<line x1="291.7" y1="358.6" x2="340.6" y2="371.2"/>
<line x1="264.6" y1="337.5" x2="318.9" y2="331.8"/>
<line x1="264.6" y1="337.5" x2="267" y2="387.7"/>
<line x1="264.6" y1="337.5" x2="291.7" y2="358.6"/>
<line x1="318.9" y1="331.8" x2="314.3" y2="389.9"/>
<line x1="318.9" y1="331.8" x2="340.6" y2="371.2"/>
<line x1="267" y1="387.7" x2="314.3" y2="389.9"/>
<line x1="267" y1="387.7" x2="268.6" y2="427.3"/>
<line x1="291.7" y1="358.6" x2="293.3" y2="406.1"/>
<line x1="238.8" y1="408" x2="293.3" y2="406.1"/>
<line x1="238.8" y1="408" x2="237.1" y2="450.2"/>
<line x1="238.8" y1="408" x2="199.8" y2="441.9"/>
<line x1="293.3" y1="406.1" x2="325" y2="425.3"/>
<line x1="293.3" y1="406.1" x2="268.6" y2="427.3"/>
<line x1="314.3" y1="389.9" x2="308.9" y2="448.1"/>
<line x1="340.6" y1="371.2" x2="325" y2="425.3"/>
<line x1="325" y1="425.3" x2="308.9" y2="448.1"/>
<line x1="268.6" y1="427.3" x2="308.9" y2="448.1"/>
<line x1="268.6" y1="427.3" x2="267.2" y2="457.8"/>
<line x1="268.6" y1="427.3" x2="237.1" y2="450.2"/>
<line x1="160.7" y1="388.3" x2="132.7" y2="411.2"/>
<line x1="160.7" y1="388.3" x2="191.2" y2="399.8"/>
<line x1="214.8" y1="390.8" x2="199.8" y2="441.9"/>
<line x1="214.8" y1="390.8" x2="206" y2="427.8"/>
<line x1="191.2" y1="399.8" x2="181.9" y2="459.8"/>
<line x1="191.2" y1="399.8" x2="206" y2="427.8"/>
<line x1="166" y1="415.2" x2="132.7" y2="411.2"/>
<line x1="166" y1="415.2" x2="181.9" y2="459.8"/>
<line x1="132.7" y1="411.2" x2="89.4" y2="436.4"/>
<line x1="132.7" y1="411.2" x2="154.6" y2="450.6"/>
<line x1="132.7" y1="411.2" x2="181.9" y2="459.8"/>
<line x1="132.7" y1="411.2" x2="185.6" y2="488.7"/>
<line x1="132.7" y1="411.2" x2="206" y2="427.8"/>
<line x1="132.7" y1="411.2" x2="199.8" y2="441.9"/>
<line x1="132.7" y1="411.2" x2="230.6" y2="522.4"/>
<line x1="154.6" y1="450.6" x2="199.8" y2="441.9"/>
<line x1="154.6" y1="450.6" x2="181.9" y2="459.8"/>
<line x1="122.2" y1="452.1" x2="102.5" y2="500"/>
<line x1="122.2" y1="452.1" x2="200.9" y2="515"/>
<line x1="89.4" y1="436.4" x2="102.5" y2="500"/>
<line x1="89.4" y1="436.4" x2="126.6" y2="515.7"/>
<line x1="206" y1="427.8" x2="181.9" y2="459.8"/>
<line x1="206" y1="427.8" x2="237.1" y2="450.2"/>
<line x1="199.8" y1="441.9" x2="200.9" y2="515"/>
<line x1="181.9" y1="459.8" x2="185.6" y2="488.7"/>
<line x1="181.9" y1="459.8" x2="166.8" y2="522.4"/>
<line x1="237.1" y1="450.2" x2="252.6" y2="498.2"/>
<line x1="237.1" y1="450.2" x2="200.9" y2="515"/>
<line x1="237.1" y1="450.2" x2="268.2" y2="533.1"/>
<line x1="267.2" y1="457.8" x2="287.6" y2="476.1"/>
<line x1="267.2" y1="457.8" x2="230.6" y2="522.4"/>
<line x1="308.9" y1="448.1" x2="252.6" y2="498.2"/>
<line x1="308.9" y1="448.1" x2="349.5" y2="481.2"/>
<line x1="308.9" y1="448.1" x2="268.2" y2="533.1"/>
<line x1="59.7" y1="467.7" x2="77.9" y2="486.6"/>
<line x1="59.7" y1="467.7" x2="102.5" y2="500"/>
<line x1="77.9" y1="486.6" x2="71.8" y2="512.4"/>
<line x1="32.9" y1="490.7" x2="102.5" y2="500"/>
<line x1="32.9" y1="490.7" x2="17.7" y2="543.3"/>
<line x1="38.5" y1="510.4" x2="71.8" y2="512.4"/>
<line x1="38.5" y1="510.4" x2="17.7" y2="543.3"/>
<line x1="71.8" y1="512.4" x2="17.7" y2="543.3"/>
<line x1="71.8" y1="512.4" x2="41" y2="555"/>
<line x1="71.8" y1="512.4" x2="126.6" y2="515.7"/>
<line x1="71.8" y1="512.4" x2="76.3" y2="540.3"/>
<line x1="102.5" y1="500" x2="76.3" y2="540.3"/>
<line x1="102.5" y1="500" x2="145.4" y2="490.6"/>
<line x1="102.5" y1="500" x2="88.3" y2="588.6"/>
<line x1="102.5" y1="500" x2="185.6" y2="488.7"/>
<line x1="126.6" y1="515.7" x2="166.8" y2="522.4"/>
<line x1="126.6" y1="515.7" x2="41" y2="555"/>
<line x1="166.8" y1="522.4" x2="74.7" y2="566"/>
<line x1="166.8" y1="522.4" x2="200.9" y2="515"/>
<line x1="166.8" y1="522.4" x2="192.3" y2="580.8"/>
<line x1="166.8" y1="522.4" x2="185.1" y2="544"/>
<line x1="166.8" y1="522.4" x2="146.4" y2="603.9"/>
<line x1="41" y1="555" x2="38.5" y2="510.4"/>
<line x1="41" y1="555" x2="74.7" y2="566"/>
<line x1="17.7" y1="543.3" x2="16.9" y2="568.4"/>
<line x1="16.9" y1="568.4" x2="36.9" y2="583.6"/>
<line x1="74.7" y1="566" x2="130.8" y2="584.4"/>
<line x1="130.8" y1="584.4" x2="105.2" y2="615.8"/>
<line x1="130.8" y1="584.4" x2="192.3" y2="580.8"/>
<line x1="88.3" y1="588.6" x2="59.4" y2="606.6"/>
<line x1="88.3" y1="588.6" x2="146.4" y2="603.9"/>
<line x1="88.3" y1="588.6" x2="91.4" y2="643.1"/>
<line x1="119" y1="553.9" x2="145.4" y2="490.6"/>
<line x1="119" y1="553.9" x2="164.2" y2="564.1"/>
<line x1="164.2" y1="564.1" x2="185.1" y2="544"/>
<line x1="164.2" y1="564.1" x2="145.4" y2="490.6"/>
<line x1="185.6" y1="488.7" x2="200.9" y2="515"/>
<line x1="185.6" y1="488.7" x2="222.9" y2="482.3"/>
<line x1="200.9" y1="515" x2="185.1" y2="544"/>
<line x1="200.9" y1="515" x2="217.7" y2="544"/>
<line x1="200.9" y1="515" x2="222.9" y2="482.3"/>
<line x1="200.9" y1="515" x2="232.9" y2="579"/>
<line x1="200.9" y1="515" x2="267.8" y2="571.1"/>
<line x1="200.9" y1="515" x2="252.6" y2="498.2"/>
<line x1="222.9" y1="482.3" x2="287.6" y2="476.1"/>
<line x1="222.9" y1="482.3" x2="303.9" y2="523.3"/>
<line x1="252.6" y1="498.2" x2="309.7" y2="492.9"/>
<line x1="252.6" y1="498.2" x2="230.6" y2="522.4"/>
<line x1="230.6" y1="522.4" x2="217.7" y2="544"/>
<line x1="230.6" y1="522.4" x2="287.6" y2="476.1"/>
<line x1="230.6" y1="522.4" x2="268.2" y2="533.1"/>
<line x1="309.7" y1="492.9" x2="349.5" y2="481.2"/>
<line x1="309.7" y1="492.9" x2="310.7" y2="563.2"/>
<line x1="303.9" y1="523.3" x2="335" y2="530.4"/>
<line x1="303.9" y1="523.3" x2="268.2" y2="533.1"/>
<line x1="287.6" y1="476.1" x2="303.9" y2="523.3"/>
<line x1="310.7" y1="563.2" x2="268.2" y2="533.1"/>
<line x1="310.7" y1="563.2" x2="310.5" y2="607.3"/>
<line x1="310.5" y1="607.3" x2="232.9" y2="579"/>
<line x1="310.5" y1="607.3" x2="259.1" y2="605.8"/>
<line x1="310.5" y1="607.3" x2="190.7" y2="612"/>
<line x1="259.1" y1="605.8" x2="190.7" y2="612"/>
<line x1="232.9" y1="579" x2="268.2" y2="533.1"/>
<line x1="232.9" y1="579" x2="190.7" y2="612"/>
<line x1="232.9" y1="579" x2="244.7" y2="625.3"/>
<line x1="232.9" y1="579" x2="192.3" y2="580.8"/>
<line x1="185.1" y1="544" x2="243.4" y2="551.1"/>
<line x1="217.7" y1="544" x2="243.4" y2="551.1"/>
<line x1="243.4" y1="551.1" x2="268.2" y2="533.1"/>
<line x1="243.4" y1="551.1" x2="267.8" y2="571.1"/>
<line x1="244.7" y1="625.3" x2="211" y2="637.5"/>
<line x1="244.7" y1="625.3" x2="248.3" y2="650.1"/>
<line x1="248.3" y1="650.1" x2="230" y2="666"/>
<line x1="211" y1="637.5" x2="230" y2="666"/>
<line x1="211" y1="637.5" x2="192.3" y2="580.8"/>
<line x1="190.7" y1="612" x2="139.6" y2="635.2"/>
<line x1="139.6" y1="635.2" x2="178.1" y2="657.5"/>
<line x1="139.6" y1="635.2" x2="146.4" y2="603.9"/>
<line x1="139.6" y1="635.2" x2="91.4" y2="643.1"/>
<line x1="146.4" y1="603.9" x2="192.3" y2="580.8"/>
<line x1="105.2" y1="615.8" x2="130.8" y2="584.4"/>
<line x1="76.3" y1="540.3" x2="166.8" y2="522.4"/>
</g>
<g font-family="Liberation Sans, sans-serif" font-size="5.6" font-weight="bold" fill="#000" stroke="#000" stroke-width="0.12" text-anchor="middle" letter-spacing="0.15">
<text x="176.2" y="326.1">clathrin</text>
<text x="176.2" y="332.1">coat</text>
<text x="176.2" y="338.0">of</text>
<text x="176.2" y="343.9">coated</text>
<text x="176.2" y="349.9">pit</text>
<text x="143.4" y="351.9">plasma</text>
<text x="143.4" y="357.8">membrane</text>
<text x="143.4" y="363.8">part</text>
<text x="223.4" y="313.4">clathrin</text>
<text x="223.4" y="319.4">coat</text>
<text x="223.4" y="325.3">of</text>
<text x="223.4" y="331.2">endocytic</text>
<text x="223.4" y="337.2">vesicle</text>
<text x="210.7" y="349.4">AP-2</text>
<text x="210.7" y="355.4">adaptor</text>
<text x="210.7" y="361.3">complex</text>
<text x="264.6" y="330.6">clathrin-coated</text>
<text x="264.6" y="336.5">endocytic</text>
<text x="264.6" y="342.5">vesicle</text>
<text x="264.6" y="348.4">membrane</text>
<text x="235.2" y="366.4">clathrin</text>
<text x="235.2" y="372.3">vesicle</text>
<text x="235.2" y="378.2">coat</text>
<text x="291.7" y="351.7">clathrin</text>
<text x="291.7" y="357.6">coated</text>
<text x="291.7" y="363.6">vesicle</text>
<text x="291.7" y="369.5">membrane</text>
<text x="318.9" y="327.9">clathrin-coated</text>
<text x="318.9" y="333.8">endocytic</text>
<text x="318.9" y="339.8">vesicle</text>
<text x="340.6" y="370.2">clathrin-coated</text>
<text x="340.6" y="376.2">vesicle</text>
<text x="267" y="383.8">endocytic</text>
<text x="267" y="389.7">vesicle</text>
<text x="267" y="395.6">membrane</text>
<text x="214.8" y="389.8">clathrin</text>
<text x="214.8" y="395.8">coat</text>
<text x="186.8" y="368.2">clathrin</text>
<text x="186.8" y="374.2">adaptor</text>
<text x="186.8" y="380.1">complex</text>
<text x="191.2" y="398.8">plasma</text>
<text x="191.2" y="404.8">membrane</text>
<text x="160.7" y="387.3">coated</text>
<text x="160.7" y="393.3">pit</text>
<text x="132.7" y="410.2">membrane</text>
<text x="132.7" y="416.2">part</text>
<text x="166" y="414.2">coated</text>
<text x="166" y="420.2">membrane</text>
<text x="89.4" y="423.5">proton-transporting</text>
<text x="89.4" y="429.5">two-sector</text>
<text x="89.4" y="435.4">ATPase</text>
<text x="89.4" y="441.4">complex,</text>
<text x="89.4" y="447.3">catalytic</text>
<text x="89.4" y="453.3">domain</text>
<text x="122.2" y="445.2">ubiquitin</text>
<text x="122.2" y="451.1">conjugating</text>
<text x="122.2" y="457.1">enzyme</text>
<text x="122.2" y="463.0">complex</text>
<text x="154.6" y="440.7">AP-type</text>
<text x="154.6" y="446.7">membrane</text>
<text x="154.6" y="452.6">coat</text>
<text x="154.6" y="458.6">adaptor</text>
<text x="154.6" y="464.5">complex</text>
<text x="181.9" y="461.8">membrane</text>
<text x="238.8" y="407.0">vesicle</text>
<text x="238.8" y="413.0">coat</text>
<text x="206" y="426.8">endomembrane</text>
<text x="206" y="432.8">system</text>
<text x="199.8" y="440.9">membrane</text>
<text x="199.8" y="446.9">coat</text>
<text x="237.1" y="446.2">cytoplasmic</text>
<text x="237.1" y="452.2">vesicle</text>
<text x="237.1" y="458.1">part</text>
<text x="268.6" y="423.4">cytoplasmic</text>
<text x="268.6" y="429.3">vesicle</text>
<text x="268.6" y="435.2">membrane</text>
<text x="267.2" y="456.8">vesicle</text>
<text x="267.2" y="462.8">membrane</text>
<text x="314.3" y="388.9">endocytic</text>
<text x="314.3" y="394.9">vesicle</text>
<text x="293.3" y="402.2">coated</text>
<text x="293.3" y="408.1">vesicle</text>
<text x="293.3" y="414.1">membrane</text>
<text x="325" y="424.3">coated</text>
<text x="325" y="430.3">vesicle</text>
<text x="308.9" y="444.2">cytoplasmic</text>
<text x="308.9" y="450.1">membrane-bounded</text>
<text x="308.9" y="456.1">vesicle</text>
<text x="59.7" y="466.7">ribonucleoprotein</text>
<text x="59.7" y="472.7">complex</text>
<text x="77.9" y="485.6">spliceosomal</text>
<text x="77.9" y="491.6">complex</text>
<text x="32.9" y="486.8">histone</text>
<text x="32.9" y="492.7">acetyltransferase</text>
<text x="32.9" y="498.6">complex</text>
<text x="102.5" y="499.0">protein</text>
<text x="102.5" y="505.0">complex</text>
<text x="38.5" y="512.4">nucleoplasm</text>
<text x="71.8" y="511.4">nuclear</text>
<text x="71.8" y="517.4">part</text>
<text x="76.3" y="539.3">macromolecular</text>
<text x="76.3" y="545.3">complex</text>
<text x="145.4" y="483.7">proton-transporting</text>
<text x="145.4" y="489.6">two-sector</text>
<text x="145.4" y="495.6">ATPase</text>
<text x="145.4" y="501.5">complex</text>
<text x="185.6" y="490.7">cytoplasm</text>
<text x="126.6" y="517.7">nucleus</text>
<text x="166.8" y="518.4">intracellular</text>
<text x="166.8" y="524.4">organelle</text>
<text x="166.8" y="530.4">part</text>
<text x="200.9" y="514.0">cytoplasmic</text>
<text x="200.9" y="520.0">part</text>
<text x="222.9" y="481.3">endosomal</text>
<text x="222.9" y="487.3">part</text>
<text x="252.6" y="497.2">cytoplasmic</text>
<text x="252.6" y="503.2">vesicle</text>
<text x="230.6" y="521.4">organelle</text>
<text x="230.6" y="527.4">membrane</text>
<text x="268.2" y="529.1">intracellular</text>
<text x="268.2" y="535.1">membrane-bounded</text>
<text x="268.2" y="541.1">organelle</text>
<text x="287.6" y="475.1">endosome</text>
<text x="287.6" y="481.1">membrane</text>
<text x="309.7" y="494.9">vesicle</text>
<text x="349.5" y="480.2">membrane-bounded</text>
<text x="349.5" y="486.2">vesicle</text>
<text x="303.9" y="525.3">endosome</text>
<text x="335" y="529.4">late</text>
<text x="335" y="535.4">endosome</text>
<text x="17.7" y="542.3">nucleoplasm</text>
<text x="17.7" y="548.3">part</text>
<text x="41" y="554.0">nuclear</text>
<text x="41" y="560.0">lumen</text>
<text x="16.9" y="567.4">nuclear</text>
<text x="16.9" y="573.4">body</text>
<text x="36.9" y="582.6">nuclear</text>
<text x="36.9" y="588.6">speck</text>
<text x="74.7" y="562.0">intracellular</text>
<text x="74.7" y="568.0">organelle</text>
<text x="74.7" y="574.0">lumen</text>
<text x="88.3" y="587.6">intermediate</text>
<text x="88.3" y="593.6">filament</text>
<text x="59.4" y="605.6">keratin</text>
<text x="59.4" y="611.6">filament</text>
<text x="105.2" y="614.8">membrane-enclosed</text>
<text x="105.2" y="620.8">lumen</text>
<text x="119" y="547.0">proton-transporting</text>
<text x="119" y="552.9">V-type</text>
<text x="119" y="558.9">ATPase</text>
<text x="119" y="564.8">complex</text>
<text x="164.2" y="554.2">vacuolar</text>
<text x="164.2" y="560.1">proton-transporting</text>
<text x="164.2" y="566.1">V-type</text>
<text x="164.2" y="572.1">ATPase</text>
<text x="164.2" y="578.0">complex</text>
<text x="185.1" y="543.0">vacuolar</text>
<text x="185.1" y="549.0">part</text>
<text x="130.8" y="583.4">organelle</text>
<text x="130.8" y="589.4">lumen</text>
<text x="192.3" y="579.8">organelle</text>
<text x="192.3" y="585.8">part</text>
<text x="146.4" y="602.9">cytoskeletal</text>
<text x="146.4" y="608.9">part</text>
<text x="190.7" y="608.0">intracellular</text>
<text x="190.7" y="614.0">non-membrane-bounded</text>
<text x="190.7" y="620.0">organelle</text>
<text x="217.7" y="543.0">vacuolar</text>
<text x="217.7" y="549.0">membrane</text>
<text x="243.4" y="553.1">vacuole</text>
<text x="232.9" y="578.0">intracellular</text>
<text x="232.9" y="584.0">organelle</text>
<text x="267.8" y="573.1">cytosol</text>
<text x="259.1" y="604.8">non-membrane-bounded</text>
<text x="259.1" y="610.8">organelle</text>
<text x="310.7" y="562.2">membrane-bounded</text>
<text x="310.7" y="568.2">organelle</text>
<text x="310.5" y="609.3">organelle</text>
<text x="139.6" y="637.2">cytoskeleton</text>
<text x="91.4" y="639.1">intermediate</text>
<text x="91.4" y="645.1">filament</text>
<text x="91.4" y="651.1">cytoskeleton</text>
<text x="178.1" y="656.5">actin</text>
<text x="178.1" y="662.5">cytoskeleton</text>
<text x="244.7" y="624.3">contractile</text>
<text x="244.7" y="630.3">fiber</text>
<text x="211" y="633.5">contractile</text>
<text x="211" y="639.5">fiber</text>
<text x="211" y="645.5">part</text>
<text x="248.3" y="652.1">myofibril</text>
<text x="230" y="668.0">sarcomere</text>
</g>
<defs><linearGradient id="pval" x1="0" y1="0" x2="1" y2="0">
<stop offset="0" stop-color="#f4bb4e"/><stop offset="0.3" stop-color="#e08a66"/><stop offset="0.5" stop-color="#c85c7e"/><stop offset="0.72" stop-color="#a04a94"/><stop offset="1" stop-color="#4630a6"/></linearGradient></defs>
<rect x="32.6" y="668.5" width="114.8" height="6.3" fill="url(#pval)"/>
<g font-family="Liberation Sans, sans-serif" font-size="12.4" fill="#111">
<text x="27.6" y="687.8">1e-1</text><text x="76.2" y="687.8">p-value</text><text x="131.4" y="687.8">1e-11</text>
</g>
</svg>
<svg class="abs" style="left:0;top:0" width="685" height="690" viewBox="0 0 685 690">
<defs>
<linearGradient id="gblue" x1="0" y1="0" x2="0" y2="1"><stop offset="0" stop-color="#a9c9fb"/><stop offset="0.55" stop-color="#80aaf0"/><stop offset="1" stop-color="#3d79d2"/></linearGradient>
</defs>
<line x1="530" y1="284" x2="537.5" y2="341.6" stroke="#8fd0e0" stroke-width="2.8"/>
<line x1="530" y1="284" x2="580.3" y2="371.6" stroke="#8fd0e0" stroke-width="2.8"/>
<line x1="537.5" y1="341.6" x2="580.3" y2="371.6" stroke="#8fd0e0" stroke-width="2.8"/>
<line x1="537.5" y1="341.6" x2="514.5" y2="392.4" stroke="#8fd0e0" stroke-width="2.8"/>
<line x1="514.5" y1="392.4" x2="580.3" y2="371.6" stroke="#8fd0e0" stroke-width="2.8"/>
<line x1="514.5" y1="392.4" x2="487.6" y2="430.7" stroke="#8fd0e0" stroke-width="2.8"/>
<line x1="514.5" y1="392.4" x2="503.2" y2="467" stroke="#8fd0e0" stroke-width="2.8"/>
<line x1="487.6" y1="430.7" x2="569" y2="419.3" stroke="#8fd0e0" stroke-width="2.8"/>
<line x1="487.6" y1="430.7" x2="540.9" y2="448.3" stroke="#8fd0e0" stroke-width="2.8"/>
<line x1="487.6" y1="430.7" x2="503.2" y2="467" stroke="#8fd0e0" stroke-width="2.8"/>
<line x1="503.2" y1="467" x2="540.9" y2="448.3" stroke="#8fd0e0" stroke-width="2.8"/>
<line x1="540.9" y1="448.3" x2="569" y2="419.3" stroke="#8fd0e0" stroke-width="2.8"/>
<line x1="445.8" y1="511.5" x2="415.8" y2="549.6" stroke="#9dbbe4" stroke-width="2.8"/>
<line x1="445.8" y1="511.5" x2="484.2" y2="554.5" stroke="#9dbbe4" stroke-width="2.8"/>
<line x1="445.8" y1="511.5" x2="436" y2="597.9" stroke="#9dbbe4" stroke-width="2.8"/>
<line x1="415.8" y1="549.6" x2="484.2" y2="554.5" stroke="#9dbbe4" stroke-width="2.8"/>
<line x1="415.8" y1="549.6" x2="436" y2="597.9" stroke="#9dbbe4" stroke-width="2.8"/>
<line x1="415.8" y1="549.6" x2="472.1" y2="615.2" stroke="#9dbbe4" stroke-width="2.8"/>
<line x1="484.2" y1="554.5" x2="436" y2="597.9" stroke="#9dbbe4" stroke-width="2.8"/>
<line x1="484.2" y1="554.5" x2="472.1" y2="615.2" stroke="#9dbbe4" stroke-width="2.8"/>
<line x1="484.2" y1="554.5" x2="507.3" y2="595.7" stroke="#9dbbe4" stroke-width="2.8"/>
<line x1="436" y1="597.9" x2="472.1" y2="615.2" stroke="#9dbbe4" stroke-width="2.8"/>
<line x1="436" y1="597.9" x2="507.3" y2="595.7" stroke="#9dbbe4" stroke-width="2.8"/>
<ellipse cx="530" cy="284" rx="11.80" ry="12.20" fill="#fbd27e" stroke="#f2ea10" stroke-width="1.6"/>
<ellipse cx="478" cy="323.4" rx="19.60" ry="18.40" fill="#c3d59b" stroke="none" stroke-width="0"/>
<ellipse cx="537.5" cy="341.6" rx="19.00" ry="17.80" fill="url(#gblue)" stroke="#3f6fb5" stroke-width="1.0"/>
<ellipse cx="580.3" cy="371.6" rx="18.90" ry="17.60" fill="url(#gblue)" stroke="#3f6fb5" stroke-width="1.0"/>
<ellipse cx="514.5" cy="392.4" rx="15.95" ry="14.75" fill="#90cddc" stroke="#1f5a6a" stroke-width="1.5"/>
<ellipse cx="487.6" cy="430.7" rx="10.15" ry="10.35" fill="#90cddc" stroke="#1f5a6a" stroke-width="1.5"/>
<ellipse cx="503.2" cy="467" rx="10.25" ry="10.35" fill="#90cddc" stroke="#1f5a6a" stroke-width="1.5"/>
<ellipse cx="540.9" cy="448.3" rx="15.95" ry="15.35" fill="#90cddc" stroke="#1f5a6a" stroke-width="1.5"/>
<ellipse cx="569" cy="419.3" rx="15.95" ry="15.25" fill="#90cddc" stroke="#1f5a6a" stroke-width="1.5"/>
<ellipse cx="484.2" cy="554.5" rx="10.25" ry="10.35" fill="#90cddc" stroke="#1f5a6a" stroke-width="1.5"/>
<ellipse cx="436" cy="597.9" rx="10.25" ry="10.15" fill="#90cddc" stroke="#1f5a6a" stroke-width="1.5"/>
<ellipse cx="472.1" cy="615.2" rx="10.45" ry="10.65" fill="#90cddc" stroke="#1f5a6a" stroke-width="1.5"/>
<ellipse cx="445.8" cy="511.5" rx="15.65" ry="15.85" fill="#b09dc9" stroke="#7a2fb0" stroke-width="1.5"/>
<ellipse cx="415.8" cy="549.6" rx="15.85" ry="15.85" fill="#b09dc9" stroke="#7a2fb0" stroke-width="1.5"/>
<ellipse cx="507.3" cy="595.7" rx="16.05" ry="16.05" fill="#b09dc9" stroke="#7a2fb0" stroke-width="1.5"/>
<g font-family="Liberation Sans, sans-serif" font-size="12.5" fill="#111">
<text x="516" y="310.9" textLength="37" lengthAdjust="spacingAndGlyphs">VPS37</text>
<text x="461.2" y="353.4" textLength="40.4" lengthAdjust="spacingAndGlyphs">STAM2</text>
<text x="513.3" y="372.8" textLength="37.4" lengthAdjust="spacingAndGlyphs">VPS25</text>
<text x="583.1" y="400.9" textLength="31.1" lengthAdjust="spacingAndGlyphs">SNF8</text>
<text x="497.4" y="421.2" textLength="49" lengthAdjust="spacingAndGlyphs">CHMP7</text>
<text x="446.4" y="454.7" textLength="38.6" lengthAdjust="spacingAndGlyphs">VPS4B</text>
<text x="485.7" y="493" textLength="38.5" lengthAdjust="spacingAndGlyphs">VPS4A</text>
<text x="533.6" y="477.3" textLength="50.7" lengthAdjust="spacingAndGlyphs">CHMP4A</text>
<text x="577.8" y="446.3" textLength="50.8" lengthAdjust="spacingAndGlyphs">CHMP4B</text>
<text x="437.7" y="539.9" textLength="45.2" lengthAdjust="spacingAndGlyphs">VPS26B</text>
<text x="393.2" y="580.2" textLength="45.5" lengthAdjust="spacingAndGlyphs">VPS26A</text>
<text x="470.6" y="578.5" textLength="36.4" lengthAdjust="spacingAndGlyphs">VPS29</text>
<text x="412.7" y="623.5" textLength="37.4" lengthAdjust="spacingAndGlyphs">VPS35</text>
<text x="465" y="639.5" textLength="23.9" lengthAdjust="spacingAndGlyphs">TTC4</text>
<text x="501.6" y="626.8" textLength="31.2" lengthAdjust="spacingAndGlyphs">SNX3</text>
</g>
<g font-family="Liberation Sans, sans-serif" font-size="12.3" font-weight="bold" fill="#111">
<text x="422.9" y="299.2" textLength="51.4" lengthAdjust="spacingAndGlyphs">ESCRT 0</text>
<text x="563.8" y="285.7" textLength="47.7" lengthAdjust="spacingAndGlyphs">ESCRT I</text>
<text x="598.3" y="345.9" textLength="51.7" lengthAdjust="spacingAndGlyphs">ESCRT II</text>
<text x="415.8" y="401.4" textLength="54.3" lengthAdjust="spacingAndGlyphs">ESCRT III</text>
<text x="531.7" y="562.8" textLength="53.9" lengthAdjust="spacingAndGlyphs">Retromer</text>
</g>
</svg>
<svg class="abs" style="left:0;top:0" width="685" height="690" viewBox="0 0 685 690" font-family="Liberation Sans, sans-serif" font-weight="bold" font-size="19.5" fill="#000">
<ellipse cx="174" cy="285.4" rx="12.5" ry="2.2" fill="#ececec" style="filter:blur(1.2px)"/><text x="7.8" y="13.9">A</text><text x="375.3" y="14">B</text><text x="8.4" y="320.2">C</text><text x="351.6" y="319.8">D</text>
</svg>
</body></html>
